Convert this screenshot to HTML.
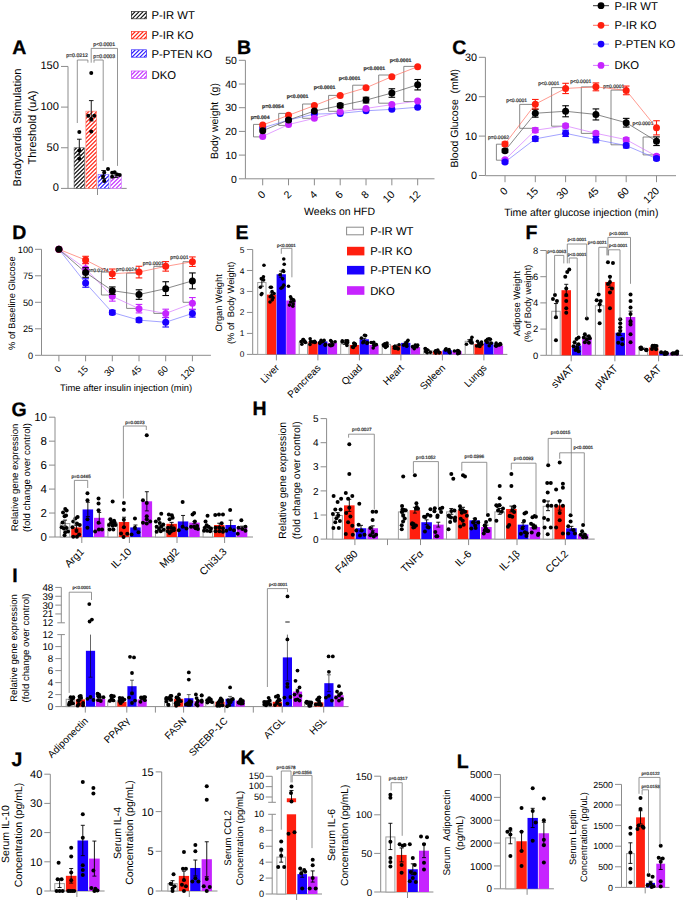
<!DOCTYPE html>
<html><head><meta charset="utf-8"><title>Figure</title>
<style>html,body{margin:0;padding:0;background:#fff;width:685px;height:901px;overflow:hidden}svg{display:block}text{font-family:"Liberation Sans",sans-serif}</style>
</head><body>
<svg width="685" height="901" viewBox="0 0 685 901" font-family="Liberation Sans" text-rendering="geometricPrecision"><defs>
<pattern id="hk" patternUnits="userSpaceOnUse" width="2.9" height="2.9" patternTransform="rotate(45)"><rect width="2.9" height="2.9" fill="#fff"/><line x1="0" y1="0" x2="0" y2="2.9" stroke="#111" stroke-width="1.45"/></pattern>
<pattern id="hr" patternUnits="userSpaceOnUse" width="2.9" height="2.9" patternTransform="rotate(45)"><rect width="2.9" height="2.9" fill="#fff"/><line x1="0" y1="0" x2="0" y2="2.9" stroke="#ff2a1a" stroke-width="1.45"/></pattern>
<pattern id="hb" patternUnits="userSpaceOnUse" width="2.9" height="2.9" patternTransform="rotate(45)"><rect width="2.9" height="2.9" fill="#fff"/><line x1="0" y1="0" x2="0" y2="2.9" stroke="#2a1aff" stroke-width="1.45"/></pattern>
<pattern id="hp" patternUnits="userSpaceOnUse" width="2.9" height="2.9" patternTransform="rotate(45)"><rect width="2.9" height="2.9" fill="#fff"/><line x1="0" y1="0" x2="0" y2="2.9" stroke="#c63aff" stroke-width="1.45"/></pattern>
</defs><rect width="685" height="901" fill="#fff"/><text x="12.3" y="54.2" font-size="19.5" font-weight="bold" fill="#000" stroke="#000" stroke-width="0.3">A</text>
<line x1="68" y1="66.45" x2="68" y2="188.4" stroke="#8c8c8c" stroke-width="1"/>
<line x1="61" y1="188.4" x2="68" y2="188.4" stroke="#8c8c8c" stroke-width="1"/>
<text x="58.9" y="191.4" font-size="11.1" text-anchor="end">0</text>
<line x1="61" y1="147.75" x2="68" y2="147.75" stroke="#8c8c8c" stroke-width="1"/>
<text x="58.9" y="150.75" font-size="11.1" text-anchor="end">50</text>
<line x1="61" y1="107.1" x2="68" y2="107.1" stroke="#8c8c8c" stroke-width="1"/>
<text x="58.9" y="110.1" font-size="11.1" text-anchor="end">100</text>
<line x1="61" y1="66.45" x2="68" y2="66.45" stroke="#8c8c8c" stroke-width="1"/>
<text x="58.9" y="69.45" font-size="11.1" text-anchor="end">150</text>
<line x1="68" y1="188.4" x2="126.7" y2="188.4" stroke="#8c8c8c" stroke-width="1"/>
<line x1="97.5" y1="188.4" x2="97.5" y2="195" stroke="#8c8c8c" stroke-width="1"/>
<text x="0" y="0" font-size="11.2" text-anchor="middle" transform="translate(21.32 127.5) rotate(-90)">Bradycardia Stimulation</text>
<text x="0" y="0" font-size="11.2" text-anchor="middle" transform="translate(35.62 127.5) rotate(-90)">Threshold (uA)</text>
<clipPath id="hc1"><rect x="74.1" y="147.75" width="10.4" height="40.65"/></clipPath>
<rect x="74.1" y="147.75" width="10.4" height="40.65" fill="#fff"/>
<path clip-path="url(#hc1)" d="M32 188.4L72.65 147.75M36 188.4L76.65 147.75M40 188.4L80.65 147.75M44 188.4L84.65 147.75M48 188.4L88.65 147.75M52 188.4L92.65 147.75M56 188.4L96.65 147.75M60 188.4L100.65 147.75M64 188.4L104.65 147.75M68 188.4L108.65 147.75M72 188.4L112.65 147.75M76 188.4L116.65 147.75M80 188.4L120.65 147.75M84 188.4L124.65 147.75" stroke="#111" stroke-width="1.2" fill="none"/>
<rect x="74.1" y="147.75" width="10.4" height="40.65" fill="none" stroke="#555" stroke-width="0.6"/>
<clipPath id="hc2"><rect x="85.9" y="111.17" width="10.7" height="77.23"/></clipPath>
<rect x="85.9" y="111.17" width="10.7" height="77.23" fill="#fff"/>
<path clip-path="url(#hc2)" d="M8 188.4L85.23 111.17M12 188.4L89.23 111.17M16 188.4L93.23 111.17M20 188.4L97.23 111.17M24 188.4L101.23 111.17M28 188.4L105.23 111.17M32 188.4L109.23 111.17M36 188.4L113.23 111.17M40 188.4L117.23 111.17M44 188.4L121.23 111.17M48 188.4L125.23 111.17M52 188.4L129.24 111.17M56 188.4L133.24 111.17M60 188.4L137.24 111.17M64 188.4L141.24 111.17M68 188.4L145.24 111.17M72 188.4L149.24 111.17M76 188.4L153.24 111.17M80 188.4L157.24 111.17M84 188.4L161.24 111.17M88 188.4L165.24 111.17M92 188.4L169.24 111.17M96 188.4L173.24 111.17" stroke="#ff2a1a" stroke-width="1.2" fill="none"/>
<rect x="85.9" y="111.17" width="10.7" height="77.23" fill="none" stroke="#ff6a5a" stroke-width="0.6"/>
<clipPath id="hc3"><rect x="98.1" y="174.58" width="10.8" height="13.82"/></clipPath>
<rect x="98.1" y="174.58" width="10.8" height="13.82" fill="#fff"/>
<path clip-path="url(#hc3)" d="M84 188.4L97.82 174.58M88 188.4L101.82 174.58M92 188.4L105.82 174.58M96 188.4L109.82 174.58M100 188.4L113.82 174.58M104 188.4L117.82 174.58M108 188.4L121.82 174.58" stroke="#2a1aff" stroke-width="1.2" fill="none"/>
<rect x="98.1" y="174.58" width="10.8" height="13.82" fill="none" stroke="#6a5aff" stroke-width="0.6"/>
<clipPath id="hc4"><rect x="110.5" y="176.21" width="10.9" height="12.19"/></clipPath>
<rect x="110.5" y="176.21" width="10.9" height="12.19" fill="#fff"/>
<path clip-path="url(#hc4)" d="M96 188.4L108.19 176.21M100 188.4L112.19 176.21M104 188.4L116.19 176.21M108 188.4L120.19 176.21M112 188.4L124.19 176.21M116 188.4L128.19 176.21M120 188.4L132.19 176.21" stroke="#c63aff" stroke-width="1.2" fill="none"/>
<rect x="110.5" y="176.21" width="10.9" height="12.19" fill="none" stroke="#d27aff" stroke-width="0.6"/>
<line x1="79.3" y1="155.07" x2="79.3" y2="139.21" stroke="#000000" stroke-width="0.9"/>
<line x1="77" y1="139.21" x2="81.6" y2="139.21" stroke="#000000" stroke-width="0.9"/>
<line x1="77" y1="155.07" x2="81.6" y2="155.07" stroke="#000000" stroke-width="0.9"/>
<circle cx="79.3" cy="131.98" r="2" fill="#000000"/>
<circle cx="79.3" cy="150.6" r="2" fill="#000000"/>
<circle cx="79.3" cy="158.81" r="2" fill="#000000"/>
<line x1="91.25" y1="120.92" x2="91.25" y2="100.6" stroke="#000000" stroke-width="0.9"/>
<line x1="88.95" y1="100.6" x2="93.55" y2="100.6" stroke="#000000" stroke-width="0.9"/>
<line x1="88.95" y1="120.92" x2="93.55" y2="120.92" stroke="#000000" stroke-width="0.9"/>
<circle cx="91.25" cy="72.95" r="2" fill="#000000"/>
<circle cx="88.25" cy="115.64" r="2" fill="#000000"/>
<circle cx="91.25" cy="118.89" r="2" fill="#000000"/>
<circle cx="94.25" cy="115.64" r="2" fill="#000000"/>
<circle cx="91.25" cy="131.49" r="2" fill="#000000"/>
<line x1="103.5" y1="178.64" x2="103.5" y2="170.51" stroke="#000000" stroke-width="0.9"/>
<line x1="101.2" y1="170.51" x2="105.8" y2="170.51" stroke="#000000" stroke-width="0.9"/>
<line x1="101.2" y1="178.64" x2="105.8" y2="178.64" stroke="#000000" stroke-width="0.9"/>
<circle cx="108" cy="168.89" r="2" fill="#000000"/>
<circle cx="104.2" cy="172.55" r="2" fill="#000000"/>
<circle cx="104.2" cy="181.08" r="2" fill="#000000"/>
<circle cx="103" cy="176.61" r="2" fill="#000000"/>
<line x1="115.95" y1="177.42" x2="115.95" y2="174.99" stroke="#000000" stroke-width="0.9"/>
<line x1="113.65" y1="174.99" x2="118.25" y2="174.99" stroke="#000000" stroke-width="0.9"/>
<line x1="113.65" y1="177.42" x2="118.25" y2="177.42" stroke="#000000" stroke-width="0.9"/>
<circle cx="112.15" cy="172.63" r="2" fill="#000000"/>
<circle cx="114.65" cy="172.14" r="2" fill="#000000"/>
<circle cx="112.15" cy="176.69" r="2" fill="#000000"/>
<circle cx="117.25" cy="174.58" r="2" fill="#000000"/>
<circle cx="119.75" cy="175.07" r="2" fill="#000000"/>
<polyline points="77.3,123 77.3,60 87.9,60 87.9,62.7" fill="none" stroke="#7a7a7a" stroke-width="0.8"/>
<text x="77.05" y="57.17" font-size="5.2" text-anchor="middle" fill="#333" stroke="#333" stroke-width="0.22">p=0.0212</text>
<polyline points="94,62.7 94,60 103.2,60 103.2,160.8" fill="none" stroke="#7a7a7a" stroke-width="0.8"/>
<text x="104.25" y="58.07" font-size="5.2" text-anchor="middle" fill="#333" stroke="#333" stroke-width="0.22">p=0.0003</text>
<polyline points="91.2,62.7 91.2,48.4 117.5,48.4 117.5,165.9" fill="none" stroke="#7a7a7a" stroke-width="0.8"/>
<text x="104.25" y="45.87" font-size="5.2" text-anchor="middle" fill="#333" stroke="#333" stroke-width="0.22">p&lt;0.0001</text>
<clipPath id="hc5"><rect x="131.4" y="11.4" width="15" height="7.4"/></clipPath>
<rect x="131.4" y="11.4" width="15" height="7.4" fill="#fff"/>
<path clip-path="url(#hc5)" d="M124 18.8L131.4 11.4M128 18.8L135.4 11.4M132 18.8L139.4 11.4M136 18.8L143.4 11.4M140 18.8L147.4 11.4M144 18.8L151.4 11.4" stroke="#111" stroke-width="1.2" fill="none"/>
<rect x="131.4" y="11.4" width="15" height="7.4" fill="none" stroke="#222" stroke-width="0.7"/>
<text x="151.5" y="19.1" font-size="11.3" text-anchor="start">P-IR WT</text>
<clipPath id="hc6"><rect x="131.4" y="31.5" width="15" height="7.4"/></clipPath>
<rect x="131.4" y="31.5" width="15" height="7.4" fill="#fff"/>
<path clip-path="url(#hc6)" d="M124 38.9L131.4 31.5M128 38.9L135.4 31.5M132 38.9L139.4 31.5M136 38.9L143.4 31.5M140 38.9L147.4 31.5M144 38.9L151.4 31.5" stroke="#ff2a1a" stroke-width="1.2" fill="none"/>
<rect x="131.4" y="31.5" width="15" height="7.4" fill="none" stroke="#ff2a1a" stroke-width="0.7"/>
<text x="151.5" y="39.2" font-size="11.3" text-anchor="start">P-IR KO</text>
<clipPath id="hc7"><rect x="131.4" y="49.8" width="15" height="7.4"/></clipPath>
<rect x="131.4" y="49.8" width="15" height="7.4" fill="#fff"/>
<path clip-path="url(#hc7)" d="M124 57.2L131.4 49.8M128 57.2L135.4 49.8M132 57.2L139.4 49.8M136 57.2L143.4 49.8M140 57.2L147.4 49.8M144 57.2L151.4 49.8" stroke="#2a1aff" stroke-width="1.2" fill="none"/>
<rect x="131.4" y="49.8" width="15" height="7.4" fill="none" stroke="#2a1aff" stroke-width="0.7"/>
<text x="151.5" y="57.5" font-size="11.3" text-anchor="start">P-PTEN KO</text>
<clipPath id="hc8"><rect x="131.4" y="71" width="15" height="7.4"/></clipPath>
<rect x="131.4" y="71" width="15" height="7.4" fill="#fff"/>
<path clip-path="url(#hc8)" d="M124 78.4L131.4 71M128 78.4L135.4 71M132 78.4L139.4 71M136 78.4L143.4 71M140 78.4L147.4 71M144 78.4L151.4 71" stroke="#c63aff" stroke-width="1.2" fill="none"/>
<rect x="131.4" y="71" width="15" height="7.4" fill="none" stroke="#c63aff" stroke-width="0.7"/>
<text x="151.5" y="78.7" font-size="11.3" text-anchor="start">DKO</text>
<text x="237" y="54.2" font-size="19.5" font-weight="bold" fill="#000" stroke="#000" stroke-width="0.3">B</text>
<line x1="245.4" y1="60.3" x2="245.4" y2="178.8" stroke="#8c8c8c" stroke-width="1"/>
<line x1="238.9" y1="178.8" x2="245.4" y2="178.8" stroke="#8c8c8c" stroke-width="1"/>
<text x="236.9" y="182.58" font-size="10.5" text-anchor="end">0</text>
<line x1="238.9" y1="155.1" x2="245.4" y2="155.1" stroke="#8c8c8c" stroke-width="1"/>
<text x="236.9" y="158.88" font-size="10.5" text-anchor="end">10</text>
<line x1="238.9" y1="131.4" x2="245.4" y2="131.4" stroke="#8c8c8c" stroke-width="1"/>
<text x="236.9" y="135.18" font-size="10.5" text-anchor="end">20</text>
<line x1="238.9" y1="107.7" x2="245.4" y2="107.7" stroke="#8c8c8c" stroke-width="1"/>
<text x="236.9" y="111.48" font-size="10.5" text-anchor="end">30</text>
<line x1="238.9" y1="84" x2="245.4" y2="84" stroke="#8c8c8c" stroke-width="1"/>
<text x="236.9" y="87.78" font-size="10.5" text-anchor="end">40</text>
<line x1="238.9" y1="60.3" x2="245.4" y2="60.3" stroke="#8c8c8c" stroke-width="1"/>
<text x="236.9" y="64.08" font-size="10.5" text-anchor="end">50</text>
<line x1="245.4" y1="178.8" x2="434.5" y2="178.8" stroke="#8c8c8c" stroke-width="1"/>
<line x1="262.7" y1="178.8" x2="262.7" y2="185.3" stroke="#8c8c8c" stroke-width="1"/>
<line x1="288.53" y1="178.8" x2="288.53" y2="185.3" stroke="#8c8c8c" stroke-width="1"/>
<line x1="314.36" y1="178.8" x2="314.36" y2="185.3" stroke="#8c8c8c" stroke-width="1"/>
<line x1="340.19" y1="178.8" x2="340.19" y2="185.3" stroke="#8c8c8c" stroke-width="1"/>
<line x1="366.02" y1="178.8" x2="366.02" y2="185.3" stroke="#8c8c8c" stroke-width="1"/>
<line x1="391.85" y1="178.8" x2="391.85" y2="185.3" stroke="#8c8c8c" stroke-width="1"/>
<line x1="417.68" y1="178.8" x2="417.68" y2="185.3" stroke="#8c8c8c" stroke-width="1"/>
<text x="0" y="0" font-size="10.5" text-anchor="end" transform="translate(266.2 195) rotate(-45)">0</text>
<text x="0" y="0" font-size="10.5" text-anchor="end" transform="translate(292.03 195) rotate(-45)">2</text>
<text x="0" y="0" font-size="10.5" text-anchor="end" transform="translate(317.86 195) rotate(-45)">4</text>
<text x="0" y="0" font-size="10.5" text-anchor="end" transform="translate(343.69 195) rotate(-45)">6</text>
<text x="0" y="0" font-size="10.5" text-anchor="end" transform="translate(369.52 195) rotate(-45)">8</text>
<text x="0" y="0" font-size="10.5" text-anchor="end" transform="translate(395.35 195) rotate(-45)">10</text>
<text x="0" y="0" font-size="10.5" text-anchor="end" transform="translate(421.18 195) rotate(-45)">12</text>
<text x="0" y="0" font-size="10.5" text-anchor="middle" transform="translate(218.38 121) rotate(-90)">Body weight&#160;&#160;(g)</text>
<text x="339.6" y="215.3" font-size="10.5" text-anchor="middle">Weeks on HFD</text>
<polyline points="260.7,124.4 253.5,124.4 253.5,136.9 260.7,136.9" fill="none" stroke="#6a6a6a" stroke-width="0.8"/>
<polyline points="286.53,113.4 278.7,113.4 278.7,125.4 286.53,125.4" fill="none" stroke="#6a6a6a" stroke-width="0.8"/>
<polyline points="312.36,104 302.6,104 302.6,118.3 312.36,118.3" fill="none" stroke="#6a6a6a" stroke-width="0.8"/>
<polyline points="338.19,95.4 328.6,95.4 328.6,111.3 338.19,111.3" fill="none" stroke="#6a6a6a" stroke-width="0.8"/>
<polyline points="364.02,85.2 352.7,85.2 352.7,109.3 364.02,109.3" fill="none" stroke="#6a6a6a" stroke-width="0.8"/>
<polyline points="389.85,75 378.7,75 378.7,103.2 389.85,103.2" fill="none" stroke="#6a6a6a" stroke-width="0.8"/>
<polyline points="415.68,66.4 403.8,66.4 403.8,101.5 415.68,101.5" fill="none" stroke="#6a6a6a" stroke-width="0.8"/>
<text x="260.1" y="119.34" font-size="5.1" text-anchor="middle" fill="#333" stroke="#333" stroke-width="0.22" font-weight="bold">p=0.004</text>
<text x="272.9" y="107.64" font-size="5.1" text-anchor="middle" fill="#333" stroke="#333" stroke-width="0.22" font-weight="bold">p=0.0054</text>
<text x="297.6" y="98.44" font-size="5.1" text-anchor="middle" fill="#333" stroke="#333" stroke-width="0.22" font-weight="bold">p&lt;0.0001</text>
<text x="324.5" y="89.44" font-size="5.1" text-anchor="middle" fill="#333" stroke="#333" stroke-width="0.22" font-weight="bold">p&lt;0.0001</text>
<text x="349.5" y="79.84" font-size="5.1" text-anchor="middle" fill="#333" stroke="#333" stroke-width="0.22" font-weight="bold">p&lt;0.0001</text>
<text x="374.25" y="70.04" font-size="5.1" text-anchor="middle" fill="#333" stroke="#333" stroke-width="0.22" font-weight="bold">p&lt;0.0001</text>
<text x="400.5" y="61.84" font-size="5.1" text-anchor="middle" fill="#333" stroke="#333" stroke-width="0.22" font-weight="bold">p&lt;0.0001</text>
<polyline points="262.7,127.84 288.53,120.02 314.36,114.1 340.19,113.39 366.02,110.78 391.85,109.36 417.68,107.23" fill="none" stroke="#7b7bff" stroke-width="0.7"/>
<polyline points="262.7,136.38 288.53,124.53 314.36,118.37 340.19,111.73 366.02,108.41 391.85,104.62 417.68,101.06" fill="none" stroke="#d67aff" stroke-width="0.7"/>
<polyline points="262.7,125 288.53,115.28 314.36,105.57 340.19,95.38 366.02,87.79 391.85,76.65 417.68,66.7" fill="none" stroke="#ff6e60" stroke-width="0.7"/>
<polyline points="262.7,130.69 288.53,120.02 314.36,111.02 340.19,105.57 366.02,100.12 391.85,93.01 417.68,84.71" fill="none" stroke="#555" stroke-width="0.7"/>
<circle cx="262.7" cy="127.84" r="3.5" fill="#1a00ff"/>
<circle cx="288.53" cy="120.02" r="3.5" fill="#1a00ff"/>
<circle cx="314.36" cy="114.1" r="3.5" fill="#1a00ff"/>
<circle cx="340.19" cy="113.39" r="3.5" fill="#1a00ff"/>
<circle cx="366.02" cy="110.78" r="3.5" fill="#1a00ff"/>
<circle cx="391.85" cy="109.36" r="3.5" fill="#1a00ff"/>
<circle cx="417.68" cy="107.23" r="3.5" fill="#1a00ff"/>
<circle cx="262.7" cy="136.38" r="3.5" fill="#c624ff"/>
<circle cx="288.53" cy="124.53" r="3.5" fill="#c624ff"/>
<circle cx="314.36" cy="118.37" r="3.5" fill="#c624ff"/>
<circle cx="340.19" cy="111.73" r="3.5" fill="#c624ff"/>
<circle cx="366.02" cy="108.41" r="3.5" fill="#c624ff"/>
<circle cx="391.85" cy="104.62" r="3.5" fill="#c624ff"/>
<circle cx="417.68" cy="101.06" r="3.5" fill="#c624ff"/>
<circle cx="262.7" cy="125" r="3.5" fill="#ff1f0f"/>
<circle cx="288.53" cy="115.28" r="3.5" fill="#ff1f0f"/>
<circle cx="314.36" cy="105.57" r="3.5" fill="#ff1f0f"/>
<circle cx="340.19" cy="95.38" r="3.5" fill="#ff1f0f"/>
<circle cx="366.02" cy="87.79" r="3.5" fill="#ff1f0f"/>
<circle cx="391.85" cy="76.65" r="3.5" fill="#ff1f0f"/>
<circle cx="417.68" cy="66.7" r="3.5" fill="#ff1f0f"/>
<line x1="340.19" y1="107.7" x2="340.19" y2="103.43" stroke="#000" stroke-width="1.1"/>
<line x1="336.89" y1="103.43" x2="343.49" y2="103.43" stroke="#000" stroke-width="1.1"/>
<line x1="336.89" y1="107.7" x2="343.49" y2="107.7" stroke="#000" stroke-width="1.1"/>
<line x1="366.02" y1="102.96" x2="366.02" y2="97.27" stroke="#000" stroke-width="1.1"/>
<line x1="362.72" y1="97.27" x2="369.32" y2="97.27" stroke="#000" stroke-width="1.1"/>
<line x1="362.72" y1="102.96" x2="369.32" y2="102.96" stroke="#000" stroke-width="1.1"/>
<line x1="391.85" y1="97.27" x2="391.85" y2="88.74" stroke="#000" stroke-width="1.1"/>
<line x1="388.55" y1="88.74" x2="395.15" y2="88.74" stroke="#000" stroke-width="1.1"/>
<line x1="388.55" y1="97.27" x2="395.15" y2="97.27" stroke="#000" stroke-width="1.1"/>
<line x1="417.68" y1="89.93" x2="417.68" y2="79.5" stroke="#000" stroke-width="1.1"/>
<line x1="414.38" y1="79.5" x2="420.98" y2="79.5" stroke="#000" stroke-width="1.1"/>
<line x1="414.38" y1="89.93" x2="420.98" y2="89.93" stroke="#000" stroke-width="1.1"/>
<circle cx="262.7" cy="130.69" r="3.5" fill="#000000"/>
<circle cx="288.53" cy="120.02" r="3.5" fill="#000000"/>
<circle cx="314.36" cy="111.02" r="3.5" fill="#000000"/>
<circle cx="340.19" cy="105.57" r="3.5" fill="#000000"/>
<circle cx="366.02" cy="100.12" r="3.5" fill="#000000"/>
<circle cx="391.85" cy="93.01" r="3.5" fill="#000000"/>
<circle cx="417.68" cy="84.71" r="3.5" fill="#000000"/>
<text x="452.3" y="53.6" font-size="19.5" font-weight="bold" fill="#000" stroke="#000" stroke-width="0.3">C</text>
<line x1="485.4" y1="57.3" x2="485.4" y2="175.5" stroke="#8c8c8c" stroke-width="1"/>
<line x1="478.9" y1="175.5" x2="485.4" y2="175.5" stroke="#8c8c8c" stroke-width="1"/>
<text x="477.1" y="179.39" font-size="10.8" text-anchor="end">0</text>
<line x1="478.9" y1="136.1" x2="485.4" y2="136.1" stroke="#8c8c8c" stroke-width="1"/>
<text x="477.1" y="139.99" font-size="10.8" text-anchor="end">10</text>
<line x1="478.9" y1="96.7" x2="485.4" y2="96.7" stroke="#8c8c8c" stroke-width="1"/>
<text x="477.1" y="100.59" font-size="10.8" text-anchor="end">20</text>
<line x1="478.9" y1="57.3" x2="485.4" y2="57.3" stroke="#8c8c8c" stroke-width="1"/>
<text x="477.1" y="61.19" font-size="10.8" text-anchor="end">30</text>
<line x1="485.4" y1="175.7" x2="676" y2="175.7" stroke="#8c8c8c" stroke-width="1"/>
<line x1="505" y1="175.7" x2="505" y2="182.2" stroke="#8c8c8c" stroke-width="1"/>
<line x1="535.3" y1="175.7" x2="535.3" y2="182.2" stroke="#8c8c8c" stroke-width="1"/>
<line x1="565.6" y1="175.7" x2="565.6" y2="182.2" stroke="#8c8c8c" stroke-width="1"/>
<line x1="595.9" y1="175.7" x2="595.9" y2="182.2" stroke="#8c8c8c" stroke-width="1"/>
<line x1="626.2" y1="175.7" x2="626.2" y2="182.2" stroke="#8c8c8c" stroke-width="1"/>
<line x1="656.5" y1="175.7" x2="656.5" y2="182.2" stroke="#8c8c8c" stroke-width="1"/>
<text x="0" y="0" font-size="10.5" text-anchor="end" transform="translate(508.5 191.5) rotate(-45)">0</text>
<text x="0" y="0" font-size="10.5" text-anchor="end" transform="translate(538.8 191.5) rotate(-45)">15</text>
<text x="0" y="0" font-size="10.5" text-anchor="end" transform="translate(569.1 191.5) rotate(-45)">30</text>
<text x="0" y="0" font-size="10.5" text-anchor="end" transform="translate(599.4 191.5) rotate(-45)">45</text>
<text x="0" y="0" font-size="10.5" text-anchor="end" transform="translate(629.7 191.5) rotate(-45)">60</text>
<text x="0" y="0" font-size="10.5" text-anchor="end" transform="translate(660 191.5) rotate(-45)">120</text>
<text x="0" y="0" font-size="10.5" text-anchor="middle" transform="translate(457.57 118.2) rotate(-90)">Blood Glucose&#160;&#160;(mM)</text>
<text x="581.3" y="215.5" font-size="10.5" text-anchor="middle">Time after glucose injection (min)</text>
<polyline points="503,144.2 496.4,144.2 496.4,160.2 503,160.2" fill="none" stroke="#6a6a6a" stroke-width="0.8"/>
<polyline points="533.3,104.4 519.7,104.4 519.7,128.3 533.3,128.3" fill="none" stroke="#6a6a6a" stroke-width="0.8"/>
<polyline points="563.6,87.6 551.6,87.6 551.6,126.2 563.6,126.2" fill="none" stroke="#6a6a6a" stroke-width="0.8"/>
<polyline points="593.9,86.9 581.3,86.9 581.3,133.4 593.9,133.4" fill="none" stroke="#6a6a6a" stroke-width="0.8"/>
<polyline points="624.2,90.1 611,90.1 611,144.8 624.2,144.8" fill="none" stroke="#6a6a6a" stroke-width="0.8"/>
<polyline points="654.5,137 643.1,137 643.1,154.9 654.5,154.9" fill="none" stroke="#6a6a6a" stroke-width="0.8"/>
<text x="498.5" y="139.3" font-size="5" text-anchor="middle" fill="#333" stroke="#333" stroke-width="0.22">p=0.0062</text>
<text x="516.65" y="102.1" font-size="5" text-anchor="middle" fill="#333" stroke="#333" stroke-width="0.22">p&lt;0.0001</text>
<text x="548.8" y="85.3" font-size="5" text-anchor="middle" fill="#333" stroke="#333" stroke-width="0.22">p&lt;0.0001</text>
<text x="580.75" y="82.6" font-size="5" text-anchor="middle" fill="#333" stroke="#333" stroke-width="0.22">p&lt;0.0001</text>
<text x="613.85" y="88.4" font-size="5" text-anchor="middle" fill="#333" stroke="#333" stroke-width="0.22">p=0.0001</text>
<text x="642.95" y="125.2" font-size="5" text-anchor="middle" fill="#333" stroke="#333" stroke-width="0.22">p&lt;0.0001</text>
<polyline points="505,159.74 535.3,130.19 565.6,125.86 595.9,133.34 626.2,139.65 656.5,156.19" fill="none" stroke="#d67aff" stroke-width="0.7"/>
<polyline points="505,162.1 535.3,138.86 565.6,133.34 595.9,139.65 626.2,145.56 656.5,158.56" fill="none" stroke="#7b7bff" stroke-width="0.7"/>
<polyline points="505,150.68 535.3,113.25 565.6,111.28 595.9,114.43 626.2,122.7 656.5,141.22" fill="none" stroke="#555" stroke-width="0.7"/>
<polyline points="505,143.98 535.3,104.19 565.6,88.43 595.9,86.85 626.2,90.4 656.5,127.83" fill="none" stroke="#ff6e60" stroke-width="0.7"/>
<line x1="505" y1="160.92" x2="505" y2="158.56" stroke="#c624ff" stroke-width="1.1"/>
<line x1="501.7" y1="158.56" x2="508.3" y2="158.56" stroke="#c624ff" stroke-width="1.1"/>
<line x1="501.7" y1="160.92" x2="508.3" y2="160.92" stroke="#c624ff" stroke-width="1.1"/>
<line x1="535.3" y1="132.55" x2="535.3" y2="127.83" stroke="#c624ff" stroke-width="1.1"/>
<line x1="532" y1="127.83" x2="538.6" y2="127.83" stroke="#c624ff" stroke-width="1.1"/>
<line x1="532" y1="132.55" x2="538.6" y2="132.55" stroke="#c624ff" stroke-width="1.1"/>
<line x1="565.6" y1="127.83" x2="565.6" y2="123.89" stroke="#c624ff" stroke-width="1.1"/>
<line x1="562.3" y1="123.89" x2="568.9" y2="123.89" stroke="#c624ff" stroke-width="1.1"/>
<line x1="562.3" y1="127.83" x2="568.9" y2="127.83" stroke="#c624ff" stroke-width="1.1"/>
<line x1="595.9" y1="135.31" x2="595.9" y2="131.37" stroke="#c624ff" stroke-width="1.1"/>
<line x1="592.6" y1="131.37" x2="599.2" y2="131.37" stroke="#c624ff" stroke-width="1.1"/>
<line x1="592.6" y1="135.31" x2="599.2" y2="135.31" stroke="#c624ff" stroke-width="1.1"/>
<line x1="626.2" y1="141.62" x2="626.2" y2="137.68" stroke="#c624ff" stroke-width="1.1"/>
<line x1="622.9" y1="137.68" x2="629.5" y2="137.68" stroke="#c624ff" stroke-width="1.1"/>
<line x1="622.9" y1="141.62" x2="629.5" y2="141.62" stroke="#c624ff" stroke-width="1.1"/>
<line x1="656.5" y1="157.77" x2="656.5" y2="154.62" stroke="#c624ff" stroke-width="1.1"/>
<line x1="653.2" y1="154.62" x2="659.8" y2="154.62" stroke="#c624ff" stroke-width="1.1"/>
<line x1="653.2" y1="157.77" x2="659.8" y2="157.77" stroke="#c624ff" stroke-width="1.1"/>
<circle cx="505" cy="159.74" r="3.5" fill="#c624ff"/>
<circle cx="535.3" cy="130.19" r="3.5" fill="#c624ff"/>
<circle cx="565.6" cy="125.86" r="3.5" fill="#c624ff"/>
<circle cx="595.9" cy="133.34" r="3.5" fill="#c624ff"/>
<circle cx="626.2" cy="139.65" r="3.5" fill="#c624ff"/>
<circle cx="656.5" cy="156.19" r="3.5" fill="#c624ff"/>
<line x1="505" y1="163.29" x2="505" y2="160.92" stroke="#1a00ff" stroke-width="1.1"/>
<line x1="501.7" y1="160.92" x2="508.3" y2="160.92" stroke="#1a00ff" stroke-width="1.1"/>
<line x1="501.7" y1="163.29" x2="508.3" y2="163.29" stroke="#1a00ff" stroke-width="1.1"/>
<line x1="535.3" y1="141.22" x2="535.3" y2="136.49" stroke="#1a00ff" stroke-width="1.1"/>
<line x1="532" y1="136.49" x2="538.6" y2="136.49" stroke="#1a00ff" stroke-width="1.1"/>
<line x1="532" y1="141.22" x2="538.6" y2="141.22" stroke="#1a00ff" stroke-width="1.1"/>
<line x1="565.6" y1="136.49" x2="565.6" y2="130.19" stroke="#1a00ff" stroke-width="1.1"/>
<line x1="562.3" y1="130.19" x2="568.9" y2="130.19" stroke="#1a00ff" stroke-width="1.1"/>
<line x1="562.3" y1="136.49" x2="568.9" y2="136.49" stroke="#1a00ff" stroke-width="1.1"/>
<line x1="595.9" y1="142.8" x2="595.9" y2="136.49" stroke="#1a00ff" stroke-width="1.1"/>
<line x1="592.6" y1="136.49" x2="599.2" y2="136.49" stroke="#1a00ff" stroke-width="1.1"/>
<line x1="592.6" y1="142.8" x2="599.2" y2="142.8" stroke="#1a00ff" stroke-width="1.1"/>
<line x1="626.2" y1="147.92" x2="626.2" y2="143.19" stroke="#1a00ff" stroke-width="1.1"/>
<line x1="622.9" y1="143.19" x2="629.5" y2="143.19" stroke="#1a00ff" stroke-width="1.1"/>
<line x1="622.9" y1="147.92" x2="629.5" y2="147.92" stroke="#1a00ff" stroke-width="1.1"/>
<line x1="656.5" y1="160.13" x2="656.5" y2="156.98" stroke="#1a00ff" stroke-width="1.1"/>
<line x1="653.2" y1="156.98" x2="659.8" y2="156.98" stroke="#1a00ff" stroke-width="1.1"/>
<line x1="653.2" y1="160.13" x2="659.8" y2="160.13" stroke="#1a00ff" stroke-width="1.1"/>
<circle cx="505" cy="162.1" r="3.5" fill="#1a00ff"/>
<circle cx="535.3" cy="138.86" r="3.5" fill="#1a00ff"/>
<circle cx="565.6" cy="133.34" r="3.5" fill="#1a00ff"/>
<circle cx="595.9" cy="139.65" r="3.5" fill="#1a00ff"/>
<circle cx="626.2" cy="145.56" r="3.5" fill="#1a00ff"/>
<circle cx="656.5" cy="158.56" r="3.5" fill="#1a00ff"/>
<line x1="505" y1="152.25" x2="505" y2="149.1" stroke="#000" stroke-width="1.1"/>
<line x1="501.7" y1="149.1" x2="508.3" y2="149.1" stroke="#000" stroke-width="1.1"/>
<line x1="501.7" y1="152.25" x2="508.3" y2="152.25" stroke="#000" stroke-width="1.1"/>
<line x1="535.3" y1="117.19" x2="535.3" y2="109.31" stroke="#000" stroke-width="1.1"/>
<line x1="532" y1="109.31" x2="538.6" y2="109.31" stroke="#000" stroke-width="1.1"/>
<line x1="532" y1="117.19" x2="538.6" y2="117.19" stroke="#000" stroke-width="1.1"/>
<line x1="565.6" y1="116.79" x2="565.6" y2="105.76" stroke="#000" stroke-width="1.1"/>
<line x1="562.3" y1="105.76" x2="568.9" y2="105.76" stroke="#000" stroke-width="1.1"/>
<line x1="562.3" y1="116.79" x2="568.9" y2="116.79" stroke="#000" stroke-width="1.1"/>
<line x1="595.9" y1="119.95" x2="595.9" y2="108.91" stroke="#000" stroke-width="1.1"/>
<line x1="592.6" y1="108.91" x2="599.2" y2="108.91" stroke="#000" stroke-width="1.1"/>
<line x1="592.6" y1="119.95" x2="599.2" y2="119.95" stroke="#000" stroke-width="1.1"/>
<line x1="626.2" y1="127.04" x2="626.2" y2="118.37" stroke="#000" stroke-width="1.1"/>
<line x1="622.9" y1="118.37" x2="629.5" y2="118.37" stroke="#000" stroke-width="1.1"/>
<line x1="622.9" y1="127.04" x2="629.5" y2="127.04" stroke="#000" stroke-width="1.1"/>
<line x1="656.5" y1="145.56" x2="656.5" y2="136.89" stroke="#000" stroke-width="1.1"/>
<line x1="653.2" y1="136.89" x2="659.8" y2="136.89" stroke="#000" stroke-width="1.1"/>
<line x1="653.2" y1="145.56" x2="659.8" y2="145.56" stroke="#000" stroke-width="1.1"/>
<circle cx="505" cy="150.68" r="3.5" fill="#000000"/>
<circle cx="535.3" cy="113.25" r="3.5" fill="#000000"/>
<circle cx="565.6" cy="111.28" r="3.5" fill="#000000"/>
<circle cx="595.9" cy="114.43" r="3.5" fill="#000000"/>
<circle cx="626.2" cy="122.7" r="3.5" fill="#000000"/>
<circle cx="656.5" cy="141.22" r="3.5" fill="#000000"/>
<line x1="505" y1="145.95" x2="505" y2="142.01" stroke="#ff1f0f" stroke-width="1.1"/>
<line x1="501.7" y1="142.01" x2="508.3" y2="142.01" stroke="#ff1f0f" stroke-width="1.1"/>
<line x1="501.7" y1="145.95" x2="508.3" y2="145.95" stroke="#ff1f0f" stroke-width="1.1"/>
<line x1="535.3" y1="108.91" x2="535.3" y2="99.46" stroke="#ff1f0f" stroke-width="1.1"/>
<line x1="532" y1="99.46" x2="538.6" y2="99.46" stroke="#ff1f0f" stroke-width="1.1"/>
<line x1="532" y1="108.91" x2="538.6" y2="108.91" stroke="#ff1f0f" stroke-width="1.1"/>
<line x1="565.6" y1="93.55" x2="565.6" y2="83.3" stroke="#ff1f0f" stroke-width="1.1"/>
<line x1="562.3" y1="83.3" x2="568.9" y2="83.3" stroke="#ff1f0f" stroke-width="1.1"/>
<line x1="562.3" y1="93.55" x2="568.9" y2="93.55" stroke="#ff1f0f" stroke-width="1.1"/>
<line x1="595.9" y1="90.79" x2="595.9" y2="82.91" stroke="#ff1f0f" stroke-width="1.1"/>
<line x1="592.6" y1="82.91" x2="599.2" y2="82.91" stroke="#ff1f0f" stroke-width="1.1"/>
<line x1="592.6" y1="90.79" x2="599.2" y2="90.79" stroke="#ff1f0f" stroke-width="1.1"/>
<line x1="626.2" y1="94.73" x2="626.2" y2="86.06" stroke="#ff1f0f" stroke-width="1.1"/>
<line x1="622.9" y1="86.06" x2="629.5" y2="86.06" stroke="#ff1f0f" stroke-width="1.1"/>
<line x1="622.9" y1="94.73" x2="629.5" y2="94.73" stroke="#ff1f0f" stroke-width="1.1"/>
<line x1="656.5" y1="134.92" x2="656.5" y2="120.73" stroke="#ff1f0f" stroke-width="1.1"/>
<line x1="653.2" y1="120.73" x2="659.8" y2="120.73" stroke="#ff1f0f" stroke-width="1.1"/>
<line x1="653.2" y1="134.92" x2="659.8" y2="134.92" stroke="#ff1f0f" stroke-width="1.1"/>
<circle cx="505" cy="143.98" r="3.5" fill="#ff1f0f"/>
<circle cx="535.3" cy="104.19" r="3.5" fill="#ff1f0f"/>
<circle cx="565.6" cy="88.43" r="3.5" fill="#ff1f0f"/>
<circle cx="595.9" cy="86.85" r="3.5" fill="#ff1f0f"/>
<circle cx="626.2" cy="90.4" r="3.5" fill="#ff1f0f"/>
<circle cx="656.5" cy="127.83" r="3.5" fill="#ff1f0f"/>
<line x1="593" y1="5.7" x2="609" y2="5.7" stroke="#333" stroke-width="1"/>
<circle cx="601" cy="5.7" r="3.4" fill="#000000"/>
<text x="614.5" y="9.7" font-size="11.3" text-anchor="start">P-IR WT</text>
<line x1="593" y1="25.3" x2="609" y2="25.3" stroke="#ff6e60" stroke-width="1"/>
<circle cx="601" cy="25.3" r="3.4" fill="#ff1f0f"/>
<text x="614.5" y="29.3" font-size="11.3" text-anchor="start">P-IR KO</text>
<line x1="593" y1="44.1" x2="609" y2="44.1" stroke="#9a9aff" stroke-width="1"/>
<circle cx="601" cy="44.1" r="3.4" fill="#1a00ff"/>
<text x="614.5" y="48.1" font-size="11.3" text-anchor="start">P-PTEN KO</text>
<line x1="593" y1="65.4" x2="609" y2="65.4" stroke="#d67aff" stroke-width="1"/>
<circle cx="601" cy="65.4" r="3.4" fill="#c624ff"/>
<text x="614.5" y="69.4" font-size="11.3" text-anchor="start">DKO</text>
<text x="12.3" y="238.6" font-size="19.5" font-weight="bold" fill="#000" stroke="#000" stroke-width="0.3">D</text>
<line x1="41.5" y1="249.3" x2="41.5" y2="355.3" stroke="#8c8c8c" stroke-width="1"/>
<line x1="35" y1="355.3" x2="41.5" y2="355.3" stroke="#8c8c8c" stroke-width="1"/>
<text x="33.2" y="358.61" font-size="9.2" text-anchor="end">0</text>
<line x1="35" y1="328.8" x2="41.5" y2="328.8" stroke="#8c8c8c" stroke-width="1"/>
<text x="33.2" y="332.11" font-size="9.2" text-anchor="end">25</text>
<line x1="35" y1="302.3" x2="41.5" y2="302.3" stroke="#8c8c8c" stroke-width="1"/>
<text x="33.2" y="305.61" font-size="9.2" text-anchor="end">50</text>
<line x1="35" y1="275.8" x2="41.5" y2="275.8" stroke="#8c8c8c" stroke-width="1"/>
<text x="33.2" y="279.11" font-size="9.2" text-anchor="end">75</text>
<line x1="35" y1="249.3" x2="41.5" y2="249.3" stroke="#8c8c8c" stroke-width="1"/>
<text x="33.2" y="252.61" font-size="9.2" text-anchor="end">100</text>
<line x1="41.5" y1="355.3" x2="210.9" y2="355.3" stroke="#8c8c8c" stroke-width="1"/>
<line x1="58.9" y1="355.3" x2="58.9" y2="361.3" stroke="#8c8c8c" stroke-width="1"/>
<line x1="85.6" y1="355.3" x2="85.6" y2="361.3" stroke="#8c8c8c" stroke-width="1"/>
<line x1="112.3" y1="355.3" x2="112.3" y2="361.3" stroke="#8c8c8c" stroke-width="1"/>
<line x1="139" y1="355.3" x2="139" y2="361.3" stroke="#8c8c8c" stroke-width="1"/>
<line x1="165.7" y1="355.3" x2="165.7" y2="361.3" stroke="#8c8c8c" stroke-width="1"/>
<line x1="192.4" y1="355.3" x2="192.4" y2="361.3" stroke="#8c8c8c" stroke-width="1"/>
<text x="0" y="0" font-size="9.4" text-anchor="end" transform="translate(61.9 369.5) rotate(-45)">0</text>
<text x="0" y="0" font-size="9.4" text-anchor="end" transform="translate(88.6 369.5) rotate(-45)">15</text>
<text x="0" y="0" font-size="9.4" text-anchor="end" transform="translate(115.3 369.5) rotate(-45)">30</text>
<text x="0" y="0" font-size="9.4" text-anchor="end" transform="translate(142 369.5) rotate(-45)">45</text>
<text x="0" y="0" font-size="9.4" text-anchor="end" transform="translate(168.7 369.5) rotate(-45)">60</text>
<text x="0" y="0" font-size="9.4" text-anchor="end" transform="translate(195.4 369.5) rotate(-45)">120</text>
<text x="0" y="0" font-size="9.3" text-anchor="middle" transform="translate(14.75 303.2) rotate(-90)">% of Baseline Glucose</text>
<text x="126.1" y="390.6" font-size="9.4" text-anchor="middle">Time after insulin injection (min)</text>
<polyline points="110.3,272.1 101.4,272.1 101.4,295 110.3,295" fill="none" stroke="#6a6a6a" stroke-width="0.8"/>
<polyline points="137,273.1 126.6,273.1 126.6,308.4 137,308.4" fill="none" stroke="#6a6a6a" stroke-width="0.8"/>
<polyline points="163.7,266.4 153.8,266.4 153.8,313.4 163.7,313.4" fill="none" stroke="#6a6a6a" stroke-width="0.8"/>
<polyline points="190.4,261.7 183,261.7 183,302.3 190.4,302.3" fill="none" stroke="#6a6a6a" stroke-width="0.8"/>
<text x="98" y="271.6" font-size="5" text-anchor="middle" fill="#333" stroke="#333" stroke-width="0.22">p=0.0274</text>
<text x="126.45" y="270.6" font-size="5" text-anchor="middle" fill="#333" stroke="#333" stroke-width="0.22">p=0.0024</text>
<text x="153.3" y="264.8" font-size="5" text-anchor="middle" fill="#333" stroke="#333" stroke-width="0.22">p=0.0001</text>
<text x="179.35" y="258.8" font-size="5" text-anchor="middle" fill="#333" stroke="#333" stroke-width="0.22">p=0.001</text>
<polyline points="58.9,249.3 85.6,283.01 112.3,312.48 139,320.11 165.7,322.23 192.4,313.43" fill="none" stroke="#7b7bff" stroke-width="0.7"/>
<polyline points="58.9,249.3 85.6,268.7 112.3,296.36 139,308.66 165.7,313.43 192.4,303.36" fill="none" stroke="#d67aff" stroke-width="0.7"/>
<polyline points="58.9,249.3 85.6,260.01 112.3,273.79 139,272.09 165.7,266.37 192.4,261.7" fill="none" stroke="#ff6e60" stroke-width="0.7"/>
<polyline points="58.9,249.3 85.6,272.51 112.3,290.64 139,294.56 165.7,288.63 192.4,280.89" fill="none" stroke="#555" stroke-width="0.7"/>
<line x1="85.6" y1="287.25" x2="85.6" y2="278.77" stroke="#1a00ff" stroke-width="1.1"/>
<line x1="82.3" y1="278.77" x2="88.9" y2="278.77" stroke="#1a00ff" stroke-width="1.1"/>
<line x1="82.3" y1="287.25" x2="88.9" y2="287.25" stroke="#1a00ff" stroke-width="1.1"/>
<line x1="112.3" y1="314.6" x2="112.3" y2="310.36" stroke="#1a00ff" stroke-width="1.1"/>
<line x1="109" y1="310.36" x2="115.6" y2="310.36" stroke="#1a00ff" stroke-width="1.1"/>
<line x1="109" y1="314.6" x2="115.6" y2="314.6" stroke="#1a00ff" stroke-width="1.1"/>
<line x1="139" y1="322.23" x2="139" y2="317.99" stroke="#1a00ff" stroke-width="1.1"/>
<line x1="135.7" y1="317.99" x2="142.3" y2="317.99" stroke="#1a00ff" stroke-width="1.1"/>
<line x1="135.7" y1="322.23" x2="142.3" y2="322.23" stroke="#1a00ff" stroke-width="1.1"/>
<line x1="165.7" y1="327" x2="165.7" y2="317.46" stroke="#1a00ff" stroke-width="1.1"/>
<line x1="162.4" y1="317.46" x2="169" y2="317.46" stroke="#1a00ff" stroke-width="1.1"/>
<line x1="162.4" y1="327" x2="169" y2="327" stroke="#1a00ff" stroke-width="1.1"/>
<line x1="192.4" y1="317.14" x2="192.4" y2="309.72" stroke="#1a00ff" stroke-width="1.1"/>
<line x1="189.1" y1="309.72" x2="195.7" y2="309.72" stroke="#1a00ff" stroke-width="1.1"/>
<line x1="189.1" y1="317.14" x2="195.7" y2="317.14" stroke="#1a00ff" stroke-width="1.1"/>
<circle cx="58.9" cy="249.3" r="3.5" fill="#1a00ff"/>
<circle cx="85.6" cy="283.01" r="3.5" fill="#1a00ff"/>
<circle cx="112.3" cy="312.48" r="3.5" fill="#1a00ff"/>
<circle cx="139" cy="320.11" r="3.5" fill="#1a00ff"/>
<circle cx="165.7" cy="322.23" r="3.5" fill="#1a00ff"/>
<circle cx="192.4" cy="313.43" r="3.5" fill="#1a00ff"/>
<line x1="85.6" y1="274" x2="85.6" y2="263.4" stroke="#c624ff" stroke-width="1.1"/>
<line x1="82.3" y1="263.4" x2="88.9" y2="263.4" stroke="#c624ff" stroke-width="1.1"/>
<line x1="82.3" y1="274" x2="88.9" y2="274" stroke="#c624ff" stroke-width="1.1"/>
<line x1="112.3" y1="301.13" x2="112.3" y2="291.59" stroke="#c624ff" stroke-width="1.1"/>
<line x1="109" y1="291.59" x2="115.6" y2="291.59" stroke="#c624ff" stroke-width="1.1"/>
<line x1="109" y1="301.13" x2="115.6" y2="301.13" stroke="#c624ff" stroke-width="1.1"/>
<line x1="139" y1="312.9" x2="139" y2="304.42" stroke="#c624ff" stroke-width="1.1"/>
<line x1="135.7" y1="304.42" x2="142.3" y2="304.42" stroke="#c624ff" stroke-width="1.1"/>
<line x1="135.7" y1="312.9" x2="142.3" y2="312.9" stroke="#c624ff" stroke-width="1.1"/>
<line x1="165.7" y1="317.67" x2="165.7" y2="309.19" stroke="#c624ff" stroke-width="1.1"/>
<line x1="162.4" y1="309.19" x2="169" y2="309.19" stroke="#c624ff" stroke-width="1.1"/>
<line x1="162.4" y1="317.67" x2="169" y2="317.67" stroke="#c624ff" stroke-width="1.1"/>
<line x1="192.4" y1="309.19" x2="192.4" y2="297.53" stroke="#c624ff" stroke-width="1.1"/>
<line x1="189.1" y1="297.53" x2="195.7" y2="297.53" stroke="#c624ff" stroke-width="1.1"/>
<line x1="189.1" y1="309.19" x2="195.7" y2="309.19" stroke="#c624ff" stroke-width="1.1"/>
<circle cx="58.9" cy="249.3" r="3.5" fill="#c624ff"/>
<circle cx="85.6" cy="268.7" r="3.5" fill="#c624ff"/>
<circle cx="112.3" cy="296.36" r="3.5" fill="#c624ff"/>
<circle cx="139" cy="308.66" r="3.5" fill="#c624ff"/>
<circle cx="165.7" cy="313.43" r="3.5" fill="#c624ff"/>
<circle cx="192.4" cy="303.36" r="3.5" fill="#c624ff"/>
<line x1="85.6" y1="263.72" x2="85.6" y2="256.3" stroke="#ff1f0f" stroke-width="1.1"/>
<line x1="82.3" y1="256.3" x2="88.9" y2="256.3" stroke="#ff1f0f" stroke-width="1.1"/>
<line x1="82.3" y1="263.72" x2="88.9" y2="263.72" stroke="#ff1f0f" stroke-width="1.1"/>
<line x1="112.3" y1="278.56" x2="112.3" y2="269.02" stroke="#ff1f0f" stroke-width="1.1"/>
<line x1="109" y1="269.02" x2="115.6" y2="269.02" stroke="#ff1f0f" stroke-width="1.1"/>
<line x1="109" y1="278.56" x2="115.6" y2="278.56" stroke="#ff1f0f" stroke-width="1.1"/>
<line x1="139" y1="277.92" x2="139" y2="266.26" stroke="#ff1f0f" stroke-width="1.1"/>
<line x1="135.7" y1="266.26" x2="142.3" y2="266.26" stroke="#ff1f0f" stroke-width="1.1"/>
<line x1="135.7" y1="277.92" x2="142.3" y2="277.92" stroke="#ff1f0f" stroke-width="1.1"/>
<line x1="165.7" y1="271.14" x2="165.7" y2="261.6" stroke="#ff1f0f" stroke-width="1.1"/>
<line x1="162.4" y1="261.6" x2="169" y2="261.6" stroke="#ff1f0f" stroke-width="1.1"/>
<line x1="162.4" y1="271.14" x2="169" y2="271.14" stroke="#ff1f0f" stroke-width="1.1"/>
<line x1="192.4" y1="266.47" x2="192.4" y2="256.93" stroke="#ff1f0f" stroke-width="1.1"/>
<line x1="189.1" y1="256.93" x2="195.7" y2="256.93" stroke="#ff1f0f" stroke-width="1.1"/>
<line x1="189.1" y1="266.47" x2="195.7" y2="266.47" stroke="#ff1f0f" stroke-width="1.1"/>
<circle cx="58.9" cy="249.3" r="3.5" fill="#ff1f0f"/>
<circle cx="85.6" cy="260.01" r="3.5" fill="#ff1f0f"/>
<circle cx="112.3" cy="273.79" r="3.5" fill="#ff1f0f"/>
<circle cx="139" cy="272.09" r="3.5" fill="#ff1f0f"/>
<circle cx="165.7" cy="266.37" r="3.5" fill="#ff1f0f"/>
<circle cx="192.4" cy="261.7" r="3.5" fill="#ff1f0f"/>
<line x1="85.6" y1="277.28" x2="85.6" y2="267.74" stroke="#000" stroke-width="1.1"/>
<line x1="82.3" y1="267.74" x2="88.9" y2="267.74" stroke="#000" stroke-width="1.1"/>
<line x1="82.3" y1="277.28" x2="88.9" y2="277.28" stroke="#000" stroke-width="1.1"/>
<line x1="112.3" y1="294.35" x2="112.3" y2="286.93" stroke="#000" stroke-width="1.1"/>
<line x1="109" y1="286.93" x2="115.6" y2="286.93" stroke="#000" stroke-width="1.1"/>
<line x1="109" y1="294.35" x2="115.6" y2="294.35" stroke="#000" stroke-width="1.1"/>
<line x1="139" y1="299.33" x2="139" y2="289.79" stroke="#000" stroke-width="1.1"/>
<line x1="135.7" y1="289.79" x2="142.3" y2="289.79" stroke="#000" stroke-width="1.1"/>
<line x1="135.7" y1="299.33" x2="142.3" y2="299.33" stroke="#000" stroke-width="1.1"/>
<line x1="165.7" y1="295.52" x2="165.7" y2="281.74" stroke="#000" stroke-width="1.1"/>
<line x1="162.4" y1="281.74" x2="169" y2="281.74" stroke="#000" stroke-width="1.1"/>
<line x1="162.4" y1="295.52" x2="169" y2="295.52" stroke="#000" stroke-width="1.1"/>
<line x1="192.4" y1="288.84" x2="192.4" y2="272.94" stroke="#000" stroke-width="1.1"/>
<line x1="189.1" y1="272.94" x2="195.7" y2="272.94" stroke="#000" stroke-width="1.1"/>
<line x1="189.1" y1="288.84" x2="195.7" y2="288.84" stroke="#000" stroke-width="1.1"/>
<circle cx="58.9" cy="249.3" r="3.5" fill="#000000"/>
<circle cx="85.6" cy="272.51" r="3.5" fill="#000000"/>
<circle cx="112.3" cy="290.64" r="3.5" fill="#000000"/>
<circle cx="139" cy="294.56" r="3.5" fill="#000000"/>
<circle cx="165.7" cy="288.63" r="3.5" fill="#000000"/>
<circle cx="192.4" cy="280.89" r="3.5" fill="#000000"/>
<text x="235.6" y="238.9" font-size="19.5" font-weight="bold" fill="#000" stroke="#000" stroke-width="0.3">E</text>
<line x1="252.7" y1="249.5" x2="252.7" y2="354.4" stroke="#8c8c8c" stroke-width="1"/>
<line x1="246.9" y1="354.4" x2="252.7" y2="354.4" stroke="#8c8c8c" stroke-width="1"/>
<text x="244.5" y="357.42" font-size="8.4" text-anchor="end">0</text>
<line x1="246.9" y1="333.42" x2="252.7" y2="333.42" stroke="#8c8c8c" stroke-width="1"/>
<text x="244.5" y="336.44" font-size="8.4" text-anchor="end">1</text>
<line x1="246.9" y1="312.44" x2="252.7" y2="312.44" stroke="#8c8c8c" stroke-width="1"/>
<text x="244.5" y="315.46" font-size="8.4" text-anchor="end">2</text>
<line x1="246.9" y1="291.46" x2="252.7" y2="291.46" stroke="#8c8c8c" stroke-width="1"/>
<text x="244.5" y="294.48" font-size="8.4" text-anchor="end">3</text>
<line x1="246.9" y1="270.48" x2="252.7" y2="270.48" stroke="#8c8c8c" stroke-width="1"/>
<text x="244.5" y="273.5" font-size="8.4" text-anchor="end">4</text>
<line x1="246.9" y1="249.5" x2="252.7" y2="249.5" stroke="#8c8c8c" stroke-width="1"/>
<text x="244.5" y="252.52" font-size="8.4" text-anchor="end">5</text>
<line x1="252.7" y1="354.4" x2="507.4" y2="354.4" stroke="#8c8c8c" stroke-width="1"/>
<line x1="276.4" y1="354.4" x2="276.4" y2="360.4" stroke="#8c8c8c" stroke-width="1"/>
<line x1="317.9" y1="354.4" x2="317.9" y2="360.4" stroke="#8c8c8c" stroke-width="1"/>
<line x1="359.4" y1="354.4" x2="359.4" y2="360.4" stroke="#8c8c8c" stroke-width="1"/>
<line x1="400.9" y1="354.4" x2="400.9" y2="360.4" stroke="#8c8c8c" stroke-width="1"/>
<line x1="442.4" y1="354.4" x2="442.4" y2="360.4" stroke="#8c8c8c" stroke-width="1"/>
<line x1="483.9" y1="354.4" x2="483.9" y2="360.4" stroke="#8c8c8c" stroke-width="1"/>
<text x="0" y="0" font-size="10" text-anchor="end" transform="translate(279.9 368.5) rotate(-45)">Liver</text>
<text x="0" y="0" font-size="10" text-anchor="end" transform="translate(321.4 368.5) rotate(-45)">Pancreas</text>
<text x="0" y="0" font-size="10" text-anchor="end" transform="translate(362.9 368.5) rotate(-45)">Quad</text>
<text x="0" y="0" font-size="10" text-anchor="end" transform="translate(404.4 368.5) rotate(-45)">Heart</text>
<text x="0" y="0" font-size="10" text-anchor="end" transform="translate(445.9 368.5) rotate(-45)">Spleen</text>
<text x="0" y="0" font-size="10" text-anchor="end" transform="translate(487.4 368.5) rotate(-45)">Lungs</text>
<text x="0" y="0" font-size="9.3" text-anchor="middle" transform="translate(221.95 302.8) rotate(-90)">Organ Weight</text>
<text x="0" y="0" font-size="9.3" text-anchor="middle" transform="translate(234.06 302.8) rotate(-90)">(% of&#160;&#160;Body Weight)</text>
<rect x="257.7" y="282.52" width="8.3" height="71.88" fill="#fff" stroke="#a0a0a0" stroke-width="1"/>
<rect x="266.9" y="294.61" width="9.3" height="59.79" fill="#ff1f0f"/>
<rect x="276.6" y="274.26" width="9.3" height="80.14" fill="#1a00ff"/>
<rect x="286.3" y="300.48" width="9.3" height="53.92" fill="#c624ff"/>
<line x1="261.85" y1="286.21" x2="261.85" y2="277.82" stroke="#000000" stroke-width="0.9"/>
<line x1="259.85" y1="277.82" x2="263.85" y2="277.82" stroke="#000000" stroke-width="0.9"/>
<line x1="259.85" y1="286.21" x2="263.85" y2="286.21" stroke="#000000" stroke-width="0.9"/>
<circle cx="263.96" cy="265.23" r="1.8" fill="#000000"/>
<circle cx="263.43" cy="276.77" r="1.8" fill="#000000"/>
<circle cx="261.36" cy="278.87" r="1.8" fill="#000000"/>
<circle cx="260.37" cy="287.26" r="1.8" fill="#000000"/>
<circle cx="261.92" cy="293.56" r="1.8" fill="#000000"/>
<circle cx="261.27" cy="294.61" r="1.8" fill="#000000"/>
<circle cx="263.59" cy="279.92" r="1.8" fill="#000000"/>
<line x1="271.55" y1="296.29" x2="271.55" y2="292.93" stroke="#000000" stroke-width="0.9"/>
<line x1="269.55" y1="292.93" x2="273.55" y2="292.93" stroke="#000000" stroke-width="0.9"/>
<line x1="269.55" y1="296.29" x2="273.55" y2="296.29" stroke="#000000" stroke-width="0.9"/>
<circle cx="270.34" cy="287.26" r="1.8" fill="#000000"/>
<circle cx="271.41" cy="287.26" r="1.8" fill="#000000"/>
<circle cx="272.06" cy="291.46" r="1.8" fill="#000000"/>
<circle cx="274.05" cy="293.56" r="1.8" fill="#000000"/>
<circle cx="271.58" cy="295.66" r="1.8" fill="#000000"/>
<circle cx="270.21" cy="296.7" r="1.8" fill="#000000"/>
<circle cx="273.12" cy="297.75" r="1.8" fill="#000000"/>
<circle cx="272.28" cy="299.85" r="1.8" fill="#000000"/>
<circle cx="270.02" cy="301.95" r="1.8" fill="#000000"/>
<line x1="281.25" y1="277.4" x2="281.25" y2="271.11" stroke="#000000" stroke-width="0.9"/>
<line x1="279.25" y1="271.11" x2="283.25" y2="271.11" stroke="#000000" stroke-width="0.9"/>
<line x1="279.25" y1="277.4" x2="283.25" y2="277.4" stroke="#000000" stroke-width="0.9"/>
<circle cx="283.77" cy="258.94" r="1.8" fill="#000000"/>
<circle cx="284.21" cy="264.19" r="1.8" fill="#000000"/>
<circle cx="283.15" cy="270.48" r="1.8" fill="#000000"/>
<circle cx="283.72" cy="271.53" r="1.8" fill="#000000"/>
<circle cx="280.08" cy="274.68" r="1.8" fill="#000000"/>
<circle cx="282.66" cy="278.87" r="1.8" fill="#000000"/>
<circle cx="283.7" cy="285.17" r="1.8" fill="#000000"/>
<circle cx="282.38" cy="287.26" r="1.8" fill="#000000"/>
<circle cx="281.08" cy="288.31" r="1.8" fill="#000000"/>
<line x1="290.95" y1="301.95" x2="290.95" y2="299.01" stroke="#000000" stroke-width="0.9"/>
<line x1="288.95" y1="299.01" x2="292.95" y2="299.01" stroke="#000000" stroke-width="0.9"/>
<line x1="288.95" y1="301.95" x2="292.95" y2="301.95" stroke="#000000" stroke-width="0.9"/>
<circle cx="288.5" cy="286.21" r="1.8" fill="#000000"/>
<circle cx="290.55" cy="296.7" r="1.8" fill="#000000"/>
<circle cx="291.63" cy="298.8" r="1.8" fill="#000000"/>
<circle cx="293.49" cy="299.85" r="1.8" fill="#000000"/>
<circle cx="293.81" cy="300.9" r="1.8" fill="#000000"/>
<circle cx="290.81" cy="301.95" r="1.8" fill="#000000"/>
<circle cx="293.19" cy="304.05" r="1.8" fill="#000000"/>
<circle cx="289.48" cy="305.1" r="1.8" fill="#000000"/>
<circle cx="292.82" cy="306.15" r="1.8" fill="#000000"/>
<rect x="299.2" y="342.31" width="8.3" height="12.09" fill="#fff" stroke="#a0a0a0" stroke-width="1"/>
<rect x="308.4" y="341.81" width="9.3" height="12.59" fill="#ff1f0f"/>
<rect x="318.1" y="341.39" width="9.3" height="13.01" fill="#1a00ff"/>
<rect x="327.8" y="342.86" width="9.3" height="11.54" fill="#c624ff"/>
<line x1="303.35" y1="342.86" x2="303.35" y2="340.76" stroke="#000000" stroke-width="0.9"/>
<line x1="301.35" y1="340.76" x2="305.35" y2="340.76" stroke="#000000" stroke-width="0.9"/>
<line x1="301.35" y1="342.86" x2="305.35" y2="342.86" stroke="#000000" stroke-width="0.9"/>
<circle cx="301.11" cy="341.48" r="1.8" fill="#000000"/>
<circle cx="305.48" cy="342.56" r="1.8" fill="#000000"/>
<circle cx="304.97" cy="341.43" r="1.8" fill="#000000"/>
<circle cx="301.85" cy="344.24" r="1.8" fill="#000000"/>
<circle cx="303.32" cy="339.66" r="1.8" fill="#000000"/>
<circle cx="303.04" cy="339.58" r="1.8" fill="#000000"/>
<circle cx="304.28" cy="340.86" r="1.8" fill="#000000"/>
<line x1="313.05" y1="342.65" x2="313.05" y2="340.97" stroke="#000000" stroke-width="0.9"/>
<line x1="311.05" y1="340.97" x2="315.05" y2="340.97" stroke="#000000" stroke-width="0.9"/>
<line x1="311.05" y1="342.65" x2="315.05" y2="342.65" stroke="#000000" stroke-width="0.9"/>
<circle cx="314.82" cy="342.38" r="1.8" fill="#000000"/>
<circle cx="310.56" cy="341.57" r="1.8" fill="#000000"/>
<circle cx="310.15" cy="338.82" r="1.8" fill="#000000"/>
<circle cx="315.11" cy="342.28" r="1.8" fill="#000000"/>
<circle cx="312.64" cy="341.96" r="1.8" fill="#000000"/>
<circle cx="314.66" cy="341.36" r="1.8" fill="#000000"/>
<circle cx="309.99" cy="344.4" r="1.8" fill="#000000"/>
<line x1="322.75" y1="342.02" x2="322.75" y2="340.76" stroke="#000000" stroke-width="0.9"/>
<line x1="320.75" y1="340.76" x2="324.75" y2="340.76" stroke="#000000" stroke-width="0.9"/>
<line x1="320.75" y1="342.02" x2="324.75" y2="342.02" stroke="#000000" stroke-width="0.9"/>
<circle cx="322.41" cy="341.79" r="1.8" fill="#000000"/>
<circle cx="324.11" cy="340.38" r="1.8" fill="#000000"/>
<circle cx="321.09" cy="340.31" r="1.8" fill="#000000"/>
<circle cx="325.48" cy="344.34" r="1.8" fill="#000000"/>
<circle cx="325.21" cy="345.36" r="1.8" fill="#000000"/>
<circle cx="319.87" cy="342.56" r="1.8" fill="#000000"/>
<circle cx="319.84" cy="343.33" r="1.8" fill="#000000"/>
<line x1="332.45" y1="343.7" x2="332.45" y2="342.02" stroke="#000000" stroke-width="0.9"/>
<line x1="330.45" y1="342.02" x2="334.45" y2="342.02" stroke="#000000" stroke-width="0.9"/>
<line x1="330.45" y1="343.7" x2="334.45" y2="343.7" stroke="#000000" stroke-width="0.9"/>
<circle cx="332.7" cy="344.83" r="1.8" fill="#000000"/>
<circle cx="335.15" cy="341.77" r="1.8" fill="#000000"/>
<circle cx="331.72" cy="341.77" r="1.8" fill="#000000"/>
<circle cx="330.71" cy="340.59" r="1.8" fill="#000000"/>
<circle cx="331.97" cy="345.36" r="1.8" fill="#000000"/>
<circle cx="329.56" cy="345.03" r="1.8" fill="#000000"/>
<circle cx="330.74" cy="345.63" r="1.8" fill="#000000"/>
<rect x="340.7" y="343.99" width="8.3" height="10.41" fill="#fff" stroke="#a0a0a0" stroke-width="1"/>
<rect x="349.9" y="344.96" width="9.3" height="9.44" fill="#ff1f0f"/>
<rect x="359.6" y="339.29" width="9.3" height="15.11" fill="#1a00ff"/>
<rect x="369.3" y="344.96" width="9.3" height="9.44" fill="#c624ff"/>
<line x1="344.85" y1="344.33" x2="344.85" y2="342.65" stroke="#000000" stroke-width="0.9"/>
<line x1="342.85" y1="342.65" x2="346.85" y2="342.65" stroke="#000000" stroke-width="0.9"/>
<line x1="342.85" y1="344.33" x2="346.85" y2="344.33" stroke="#000000" stroke-width="0.9"/>
<circle cx="347.65" cy="340.92" r="1.8" fill="#000000"/>
<circle cx="347.6" cy="342.44" r="1.8" fill="#000000"/>
<circle cx="342.13" cy="341.89" r="1.8" fill="#000000"/>
<circle cx="342.3" cy="340.92" r="1.8" fill="#000000"/>
<circle cx="346.91" cy="345.42" r="1.8" fill="#000000"/>
<circle cx="346.3" cy="342.8" r="1.8" fill="#000000"/>
<circle cx="345.89" cy="340.92" r="1.8" fill="#000000"/>
<line x1="354.55" y1="345.8" x2="354.55" y2="344.12" stroke="#000000" stroke-width="0.9"/>
<line x1="352.55" y1="344.12" x2="356.55" y2="344.12" stroke="#000000" stroke-width="0.9"/>
<line x1="352.55" y1="345.8" x2="356.55" y2="345.8" stroke="#000000" stroke-width="0.9"/>
<circle cx="353.37" cy="347.41" r="1.8" fill="#000000"/>
<circle cx="355.2" cy="344.02" r="1.8" fill="#000000"/>
<circle cx="355.21" cy="344.38" r="1.8" fill="#000000"/>
<circle cx="355.05" cy="345.38" r="1.8" fill="#000000"/>
<circle cx="352.45" cy="347.08" r="1.8" fill="#000000"/>
<circle cx="354.12" cy="343.36" r="1.8" fill="#000000"/>
<circle cx="353.9" cy="343.26" r="1.8" fill="#000000"/>
<line x1="364.25" y1="340.34" x2="364.25" y2="338.25" stroke="#000000" stroke-width="0.9"/>
<line x1="362.25" y1="338.25" x2="366.25" y2="338.25" stroke="#000000" stroke-width="0.9"/>
<line x1="362.25" y1="340.34" x2="366.25" y2="340.34" stroke="#000000" stroke-width="0.9"/>
<circle cx="365.62" cy="335.58" r="1.8" fill="#000000"/>
<circle cx="367.29" cy="342.47" r="1.8" fill="#000000"/>
<circle cx="367.01" cy="343.46" r="1.8" fill="#000000"/>
<circle cx="364.52" cy="335.24" r="1.8" fill="#000000"/>
<circle cx="363.91" cy="342.1" r="1.8" fill="#000000"/>
<circle cx="362.83" cy="342.64" r="1.8" fill="#000000"/>
<circle cx="361.4" cy="338.16" r="1.8" fill="#000000"/>
<line x1="373.95" y1="345.59" x2="373.95" y2="344.33" stroke="#000000" stroke-width="0.9"/>
<line x1="371.95" y1="344.33" x2="375.95" y2="344.33" stroke="#000000" stroke-width="0.9"/>
<line x1="371.95" y1="345.59" x2="375.95" y2="345.59" stroke="#000000" stroke-width="0.9"/>
<circle cx="371.05" cy="342.51" r="1.8" fill="#000000"/>
<circle cx="373.73" cy="342.35" r="1.8" fill="#000000"/>
<circle cx="372.84" cy="342.72" r="1.8" fill="#000000"/>
<circle cx="373.21" cy="347.93" r="1.8" fill="#000000"/>
<circle cx="376.35" cy="344.65" r="1.8" fill="#000000"/>
<circle cx="374.11" cy="345.74" r="1.8" fill="#000000"/>
<circle cx="374.32" cy="345.05" r="1.8" fill="#000000"/>
<rect x="382.2" y="344.41" width="8.3" height="9.99" fill="#fff" stroke="#a0a0a0" stroke-width="1"/>
<rect x="391.4" y="345.59" width="9.3" height="8.81" fill="#ff1f0f"/>
<rect x="401.1" y="342.86" width="9.3" height="11.54" fill="#1a00ff"/>
<rect x="410.8" y="347.06" width="9.3" height="7.34" fill="#c624ff"/>
<line x1="386.35" y1="344.75" x2="386.35" y2="343.07" stroke="#000000" stroke-width="0.9"/>
<line x1="384.35" y1="343.07" x2="388.35" y2="343.07" stroke="#000000" stroke-width="0.9"/>
<line x1="384.35" y1="344.75" x2="388.35" y2="344.75" stroke="#000000" stroke-width="0.9"/>
<circle cx="384.74" cy="343.91" r="1.8" fill="#000000"/>
<circle cx="386.62" cy="345.61" r="1.8" fill="#000000"/>
<circle cx="385.55" cy="347.38" r="1.8" fill="#000000"/>
<circle cx="386.99" cy="343.12" r="1.8" fill="#000000"/>
<circle cx="387.12" cy="346.15" r="1.8" fill="#000000"/>
<circle cx="383.68" cy="345.83" r="1.8" fill="#000000"/>
<circle cx="383.36" cy="344.87" r="1.8" fill="#000000"/>
<line x1="396.05" y1="346.22" x2="396.05" y2="344.96" stroke="#000000" stroke-width="0.9"/>
<line x1="394.05" y1="344.96" x2="398.05" y2="344.96" stroke="#000000" stroke-width="0.9"/>
<line x1="394.05" y1="346.22" x2="398.05" y2="346.22" stroke="#000000" stroke-width="0.9"/>
<circle cx="398.12" cy="348.93" r="1.8" fill="#000000"/>
<circle cx="394.57" cy="348.31" r="1.8" fill="#000000"/>
<circle cx="394.42" cy="346.56" r="1.8" fill="#000000"/>
<circle cx="399.09" cy="344.75" r="1.8" fill="#000000"/>
<circle cx="395.87" cy="348.14" r="1.8" fill="#000000"/>
<circle cx="398.12" cy="348.31" r="1.8" fill="#000000"/>
<circle cx="395.9" cy="347.56" r="1.8" fill="#000000"/>
<line x1="405.75" y1="343.7" x2="405.75" y2="342.02" stroke="#000000" stroke-width="0.9"/>
<line x1="403.75" y1="342.02" x2="407.75" y2="342.02" stroke="#000000" stroke-width="0.9"/>
<line x1="403.75" y1="343.7" x2="407.75" y2="343.7" stroke="#000000" stroke-width="0.9"/>
<circle cx="406.6" cy="346.13" r="1.8" fill="#000000"/>
<circle cx="403.61" cy="345.15" r="1.8" fill="#000000"/>
<circle cx="406.58" cy="344.51" r="1.8" fill="#000000"/>
<circle cx="408.01" cy="340.22" r="1.8" fill="#000000"/>
<circle cx="405.89" cy="343.12" r="1.8" fill="#000000"/>
<circle cx="407.23" cy="341.51" r="1.8" fill="#000000"/>
<circle cx="406.8" cy="345.97" r="1.8" fill="#000000"/>
<line x1="415.45" y1="347.69" x2="415.45" y2="346.43" stroke="#000000" stroke-width="0.9"/>
<line x1="413.45" y1="346.43" x2="417.45" y2="346.43" stroke="#000000" stroke-width="0.9"/>
<line x1="413.45" y1="347.69" x2="417.45" y2="347.69" stroke="#000000" stroke-width="0.9"/>
<circle cx="412.77" cy="347" r="1.8" fill="#000000"/>
<circle cx="417.04" cy="346.64" r="1.8" fill="#000000"/>
<circle cx="416.01" cy="345.59" r="1.8" fill="#000000"/>
<circle cx="414.23" cy="348.67" r="1.8" fill="#000000"/>
<circle cx="412.57" cy="346.53" r="1.8" fill="#000000"/>
<circle cx="417.69" cy="345.16" r="1.8" fill="#000000"/>
<circle cx="415.28" cy="345.06" r="1.8" fill="#000000"/>
<rect x="423.7" y="350.7" width="8.3" height="3.7" fill="#fff" stroke="#a0a0a0" stroke-width="1"/>
<rect x="432.9" y="351.25" width="9.3" height="3.15" fill="#ff1f0f"/>
<rect x="442.6" y="350.2" width="9.3" height="4.2" fill="#1a00ff"/>
<rect x="452.3" y="351.25" width="9.3" height="3.15" fill="#c624ff"/>
<line x1="427.85" y1="350.62" x2="427.85" y2="349.78" stroke="#000000" stroke-width="0.9"/>
<line x1="425.85" y1="349.78" x2="429.85" y2="349.78" stroke="#000000" stroke-width="0.9"/>
<line x1="425.85" y1="350.62" x2="429.85" y2="350.62" stroke="#000000" stroke-width="0.9"/>
<circle cx="426.23" cy="350.81" r="1.8" fill="#000000"/>
<circle cx="425.41" cy="348.88" r="1.8" fill="#000000"/>
<circle cx="427.21" cy="352.78" r="1.8" fill="#000000"/>
<circle cx="425.73" cy="351.63" r="1.8" fill="#000000"/>
<circle cx="425.19" cy="348.49" r="1.8" fill="#000000"/>
<circle cx="427.25" cy="349.87" r="1.8" fill="#000000"/>
<circle cx="430.42" cy="352.34" r="1.8" fill="#000000"/>
<line x1="437.55" y1="351.67" x2="437.55" y2="350.83" stroke="#000000" stroke-width="0.9"/>
<line x1="435.55" y1="350.83" x2="439.55" y2="350.83" stroke="#000000" stroke-width="0.9"/>
<line x1="435.55" y1="351.67" x2="439.55" y2="351.67" stroke="#000000" stroke-width="0.9"/>
<circle cx="439.39" cy="352.2" r="1.8" fill="#000000"/>
<circle cx="439.18" cy="352.84" r="1.8" fill="#000000"/>
<circle cx="435.84" cy="353.12" r="1.8" fill="#000000"/>
<circle cx="437.78" cy="349.94" r="1.8" fill="#000000"/>
<circle cx="436.18" cy="351.37" r="1.8" fill="#000000"/>
<circle cx="435.54" cy="350.89" r="1.8" fill="#000000"/>
<circle cx="435.13" cy="351.47" r="1.8" fill="#000000"/>
<line x1="447.25" y1="350.83" x2="447.25" y2="349.57" stroke="#000000" stroke-width="0.9"/>
<line x1="445.25" y1="349.57" x2="449.25" y2="349.57" stroke="#000000" stroke-width="0.9"/>
<line x1="445.25" y1="350.83" x2="449.25" y2="350.83" stroke="#000000" stroke-width="0.9"/>
<circle cx="445.5" cy="349.98" r="1.8" fill="#000000"/>
<circle cx="449.87" cy="352.82" r="1.8" fill="#000000"/>
<circle cx="449.27" cy="351.66" r="1.8" fill="#000000"/>
<circle cx="449.13" cy="351.9" r="1.8" fill="#000000"/>
<circle cx="449.09" cy="349.53" r="1.8" fill="#000000"/>
<circle cx="445.37" cy="349.81" r="1.8" fill="#000000"/>
<circle cx="446.08" cy="348.81" r="1.8" fill="#000000"/>
<line x1="456.95" y1="351.67" x2="456.95" y2="350.83" stroke="#000000" stroke-width="0.9"/>
<line x1="454.95" y1="350.83" x2="458.95" y2="350.83" stroke="#000000" stroke-width="0.9"/>
<line x1="454.95" y1="351.67" x2="458.95" y2="351.67" stroke="#000000" stroke-width="0.9"/>
<circle cx="457.73" cy="353.66" r="1.8" fill="#000000"/>
<circle cx="458.37" cy="350.87" r="1.8" fill="#000000"/>
<circle cx="459.13" cy="353.21" r="1.8" fill="#000000"/>
<circle cx="459.28" cy="351.86" r="1.8" fill="#000000"/>
<circle cx="454.41" cy="350.97" r="1.8" fill="#000000"/>
<circle cx="457.6" cy="350.45" r="1.8" fill="#000000"/>
<circle cx="458" cy="351.9" r="1.8" fill="#000000"/>
<rect x="465.2" y="341.26" width="8.3" height="13.14" fill="#fff" stroke="#a0a0a0" stroke-width="1"/>
<rect x="474.4" y="343.91" width="9.3" height="10.49" fill="#ff1f0f"/>
<rect x="484.1" y="342.23" width="9.3" height="12.17" fill="#1a00ff"/>
<rect x="493.8" y="345.59" width="9.3" height="8.81" fill="#c624ff"/>
<line x1="469.35" y1="341.81" x2="469.35" y2="339.71" stroke="#000000" stroke-width="0.9"/>
<line x1="467.35" y1="339.71" x2="471.35" y2="339.71" stroke="#000000" stroke-width="0.9"/>
<line x1="467.35" y1="341.81" x2="471.35" y2="341.81" stroke="#000000" stroke-width="0.9"/>
<circle cx="470.1" cy="340.97" r="1.8" fill="#000000"/>
<circle cx="470.83" cy="342.8" r="1.8" fill="#000000"/>
<circle cx="471.16" cy="339.86" r="1.8" fill="#000000"/>
<circle cx="472.07" cy="342.99" r="1.8" fill="#000000"/>
<circle cx="470.82" cy="341.16" r="1.8" fill="#000000"/>
<circle cx="471.94" cy="337.22" r="1.8" fill="#000000"/>
<circle cx="466.46" cy="344.23" r="1.8" fill="#000000"/>
<line x1="479.05" y1="344.96" x2="479.05" y2="342.86" stroke="#000000" stroke-width="0.9"/>
<line x1="477.05" y1="342.86" x2="481.05" y2="342.86" stroke="#000000" stroke-width="0.9"/>
<line x1="477.05" y1="344.96" x2="481.05" y2="344.96" stroke="#000000" stroke-width="0.9"/>
<circle cx="478.84" cy="345.92" r="1.8" fill="#000000"/>
<circle cx="481.77" cy="344.16" r="1.8" fill="#000000"/>
<circle cx="479.96" cy="346.48" r="1.8" fill="#000000"/>
<circle cx="481.51" cy="341.98" r="1.8" fill="#000000"/>
<circle cx="476.68" cy="346" r="1.8" fill="#000000"/>
<circle cx="478.86" cy="343.82" r="1.8" fill="#000000"/>
<circle cx="477.49" cy="341.27" r="1.8" fill="#000000"/>
<line x1="488.75" y1="343.28" x2="488.75" y2="341.18" stroke="#000000" stroke-width="0.9"/>
<line x1="486.75" y1="341.18" x2="490.75" y2="341.18" stroke="#000000" stroke-width="0.9"/>
<line x1="486.75" y1="343.28" x2="490.75" y2="343.28" stroke="#000000" stroke-width="0.9"/>
<circle cx="489.02" cy="338.91" r="1.8" fill="#000000"/>
<circle cx="489.2" cy="345.75" r="1.8" fill="#000000"/>
<circle cx="485.76" cy="340.78" r="1.8" fill="#000000"/>
<circle cx="487.01" cy="342.57" r="1.8" fill="#000000"/>
<circle cx="487.4" cy="339.18" r="1.8" fill="#000000"/>
<circle cx="491.31" cy="343.14" r="1.8" fill="#000000"/>
<circle cx="490.38" cy="339.35" r="1.8" fill="#000000"/>
<line x1="498.45" y1="346.22" x2="498.45" y2="344.96" stroke="#000000" stroke-width="0.9"/>
<line x1="496.45" y1="344.96" x2="500.45" y2="344.96" stroke="#000000" stroke-width="0.9"/>
<line x1="496.45" y1="346.22" x2="500.45" y2="346.22" stroke="#000000" stroke-width="0.9"/>
<circle cx="496.36" cy="345.16" r="1.8" fill="#000000"/>
<circle cx="500.27" cy="343.46" r="1.8" fill="#000000"/>
<circle cx="496.23" cy="346.16" r="1.8" fill="#000000"/>
<circle cx="499.17" cy="344.58" r="1.8" fill="#000000"/>
<circle cx="496.16" cy="343.17" r="1.8" fill="#000000"/>
<circle cx="495.39" cy="345.76" r="1.8" fill="#000000"/>
<circle cx="500.73" cy="344.44" r="1.8" fill="#000000"/>
<polyline points="281.3,253.8 281.3,248.3 291.9,248.3 291.9,277.3" fill="none" stroke="#7a7a7a" stroke-width="0.8"/>
<text x="286.4" y="246.82" font-size="4.5" text-anchor="middle" fill="#333" stroke="#333" stroke-width="0.22">p&lt;0.0001</text>
<rect x="346.6" y="227.2" width="16.8" height="7.6" fill="#fff" stroke="#8a8a8a" stroke-width="1"/>
<text x="370.2" y="235" font-size="11.3" text-anchor="start">P-IR WT</text>
<rect x="347" y="246.8" width="17.4" height="8.6" fill="#ff1f0f"/>
<text x="370.2" y="255.1" font-size="11.3" text-anchor="start">P-IR KO</text>
<rect x="347" y="265.9" width="17.4" height="8.6" fill="#1a00ff"/>
<text x="370.2" y="274.2" font-size="11.3" text-anchor="start">P-PTEN KO</text>
<rect x="347" y="286.2" width="17.4" height="8.6" fill="#c624ff"/>
<text x="370.2" y="294.5" font-size="11.3" text-anchor="start">DKO</text>
<text x="525.6" y="238.6" font-size="19.5" font-weight="bold" fill="#000" stroke="#000" stroke-width="0.3">F</text>
<line x1="546.3" y1="250.5" x2="546.3" y2="355.3" stroke="#8c8c8c" stroke-width="1"/>
<line x1="540.3" y1="355.3" x2="546.3" y2="355.3" stroke="#8c8c8c" stroke-width="1"/>
<text x="538.3" y="358.68" font-size="9.4" text-anchor="end">0</text>
<line x1="540.3" y1="329.1" x2="546.3" y2="329.1" stroke="#8c8c8c" stroke-width="1"/>
<text x="538.3" y="332.48" font-size="9.4" text-anchor="end">2</text>
<line x1="540.3" y1="302.9" x2="546.3" y2="302.9" stroke="#8c8c8c" stroke-width="1"/>
<text x="538.3" y="306.28" font-size="9.4" text-anchor="end">4</text>
<line x1="540.3" y1="276.7" x2="546.3" y2="276.7" stroke="#8c8c8c" stroke-width="1"/>
<text x="538.3" y="280.08" font-size="9.4" text-anchor="end">6</text>
<line x1="540.3" y1="250.5" x2="546.3" y2="250.5" stroke="#8c8c8c" stroke-width="1"/>
<text x="538.3" y="253.88" font-size="9.4" text-anchor="end">8</text>
<line x1="546.3" y1="355.3" x2="683" y2="355.3" stroke="#8c8c8c" stroke-width="1"/>
<line x1="571.2" y1="355.3" x2="571.2" y2="361.3" stroke="#8c8c8c" stroke-width="1"/>
<line x1="614.9" y1="355.3" x2="614.9" y2="361.3" stroke="#8c8c8c" stroke-width="1"/>
<line x1="658.6" y1="355.3" x2="658.6" y2="361.3" stroke="#8c8c8c" stroke-width="1"/>
<text x="0" y="0" font-size="10.5" text-anchor="end" transform="translate(574.7 369.3) rotate(-45)">sWAT</text>
<text x="0" y="0" font-size="10.5" text-anchor="end" transform="translate(618.4 369.3) rotate(-45)">pWAT</text>
<text x="0" y="0" font-size="10.5" text-anchor="end" transform="translate(662.1 369.3) rotate(-45)">BAT</text>
<text x="0" y="0" font-size="9.35" text-anchor="middle" transform="translate(519.57 303.5) rotate(-90)">Adipose Weight</text>
<text x="0" y="0" font-size="9.25" text-anchor="middle" transform="translate(531.24 303.5) rotate(-90)">(% of Body weight)</text>
<rect x="551.7" y="311.26" width="8.5" height="44.04" fill="#fff" stroke="#a0a0a0" stroke-width="1"/>
<rect x="561.5" y="290.19" width="9.5" height="65.11" fill="#ff1f0f"/>
<rect x="571.8" y="345.48" width="9.5" height="9.82" fill="#1a00ff"/>
<rect x="582.1" y="337.75" width="9.5" height="17.55" fill="#c624ff"/>
<line x1="555.95" y1="317.97" x2="555.95" y2="303.56" stroke="#000000" stroke-width="0.9"/>
<line x1="553.95" y1="303.56" x2="557.95" y2="303.56" stroke="#000000" stroke-width="0.9"/>
<line x1="553.95" y1="317.97" x2="557.95" y2="317.97" stroke="#000000" stroke-width="0.9"/>
<circle cx="554.95" cy="295.04" r="2" fill="#000000"/>
<circle cx="552.95" cy="298.97" r="2" fill="#000000"/>
<circle cx="556.95" cy="300.94" r="2" fill="#000000"/>
<circle cx="555.95" cy="317.31" r="2" fill="#000000"/>
<circle cx="555.95" cy="340.24" r="2" fill="#000000"/>
<line x1="566.25" y1="296.09" x2="566.25" y2="284.3" stroke="#000000" stroke-width="0.9"/>
<line x1="564.25" y1="284.3" x2="568.25" y2="284.3" stroke="#000000" stroke-width="0.9"/>
<line x1="564.25" y1="296.09" x2="568.25" y2="296.09" stroke="#000000" stroke-width="0.9"/>
<circle cx="569.25" cy="269.5" r="2" fill="#000000"/>
<circle cx="567.25" cy="272.12" r="2" fill="#000000"/>
<circle cx="565.25" cy="276.7" r="2" fill="#000000"/>
<circle cx="566.25" cy="288.49" r="2" fill="#000000"/>
<circle cx="566.25" cy="295.04" r="2" fill="#000000"/>
<circle cx="566.25" cy="300.94" r="2" fill="#000000"/>
<circle cx="566.25" cy="308.14" r="2" fill="#000000"/>
<circle cx="566.25" cy="312.73" r="2" fill="#000000"/>
<line x1="576.55" y1="347.05" x2="576.55" y2="343.9" stroke="#000000" stroke-width="0.9"/>
<line x1="574.55" y1="343.9" x2="578.55" y2="343.9" stroke="#000000" stroke-width="0.9"/>
<line x1="574.55" y1="347.05" x2="578.55" y2="347.05" stroke="#000000" stroke-width="0.9"/>
<circle cx="578.55" cy="337.62" r="2" fill="#000000"/>
<circle cx="576.55" cy="338.93" r="2" fill="#000000"/>
<circle cx="574.55" cy="342.2" r="2" fill="#000000"/>
<circle cx="578.55" cy="344.17" r="2" fill="#000000"/>
<circle cx="573.55" cy="346.13" r="2" fill="#000000"/>
<circle cx="577.55" cy="348.1" r="2" fill="#000000"/>
<circle cx="575.55" cy="350.06" r="2" fill="#000000"/>
<circle cx="578.55" cy="351.37" r="2" fill="#000000"/>
<line x1="586.85" y1="339.71" x2="586.85" y2="335.78" stroke="#000000" stroke-width="0.9"/>
<line x1="584.85" y1="335.78" x2="588.85" y2="335.78" stroke="#000000" stroke-width="0.9"/>
<line x1="584.85" y1="339.71" x2="588.85" y2="339.71" stroke="#000000" stroke-width="0.9"/>
<circle cx="586.85" cy="318.62" r="2" fill="#000000"/>
<circle cx="584.85" cy="334.34" r="2" fill="#000000"/>
<circle cx="588.85" cy="336.31" r="2" fill="#000000"/>
<circle cx="583.85" cy="337.62" r="2" fill="#000000"/>
<circle cx="589.85" cy="338.27" r="2" fill="#000000"/>
<circle cx="586.85" cy="339.58" r="2" fill="#000000"/>
<circle cx="584.85" cy="342.2" r="2" fill="#000000"/>
<circle cx="588.85" cy="342.86" r="2" fill="#000000"/>
<rect x="595.4" y="305.76" width="8.5" height="49.54" fill="#fff" stroke="#a0a0a0" stroke-width="1"/>
<rect x="605.2" y="281.94" width="9.5" height="73.36" fill="#ff1f0f"/>
<rect x="615.5" y="332.77" width="9.5" height="22.53" fill="#1a00ff"/>
<rect x="625.8" y="317.05" width="9.5" height="38.25" fill="#c624ff"/>
<line x1="599.65" y1="309.84" x2="599.65" y2="300.67" stroke="#000000" stroke-width="0.9"/>
<line x1="597.65" y1="300.67" x2="601.65" y2="300.67" stroke="#000000" stroke-width="0.9"/>
<line x1="597.65" y1="309.84" x2="601.65" y2="309.84" stroke="#000000" stroke-width="0.9"/>
<circle cx="598.65" cy="294.38" r="2" fill="#000000"/>
<circle cx="596.65" cy="300.28" r="2" fill="#000000"/>
<circle cx="600.65" cy="300.94" r="2" fill="#000000"/>
<circle cx="599.65" cy="304.21" r="2" fill="#000000"/>
<circle cx="599.65" cy="310.76" r="2" fill="#000000"/>
<circle cx="599.65" cy="323.21" r="2" fill="#000000"/>
<line x1="609.95" y1="287.44" x2="609.95" y2="276.44" stroke="#000000" stroke-width="0.9"/>
<line x1="607.95" y1="276.44" x2="611.95" y2="276.44" stroke="#000000" stroke-width="0.9"/>
<line x1="607.95" y1="287.44" x2="611.95" y2="287.44" stroke="#000000" stroke-width="0.9"/>
<circle cx="607.95" cy="262.29" r="2" fill="#000000"/>
<circle cx="612.95" cy="262.95" r="2" fill="#000000"/>
<circle cx="609.95" cy="276.7" r="2" fill="#000000"/>
<circle cx="609.95" cy="281.94" r="2" fill="#000000"/>
<circle cx="607.95" cy="283.91" r="2" fill="#000000"/>
<circle cx="611.95" cy="288.49" r="2" fill="#000000"/>
<circle cx="609.95" cy="292.42" r="2" fill="#000000"/>
<circle cx="609.95" cy="308.14" r="2" fill="#000000"/>
<line x1="620.25" y1="335.39" x2="620.25" y2="330.15" stroke="#000000" stroke-width="0.9"/>
<line x1="618.25" y1="330.15" x2="622.25" y2="330.15" stroke="#000000" stroke-width="0.9"/>
<line x1="618.25" y1="335.39" x2="622.25" y2="335.39" stroke="#000000" stroke-width="0.9"/>
<circle cx="620.25" cy="319.28" r="2" fill="#000000"/>
<circle cx="620.25" cy="323.21" r="2" fill="#000000"/>
<circle cx="620.25" cy="327.13" r="2" fill="#000000"/>
<circle cx="620.25" cy="331.06" r="2" fill="#000000"/>
<circle cx="618.25" cy="334.34" r="2" fill="#000000"/>
<circle cx="622.25" cy="338.93" r="2" fill="#000000"/>
<circle cx="618.25" cy="342.86" r="2" fill="#000000"/>
<circle cx="622.25" cy="344.17" r="2" fill="#000000"/>
<line x1="630.55" y1="322.94" x2="630.55" y2="311.15" stroke="#000000" stroke-width="0.9"/>
<line x1="628.55" y1="311.15" x2="632.55" y2="311.15" stroke="#000000" stroke-width="0.9"/>
<line x1="628.55" y1="322.94" x2="632.55" y2="322.94" stroke="#000000" stroke-width="0.9"/>
<circle cx="630.55" cy="294.38" r="2" fill="#000000"/>
<circle cx="630.55" cy="300.94" r="2" fill="#000000"/>
<circle cx="630.55" cy="307.49" r="2" fill="#000000"/>
<circle cx="630.55" cy="314.04" r="2" fill="#000000"/>
<circle cx="630.55" cy="321.24" r="2" fill="#000000"/>
<circle cx="630.55" cy="324.51" r="2" fill="#000000"/>
<circle cx="630.55" cy="334.34" r="2" fill="#000000"/>
<circle cx="630.55" cy="342.2" r="2" fill="#000000"/>
<rect x="639.1" y="349.25" width="8.5" height="6.05" fill="#fff" stroke="#a0a0a0" stroke-width="1"/>
<rect x="648.9" y="347.44" width="9.5" height="7.86" fill="#ff1f0f"/>
<rect x="659.2" y="352.68" width="9.5" height="2.62" fill="#1a00ff"/>
<rect x="669.5" y="352.68" width="9.5" height="2.62" fill="#c624ff"/>
<line x1="643.35" y1="349.41" x2="643.35" y2="348.1" stroke="#000000" stroke-width="0.9"/>
<line x1="641.35" y1="348.1" x2="645.35" y2="348.1" stroke="#000000" stroke-width="0.9"/>
<line x1="641.35" y1="349.41" x2="645.35" y2="349.41" stroke="#000000" stroke-width="0.9"/>
<circle cx="646.22" cy="350.19" r="2" fill="#000000"/>
<circle cx="641.1" cy="347.38" r="2" fill="#000000"/>
<circle cx="640.36" cy="347.71" r="2" fill="#000000"/>
<circle cx="646.48" cy="349.71" r="2" fill="#000000"/>
<circle cx="641.37" cy="348.77" r="2" fill="#000000"/>
<circle cx="640.97" cy="348.95" r="2" fill="#000000"/>
<line x1="653.65" y1="348.1" x2="653.65" y2="346.79" stroke="#000000" stroke-width="0.9"/>
<line x1="651.65" y1="346.79" x2="655.65" y2="346.79" stroke="#000000" stroke-width="0.9"/>
<line x1="651.65" y1="348.1" x2="655.65" y2="348.1" stroke="#000000" stroke-width="0.9"/>
<circle cx="654.6" cy="345.65" r="2" fill="#000000"/>
<circle cx="652.68" cy="345.68" r="2" fill="#000000"/>
<circle cx="656.09" cy="349.18" r="2" fill="#000000"/>
<circle cx="651.97" cy="349.07" r="2" fill="#000000"/>
<circle cx="656.53" cy="346.12" r="2" fill="#000000"/>
<circle cx="652.52" cy="346.51" r="2" fill="#000000"/>
<circle cx="654.28" cy="346.77" r="2" fill="#000000"/>
<line x1="663.95" y1="352.94" x2="663.95" y2="352.42" stroke="#000000" stroke-width="0.9"/>
<line x1="661.95" y1="352.42" x2="665.95" y2="352.42" stroke="#000000" stroke-width="0.9"/>
<line x1="661.95" y1="352.94" x2="665.95" y2="352.94" stroke="#000000" stroke-width="0.9"/>
<circle cx="666.66" cy="353.37" r="2" fill="#000000"/>
<circle cx="665.11" cy="352.56" r="2" fill="#000000"/>
<circle cx="666.61" cy="353.02" r="2" fill="#000000"/>
<circle cx="665.25" cy="352.41" r="2" fill="#000000"/>
<circle cx="661.12" cy="352.35" r="2" fill="#000000"/>
<circle cx="666.34" cy="353.82" r="2" fill="#000000"/>
<circle cx="664.51" cy="353.96" r="2" fill="#000000"/>
<line x1="674.25" y1="352.94" x2="674.25" y2="352.42" stroke="#000000" stroke-width="0.9"/>
<line x1="672.25" y1="352.42" x2="676.25" y2="352.42" stroke="#000000" stroke-width="0.9"/>
<line x1="672.25" y1="352.94" x2="676.25" y2="352.94" stroke="#000000" stroke-width="0.9"/>
<circle cx="673.06" cy="353.37" r="2" fill="#000000"/>
<circle cx="672.31" cy="353.72" r="2" fill="#000000"/>
<circle cx="676.44" cy="352.95" r="2" fill="#000000"/>
<circle cx="674.77" cy="353.58" r="2" fill="#000000"/>
<circle cx="677" cy="353.82" r="2" fill="#000000"/>
<circle cx="675.97" cy="352.94" r="2" fill="#000000"/>
<circle cx="677.14" cy="351.58" r="2" fill="#000000"/>
<polyline points="554.6,293.3 554.6,255.4 563.8,255.4 563.8,263.4" fill="none" stroke="#7a7a7a" stroke-width="0.8"/>
<text x="556.8" y="253.32" font-size="4.5" text-anchor="middle" fill="#333" stroke="#333" stroke-width="0.22">p=0.0063</text>
<polyline points="569.2,263.4 569.2,258 577.2,258 577.2,335" fill="none" stroke="#7a7a7a" stroke-width="0.8"/>
<text x="577.05" y="255.52" font-size="4.5" text-anchor="middle" fill="#333" stroke="#333" stroke-width="0.22">p&lt;0.0001</text>
<polyline points="567.3,263.4 567.3,244 586.7,244 586.7,318" fill="none" stroke="#7a7a7a" stroke-width="0.8"/>
<text x="577.05" y="240.62" font-size="4.5" text-anchor="middle" fill="#333" stroke="#333" stroke-width="0.22">p&lt;0.0001</text>
<polyline points="598.8,291.9 598.8,247.3 606.9,247.3 606.9,255.4" fill="none" stroke="#7a7a7a" stroke-width="0.8"/>
<text x="597.3" y="244.12" font-size="4.5" text-anchor="middle" fill="#333" stroke="#333" stroke-width="0.22">p=0.0021</text>
<polyline points="608.6,255.4 608.6,249.8 620,249.8 620,320" fill="none" stroke="#7a7a7a" stroke-width="0.8"/>
<text x="618.1" y="246.72" font-size="4.5" text-anchor="middle" fill="#333" stroke="#333" stroke-width="0.22">p&lt;0.0001</text>
<polyline points="607.9,255.4 607.9,237.4 630.5,237.4 630.5,283.8" fill="none" stroke="#7a7a7a" stroke-width="0.8"/>
<text x="618.8" y="235.42" font-size="4.5" text-anchor="middle" fill="#333" stroke="#333" stroke-width="0.22">p&lt;0.0001</text>
<text x="11.4" y="415.9" font-size="19.5" font-weight="bold" fill="#000" stroke="#000" stroke-width="0.3">G</text>
<line x1="55" y1="417.2" x2="55" y2="537" stroke="#8c8c8c" stroke-width="1"/>
<line x1="49" y1="537" x2="55" y2="537" stroke="#8c8c8c" stroke-width="1"/>
<text x="47" y="541.14" font-size="11.5" text-anchor="end">0</text>
<line x1="49" y1="513.04" x2="55" y2="513.04" stroke="#8c8c8c" stroke-width="1"/>
<text x="47" y="517.18" font-size="11.5" text-anchor="end">2</text>
<line x1="49" y1="489.08" x2="55" y2="489.08" stroke="#8c8c8c" stroke-width="1"/>
<text x="47" y="493.22" font-size="11.5" text-anchor="end">4</text>
<line x1="49" y1="465.12" x2="55" y2="465.12" stroke="#8c8c8c" stroke-width="1"/>
<text x="47" y="469.26" font-size="11.5" text-anchor="end">6</text>
<line x1="49" y1="441.16" x2="55" y2="441.16" stroke="#8c8c8c" stroke-width="1"/>
<text x="47" y="445.3" font-size="11.5" text-anchor="end">8</text>
<line x1="49" y1="417.2" x2="55" y2="417.2" stroke="#8c8c8c" stroke-width="1"/>
<text x="47" y="421.34" font-size="11.5" text-anchor="end">10</text>
<line x1="55" y1="537" x2="253" y2="537" stroke="#8c8c8c" stroke-width="1"/>
<line x1="81.8" y1="537" x2="81.8" y2="543" stroke="#8c8c8c" stroke-width="1"/>
<line x1="129.4" y1="537" x2="129.4" y2="543" stroke="#8c8c8c" stroke-width="1"/>
<line x1="177" y1="537" x2="177" y2="543" stroke="#8c8c8c" stroke-width="1"/>
<line x1="224.6" y1="537" x2="224.6" y2="543" stroke="#8c8c8c" stroke-width="1"/>
<text x="0" y="0" font-size="10.5" text-anchor="end" transform="translate(84.6 552.4) rotate(-45)">Arg1</text>
<text x="0" y="0" font-size="10.5" text-anchor="end" transform="translate(132.2 552.4) rotate(-45)">IL-10</text>
<text x="0" y="0" font-size="10.5" text-anchor="end" transform="translate(179.8 552.4) rotate(-45)">Mgl2</text>
<text x="0" y="0" font-size="10.5" text-anchor="end" transform="translate(227.4 552.4) rotate(-45)">Chi3L3</text>
<text x="0" y="0" font-size="9.6" text-anchor="middle" transform="translate(18.16 477.5) rotate(-90)">Relative gene expression</text>
<text x="0" y="0" font-size="9.6" text-anchor="middle" transform="translate(29.96 477.5) rotate(-90)">(fold change over control)</text>
<rect x="60.3" y="523.6" width="9.5" height="13.4" fill="#fff" stroke="#9a9a9a" stroke-width="1"/>
<rect x="71.2" y="527.42" width="10.5" height="9.58" fill="#ff1f0f"/>
<rect x="82.6" y="509.45" width="10.5" height="27.55" fill="#1a00ff"/>
<rect x="94" y="517.83" width="10.5" height="19.17" fill="#c624ff"/>
<line x1="65.05" y1="526.1" x2="65.05" y2="520.11" stroke="#000000" stroke-width="0.9"/>
<line x1="63.05" y1="520.11" x2="67.05" y2="520.11" stroke="#000000" stroke-width="0.9"/>
<line x1="63.05" y1="526.1" x2="67.05" y2="526.1" stroke="#000000" stroke-width="0.9"/>
<circle cx="65.25" cy="508.97" r="2" fill="#000000"/>
<circle cx="63.05" cy="512.56" r="2" fill="#000000"/>
<circle cx="66.65" cy="510.4" r="2" fill="#000000"/>
<circle cx="64.55" cy="516.27" r="2" fill="#000000"/>
<circle cx="66.05" cy="515.44" r="2" fill="#000000"/>
<circle cx="61.65" cy="527.18" r="2" fill="#000000"/>
<circle cx="63.85" cy="528.61" r="2" fill="#000000"/>
<circle cx="66.65" cy="528.01" r="2" fill="#000000"/>
<circle cx="68.05" cy="531.61" r="2" fill="#000000"/>
<circle cx="65.25" cy="532.33" r="2" fill="#000000"/>
<circle cx="64.55" cy="535.32" r="2" fill="#000000"/>
<circle cx="62.55" cy="522.62" r="2" fill="#000000"/>
<line x1="76.45" y1="529.21" x2="76.45" y2="525.62" stroke="#000000" stroke-width="0.9"/>
<line x1="74.45" y1="525.62" x2="78.45" y2="525.62" stroke="#000000" stroke-width="0.9"/>
<line x1="74.45" y1="529.21" x2="78.45" y2="529.21" stroke="#000000" stroke-width="0.9"/>
<circle cx="75.45" cy="518.55" r="2" fill="#000000"/>
<circle cx="77.65" cy="516.99" r="2" fill="#000000"/>
<circle cx="73.25" cy="521.43" r="2" fill="#000000"/>
<circle cx="76.95" cy="523.58" r="2" fill="#000000"/>
<circle cx="79.75" cy="525.02" r="2" fill="#000000"/>
<circle cx="72.55" cy="527.18" r="2" fill="#000000"/>
<circle cx="73.25" cy="536.64" r="2" fill="#000000"/>
<circle cx="76.95" cy="536.64" r="2" fill="#000000"/>
<circle cx="79.15" cy="534.48" r="2" fill="#000000"/>
<circle cx="76.45" cy="531.01" r="2" fill="#000000"/>
<line x1="87.85" y1="516.63" x2="87.85" y2="502.26" stroke="#000000" stroke-width="0.9"/>
<line x1="85.85" y1="502.26" x2="89.85" y2="502.26" stroke="#000000" stroke-width="0.9"/>
<line x1="85.85" y1="516.63" x2="89.85" y2="516.63" stroke="#000000" stroke-width="0.9"/>
<circle cx="87.45" cy="493.15" r="2" fill="#000000"/>
<circle cx="87.45" cy="500.22" r="2" fill="#000000"/>
<circle cx="87.45" cy="519.15" r="2" fill="#000000"/>
<circle cx="87.45" cy="527.66" r="2" fill="#000000"/>
<line x1="99.25" y1="523.22" x2="99.25" y2="512.44" stroke="#000000" stroke-width="0.9"/>
<line x1="97.25" y1="512.44" x2="101.25" y2="512.44" stroke="#000000" stroke-width="0.9"/>
<line x1="97.25" y1="523.22" x2="101.25" y2="523.22" stroke="#000000" stroke-width="0.9"/>
<circle cx="98.55" cy="498.54" r="2" fill="#000000"/>
<circle cx="98.55" cy="503.46" r="2" fill="#000000"/>
<circle cx="98.55" cy="510.16" r="2" fill="#000000"/>
<circle cx="98.55" cy="522.86" r="2" fill="#000000"/>
<circle cx="95.15" cy="531.61" r="2" fill="#000000"/>
<circle cx="98.85" cy="529.45" r="2" fill="#000000"/>
<circle cx="102.05" cy="529.45" r="2" fill="#000000"/>
<rect x="107.9" y="523.12" width="9.5" height="13.88" fill="#fff" stroke="#9a9a9a" stroke-width="1"/>
<rect x="118.8" y="522.02" width="10.5" height="14.98" fill="#ff1f0f"/>
<rect x="130.2" y="527.42" width="10.5" height="9.58" fill="#1a00ff"/>
<rect x="141.6" y="501.3" width="10.5" height="35.7" fill="#c624ff"/>
<line x1="112.65" y1="524.42" x2="112.65" y2="520.83" stroke="#000000" stroke-width="0.9"/>
<line x1="110.65" y1="520.83" x2="114.65" y2="520.83" stroke="#000000" stroke-width="0.9"/>
<line x1="110.65" y1="524.42" x2="114.65" y2="524.42" stroke="#000000" stroke-width="0.9"/>
<circle cx="112.65" cy="501.42" r="2" fill="#000000"/>
<circle cx="110.45" cy="519.15" r="2" fill="#000000"/>
<circle cx="114.05" cy="520.71" r="2" fill="#000000"/>
<circle cx="109.05" cy="525.02" r="2" fill="#000000"/>
<circle cx="112.65" cy="525.74" r="2" fill="#000000"/>
<circle cx="115.55" cy="525.02" r="2" fill="#000000"/>
<circle cx="109.65" cy="529.45" r="2" fill="#000000"/>
<circle cx="113.35" cy="529.45" r="2" fill="#000000"/>
<circle cx="111.15" cy="522.62" r="2" fill="#000000"/>
<circle cx="114.65" cy="522.62" r="2" fill="#000000"/>
<line x1="124.05" y1="526.82" x2="124.05" y2="517.23" stroke="#000000" stroke-width="0.9"/>
<line x1="122.05" y1="517.23" x2="126.05" y2="517.23" stroke="#000000" stroke-width="0.9"/>
<line x1="122.05" y1="526.82" x2="126.05" y2="526.82" stroke="#000000" stroke-width="0.9"/>
<circle cx="123.85" cy="503.1" r="2" fill="#000000"/>
<circle cx="123.85" cy="509.69" r="2" fill="#000000"/>
<circle cx="123.85" cy="519.87" r="2" fill="#000000"/>
<circle cx="123.85" cy="527.18" r="2" fill="#000000"/>
<circle cx="127.25" cy="533.77" r="2" fill="#000000"/>
<circle cx="123.55" cy="537" r="2" fill="#000000"/>
<circle cx="121.05" cy="533.41" r="2" fill="#000000"/>
<line x1="135.45" y1="529.81" x2="135.45" y2="525.02" stroke="#000000" stroke-width="0.9"/>
<line x1="133.45" y1="525.02" x2="137.45" y2="525.02" stroke="#000000" stroke-width="0.9"/>
<line x1="133.45" y1="529.81" x2="137.45" y2="529.81" stroke="#000000" stroke-width="0.9"/>
<circle cx="134.95" cy="518.55" r="2" fill="#000000"/>
<circle cx="134.95" cy="527.66" r="2" fill="#000000"/>
<circle cx="131.55" cy="534.48" r="2" fill="#000000"/>
<circle cx="138.45" cy="532.33" r="2" fill="#000000"/>
<line x1="146.85" y1="510.88" x2="146.85" y2="491.72" stroke="#000000" stroke-width="0.9"/>
<line x1="144.85" y1="491.72" x2="148.85" y2="491.72" stroke="#000000" stroke-width="0.9"/>
<line x1="144.85" y1="510.88" x2="148.85" y2="510.88" stroke="#000000" stroke-width="0.9"/>
<circle cx="146.75" cy="435.17" r="2" fill="#000000"/>
<circle cx="142.95" cy="500.22" r="2" fill="#000000"/>
<circle cx="146.75" cy="503.1" r="2" fill="#000000"/>
<circle cx="146.75" cy="516.27" r="2" fill="#000000"/>
<circle cx="146.75" cy="519.15" r="2" fill="#000000"/>
<circle cx="142.95" cy="522.86" r="2" fill="#000000"/>
<circle cx="146.75" cy="523.58" r="2" fill="#000000"/>
<circle cx="150.15" cy="521.43" r="2" fill="#000000"/>
<rect x="155.5" y="526.72" width="9.5" height="10.28" fill="#fff" stroke="#9a9a9a" stroke-width="1"/>
<rect x="166.4" y="523.82" width="10.5" height="13.18" fill="#ff1f0f"/>
<rect x="177.8" y="521.43" width="10.5" height="15.57" fill="#1a00ff"/>
<rect x="189.2" y="522.62" width="10.5" height="14.38" fill="#c624ff"/>
<line x1="160.25" y1="527.42" x2="160.25" y2="525.02" stroke="#000000" stroke-width="0.9"/>
<line x1="158.25" y1="525.02" x2="162.25" y2="525.02" stroke="#000000" stroke-width="0.9"/>
<line x1="158.25" y1="527.42" x2="162.25" y2="527.42" stroke="#000000" stroke-width="0.9"/>
<circle cx="161.25" cy="513.76" r="2" fill="#000000"/>
<circle cx="155.85" cy="521.43" r="2" fill="#000000"/>
<circle cx="158.95" cy="519.03" r="2" fill="#000000"/>
<circle cx="159.75" cy="522.98" r="2" fill="#000000"/>
<circle cx="156.65" cy="526.82" r="2" fill="#000000"/>
<circle cx="161.25" cy="526.82" r="2" fill="#000000"/>
<circle cx="163.25" cy="524.54" r="2" fill="#000000"/>
<circle cx="158.95" cy="529.09" r="2" fill="#000000"/>
<circle cx="156.65" cy="531.73" r="2" fill="#000000"/>
<circle cx="160.75" cy="531.13" r="2" fill="#000000"/>
<circle cx="163.75" cy="529.81" r="2" fill="#000000"/>
<line x1="171.65" y1="525.26" x2="171.65" y2="522.38" stroke="#000000" stroke-width="0.9"/>
<line x1="169.65" y1="522.38" x2="173.65" y2="522.38" stroke="#000000" stroke-width="0.9"/>
<line x1="169.65" y1="525.26" x2="173.65" y2="525.26" stroke="#000000" stroke-width="0.9"/>
<circle cx="168.85" cy="514.48" r="2" fill="#000000"/>
<circle cx="171.85" cy="515.32" r="2" fill="#000000"/>
<circle cx="172.65" cy="517.83" r="2" fill="#000000"/>
<circle cx="169.55" cy="519.15" r="2" fill="#000000"/>
<circle cx="168.05" cy="527.66" r="2" fill="#000000"/>
<circle cx="171.15" cy="527.66" r="2" fill="#000000"/>
<circle cx="173.85" cy="528.25" r="2" fill="#000000"/>
<circle cx="167.75" cy="531.13" r="2" fill="#000000"/>
<circle cx="171.15" cy="531.37" r="2" fill="#000000"/>
<circle cx="173.85" cy="530.17" r="2" fill="#000000"/>
<circle cx="169.55" cy="532.93" r="2" fill="#000000"/>
<line x1="183.05" y1="527.42" x2="183.05" y2="515.44" stroke="#000000" stroke-width="0.9"/>
<line x1="181.05" y1="515.44" x2="185.05" y2="515.44" stroke="#000000" stroke-width="0.9"/>
<line x1="181.05" y1="527.42" x2="185.05" y2="527.42" stroke="#000000" stroke-width="0.9"/>
<circle cx="182.65" cy="502.02" r="2" fill="#000000"/>
<circle cx="178.75" cy="530.17" r="2" fill="#000000"/>
<circle cx="182.65" cy="526.82" r="2" fill="#000000"/>
<circle cx="186.45" cy="528.61" r="2" fill="#000000"/>
<line x1="194.45" y1="523.82" x2="194.45" y2="521.43" stroke="#000000" stroke-width="0.9"/>
<line x1="192.45" y1="521.43" x2="196.45" y2="521.43" stroke="#000000" stroke-width="0.9"/>
<line x1="192.45" y1="523.82" x2="196.45" y2="523.82" stroke="#000000" stroke-width="0.9"/>
<circle cx="194.15" cy="513.04" r="2" fill="#000000"/>
<circle cx="192.55" cy="514.48" r="2" fill="#000000"/>
<circle cx="194.85" cy="521.43" r="2" fill="#000000"/>
<circle cx="191.05" cy="526.82" r="2" fill="#000000"/>
<circle cx="194.15" cy="526.82" r="2" fill="#000000"/>
<circle cx="197.15" cy="525.98" r="2" fill="#000000"/>
<circle cx="195.65" cy="528.25" r="2" fill="#000000"/>
<circle cx="197.95" cy="529.09" r="2" fill="#000000"/>
<rect x="203.1" y="527.32" width="9.5" height="9.68" fill="#fff" stroke="#9a9a9a" stroke-width="1"/>
<rect x="214" y="525.02" width="10.5" height="11.98" fill="#ff1f0f"/>
<rect x="225.4" y="525.02" width="10.5" height="11.98" fill="#1a00ff"/>
<rect x="236.8" y="527.42" width="10.5" height="9.58" fill="#c624ff"/>
<line x1="207.85" y1="528.01" x2="207.85" y2="525.62" stroke="#000000" stroke-width="0.9"/>
<line x1="205.85" y1="525.62" x2="209.85" y2="525.62" stroke="#000000" stroke-width="0.9"/>
<line x1="205.85" y1="528.01" x2="209.85" y2="528.01" stroke="#000000" stroke-width="0.9"/>
<circle cx="207.55" cy="515.8" r="2" fill="#000000"/>
<circle cx="205.55" cy="521.43" r="2" fill="#000000"/>
<circle cx="206.65" cy="525.26" r="2" fill="#000000"/>
<circle cx="208.65" cy="526.82" r="2" fill="#000000"/>
<circle cx="204.05" cy="530.65" r="2" fill="#000000"/>
<circle cx="207.15" cy="530.65" r="2" fill="#000000"/>
<circle cx="210.15" cy="531.37" r="2" fill="#000000"/>
<circle cx="204.85" cy="527.66" r="2" fill="#000000"/>
<circle cx="210.85" cy="528.61" r="2" fill="#000000"/>
<line x1="219.25" y1="526.82" x2="219.25" y2="523.22" stroke="#000000" stroke-width="0.9"/>
<line x1="217.25" y1="523.22" x2="221.25" y2="523.22" stroke="#000000" stroke-width="0.9"/>
<line x1="217.25" y1="526.82" x2="221.25" y2="526.82" stroke="#000000" stroke-width="0.9"/>
<circle cx="215.25" cy="514.96" r="2" fill="#000000"/>
<circle cx="218.95" cy="514.48" r="2" fill="#000000"/>
<circle cx="222.95" cy="514.48" r="2" fill="#000000"/>
<circle cx="221.65" cy="523.34" r="2" fill="#000000"/>
<circle cx="215.55" cy="527.66" r="2" fill="#000000"/>
<circle cx="219.35" cy="527.66" r="2" fill="#000000"/>
<circle cx="222.95" cy="528.25" r="2" fill="#000000"/>
<circle cx="215.55" cy="531.37" r="2" fill="#000000"/>
<circle cx="219.35" cy="531.13" r="2" fill="#000000"/>
<circle cx="222.95" cy="531.73" r="2" fill="#000000"/>
<line x1="230.65" y1="529.81" x2="230.65" y2="520.23" stroke="#000000" stroke-width="0.9"/>
<line x1="228.65" y1="520.23" x2="232.65" y2="520.23" stroke="#000000" stroke-width="0.9"/>
<line x1="228.65" y1="529.81" x2="232.65" y2="529.81" stroke="#000000" stroke-width="0.9"/>
<circle cx="230.15" cy="509.93" r="2" fill="#000000"/>
<circle cx="226.25" cy="530.65" r="2" fill="#000000"/>
<circle cx="230.15" cy="529.09" r="2" fill="#000000"/>
<circle cx="233.95" cy="530.17" r="2" fill="#000000"/>
<line x1="242.05" y1="528.61" x2="242.05" y2="526.22" stroke="#000000" stroke-width="0.9"/>
<line x1="240.05" y1="526.22" x2="244.05" y2="526.22" stroke="#000000" stroke-width="0.9"/>
<line x1="240.05" y1="528.61" x2="244.05" y2="528.61" stroke="#000000" stroke-width="0.9"/>
<circle cx="241.35" cy="520.35" r="2" fill="#000000"/>
<circle cx="238.55" cy="527.66" r="2" fill="#000000"/>
<circle cx="242.35" cy="529.09" r="2" fill="#000000"/>
<circle cx="245.45" cy="526.82" r="2" fill="#000000"/>
<circle cx="237.75" cy="533.65" r="2" fill="#000000"/>
<circle cx="245.45" cy="530.65" r="2" fill="#000000"/>
<polyline points="74.4,526 74.4,480.4 87.7,480.4 87.7,488" fill="none" stroke="#7a7a7a" stroke-width="0.8"/>
<text x="81.15" y="477.86" font-size="4.6" text-anchor="middle" fill="#333" stroke="#333" stroke-width="0.22">p=0.0465</text>
<polyline points="123.4,498.5 123.4,426 146.3,426 146.3,430" fill="none" stroke="#7a7a7a" stroke-width="0.8"/>
<text x="134.9" y="423.56" font-size="4.6" text-anchor="middle" fill="#333" stroke="#333" stroke-width="0.22">p=0.0023</text>
<text x="252.6" y="415.4" font-size="19.5" font-weight="bold" fill="#000" stroke="#000" stroke-width="0.3">H</text>
<line x1="326.6" y1="418.6" x2="326.6" y2="539.1" stroke="#8c8c8c" stroke-width="1"/>
<line x1="320.6" y1="539.1" x2="326.6" y2="539.1" stroke="#8c8c8c" stroke-width="1"/>
<text x="318.6" y="542.7" font-size="10" text-anchor="end">0</text>
<line x1="320.6" y1="515" x2="326.6" y2="515" stroke="#8c8c8c" stroke-width="1"/>
<text x="318.6" y="518.6" font-size="10" text-anchor="end">1</text>
<line x1="320.6" y1="490.9" x2="326.6" y2="490.9" stroke="#8c8c8c" stroke-width="1"/>
<text x="318.6" y="494.5" font-size="10" text-anchor="end">2</text>
<line x1="320.6" y1="466.8" x2="326.6" y2="466.8" stroke="#8c8c8c" stroke-width="1"/>
<text x="318.6" y="470.4" font-size="10" text-anchor="end">3</text>
<line x1="320.6" y1="442.7" x2="326.6" y2="442.7" stroke="#8c8c8c" stroke-width="1"/>
<text x="318.6" y="446.3" font-size="10" text-anchor="end">4</text>
<line x1="320.6" y1="418.6" x2="326.6" y2="418.6" stroke="#8c8c8c" stroke-width="1"/>
<text x="318.6" y="422.2" font-size="10" text-anchor="end">5</text>
<line x1="326.6" y1="539.1" x2="594.7" y2="539.1" stroke="#8c8c8c" stroke-width="1"/>
<line x1="354.9" y1="539.1" x2="354.9" y2="545.1" stroke="#8c8c8c" stroke-width="1"/>
<line x1="420.5" y1="539.1" x2="420.5" y2="545.1" stroke="#8c8c8c" stroke-width="1"/>
<line x1="468.6" y1="539.1" x2="468.6" y2="545.1" stroke="#8c8c8c" stroke-width="1"/>
<line x1="517" y1="539.1" x2="517" y2="545.1" stroke="#8c8c8c" stroke-width="1"/>
<line x1="565.3" y1="539.1" x2="565.3" y2="545.1" stroke="#8c8c8c" stroke-width="1"/>
<line x1="387.5" y1="539.1" x2="387.5" y2="545.1" stroke="#8c8c8c" stroke-width="1"/>
<text x="0" y="0" font-size="10.5" text-anchor="end" transform="translate(358.4 554.5) rotate(-45)">F4/80</text>
<text x="0" y="0" font-size="10.5" text-anchor="end" transform="translate(424 554.5) rotate(-45)">TNFα</text>
<text x="0" y="0" font-size="10.5" text-anchor="end" transform="translate(472.1 554.5) rotate(-45)">IL-6</text>
<text x="0" y="0" font-size="10.5" text-anchor="end" transform="translate(520.5 554.5) rotate(-45)">IL-1β</text>
<text x="0" y="0" font-size="10.5" text-anchor="end" transform="translate(568.8 554.5) rotate(-45)">CCL2</text>
<text x="0" y="0" font-size="10.4" text-anchor="middle" transform="translate(286.34 480.3) rotate(-90)">Relative gene expression</text>
<text x="0" y="0" font-size="10.4" text-anchor="middle" transform="translate(300.34 480.3) rotate(-90)">(fold change over control)</text>
<rect x="332.8" y="515.5" width="9.6" height="23.6" fill="#fff" stroke="#a0a0a0" stroke-width="1"/>
<rect x="344" y="505.36" width="10.6" height="33.74" fill="#ff1f0f"/>
<rect x="355.7" y="528.25" width="10.6" height="10.85" fill="#1a00ff"/>
<rect x="367.4" y="528.25" width="10.6" height="10.85" fill="#c624ff"/>
<line x1="337.6" y1="517.41" x2="337.6" y2="512.59" stroke="#000000" stroke-width="0.9"/>
<line x1="335.6" y1="512.59" x2="339.6" y2="512.59" stroke="#000000" stroke-width="0.9"/>
<line x1="335.6" y1="517.41" x2="339.6" y2="517.41" stroke="#000000" stroke-width="0.9"/>
<circle cx="333.6" cy="495.96" r="2" fill="#000000"/>
<circle cx="341.1" cy="498.85" r="2" fill="#000000"/>
<circle cx="337.6" cy="501.99" r="2" fill="#000000"/>
<circle cx="335.3" cy="509.46" r="2" fill="#000000"/>
<circle cx="340.6" cy="509.46" r="2" fill="#000000"/>
<circle cx="332.9" cy="514.04" r="2" fill="#000000"/>
<circle cx="338.3" cy="515.24" r="2" fill="#000000"/>
<circle cx="336.4" cy="518.37" r="2" fill="#000000"/>
<circle cx="339.9" cy="521.02" r="2" fill="#000000"/>
<circle cx="335.3" cy="522.23" r="2" fill="#000000"/>
<circle cx="333.4" cy="528.01" r="2" fill="#000000"/>
<circle cx="338.8" cy="528.01" r="2" fill="#000000"/>
<line x1="349.3" y1="511.39" x2="349.3" y2="499.34" stroke="#000000" stroke-width="0.9"/>
<line x1="347.3" y1="499.34" x2="351.3" y2="499.34" stroke="#000000" stroke-width="0.9"/>
<line x1="347.3" y1="511.39" x2="351.3" y2="511.39" stroke="#000000" stroke-width="0.9"/>
<circle cx="349.3" cy="444.15" r="2" fill="#000000"/>
<circle cx="349.3" cy="474.03" r="2" fill="#000000"/>
<circle cx="345.8" cy="493.07" r="2" fill="#000000"/>
<circle cx="352.3" cy="495.96" r="2" fill="#000000"/>
<circle cx="348.1" cy="498.85" r="2" fill="#000000"/>
<circle cx="349.3" cy="507.77" r="2" fill="#000000"/>
<circle cx="346.2" cy="513.07" r="2" fill="#000000"/>
<circle cx="350.4" cy="516.45" r="2" fill="#000000"/>
<circle cx="348.1" cy="522.23" r="2" fill="#000000"/>
<circle cx="352.3" cy="525.85" r="2" fill="#000000"/>
<circle cx="345.8" cy="534.04" r="2" fill="#000000"/>
<circle cx="352.8" cy="534.76" r="2" fill="#000000"/>
<line x1="361" y1="531.15" x2="361" y2="525.36" stroke="#000000" stroke-width="0.9"/>
<line x1="359" y1="525.36" x2="363" y2="525.36" stroke="#000000" stroke-width="0.9"/>
<line x1="359" y1="531.15" x2="363" y2="531.15" stroke="#000000" stroke-width="0.9"/>
<circle cx="359.3" cy="503.67" r="2" fill="#000000"/>
<circle cx="358.6" cy="524.64" r="2" fill="#000000"/>
<circle cx="356.3" cy="530.42" r="2" fill="#000000"/>
<circle cx="361.7" cy="530.42" r="2" fill="#000000"/>
<circle cx="364.5" cy="534.76" r="2" fill="#000000"/>
<circle cx="360" cy="535.49" r="2" fill="#000000"/>
<line x1="372.7" y1="530.67" x2="372.7" y2="525.85" stroke="#000000" stroke-width="0.9"/>
<line x1="370.7" y1="525.85" x2="374.7" y2="525.85" stroke="#000000" stroke-width="0.9"/>
<line x1="370.7" y1="530.67" x2="374.7" y2="530.67" stroke="#000000" stroke-width="0.9"/>
<circle cx="372.6" cy="511.87" r="2" fill="#000000"/>
<circle cx="376.1" cy="511.87" r="2" fill="#000000"/>
<circle cx="372.6" cy="520.06" r="2" fill="#000000"/>
<circle cx="370.3" cy="528.01" r="2" fill="#000000"/>
<circle cx="372.6" cy="532.83" r="2" fill="#000000"/>
<circle cx="376.1" cy="534.76" r="2" fill="#000000"/>
<circle cx="370.3" cy="535.24" r="2" fill="#000000"/>
<circle cx="373.8" cy="536.45" r="2" fill="#000000"/>
<rect x="398.4" y="511.89" width="9.6" height="27.21" fill="#fff" stroke="#a0a0a0" stroke-width="1"/>
<rect x="409.6" y="510.18" width="10.6" height="28.92" fill="#ff1f0f"/>
<rect x="421.3" y="522.23" width="10.6" height="16.87" fill="#1a00ff"/>
<rect x="433" y="524.64" width="10.6" height="14.46" fill="#c624ff"/>
<line x1="403.2" y1="514.28" x2="403.2" y2="508.49" stroke="#000000" stroke-width="0.9"/>
<line x1="401.2" y1="508.49" x2="405.2" y2="508.49" stroke="#000000" stroke-width="0.9"/>
<line x1="401.2" y1="514.28" x2="405.2" y2="514.28" stroke="#000000" stroke-width="0.9"/>
<circle cx="403.2" cy="476.44" r="2" fill="#000000"/>
<circle cx="403.16" cy="515.74" r="2" fill="#000000"/>
<circle cx="403.65" cy="510.45" r="2" fill="#000000"/>
<circle cx="405.68" cy="510.19" r="2" fill="#000000"/>
<circle cx="401.76" cy="525.34" r="2" fill="#000000"/>
<circle cx="401.77" cy="529.15" r="2" fill="#000000"/>
<circle cx="404.75" cy="518.62" r="2" fill="#000000"/>
<circle cx="403.09" cy="521.53" r="2" fill="#000000"/>
<circle cx="402.07" cy="506.02" r="2" fill="#000000"/>
<circle cx="402.44" cy="509.49" r="2" fill="#000000"/>
<circle cx="401.84" cy="512.07" r="2" fill="#000000"/>
<line x1="414.9" y1="513.07" x2="414.9" y2="507.29" stroke="#000000" stroke-width="0.9"/>
<line x1="412.9" y1="507.29" x2="416.9" y2="507.29" stroke="#000000" stroke-width="0.9"/>
<line x1="412.9" y1="513.07" x2="416.9" y2="513.07" stroke="#000000" stroke-width="0.9"/>
<circle cx="414.9" cy="475.24" r="2" fill="#000000"/>
<circle cx="412.24" cy="523.13" r="2" fill="#000000"/>
<circle cx="415.95" cy="508.75" r="2" fill="#000000"/>
<circle cx="418.05" cy="508.79" r="2" fill="#000000"/>
<circle cx="416.41" cy="503.21" r="2" fill="#000000"/>
<circle cx="415.98" cy="525.6" r="2" fill="#000000"/>
<circle cx="413.6" cy="524.09" r="2" fill="#000000"/>
<circle cx="414.37" cy="526.9" r="2" fill="#000000"/>
<circle cx="412.05" cy="524.27" r="2" fill="#000000"/>
<circle cx="416.73" cy="507.1" r="2" fill="#000000"/>
<circle cx="413.27" cy="527.48" r="2" fill="#000000"/>
<line x1="426.6" y1="524.64" x2="426.6" y2="519.82" stroke="#000000" stroke-width="0.9"/>
<line x1="424.6" y1="519.82" x2="428.6" y2="519.82" stroke="#000000" stroke-width="0.9"/>
<line x1="424.6" y1="524.64" x2="428.6" y2="524.64" stroke="#000000" stroke-width="0.9"/>
<circle cx="424.93" cy="531.45" r="2" fill="#000000"/>
<circle cx="430.45" cy="515.65" r="2" fill="#000000"/>
<circle cx="425.32" cy="516.99" r="2" fill="#000000"/>
<circle cx="430.43" cy="509.35" r="2" fill="#000000"/>
<circle cx="427.54" cy="527.09" r="2" fill="#000000"/>
<circle cx="428.69" cy="527.5" r="2" fill="#000000"/>
<circle cx="427.62" cy="514.82" r="2" fill="#000000"/>
<circle cx="424.03" cy="516.82" r="2" fill="#000000"/>
<line x1="438.3" y1="527.05" x2="438.3" y2="522.23" stroke="#000000" stroke-width="0.9"/>
<line x1="436.3" y1="522.23" x2="440.3" y2="522.23" stroke="#000000" stroke-width="0.9"/>
<line x1="436.3" y1="527.05" x2="440.3" y2="527.05" stroke="#000000" stroke-width="0.9"/>
<circle cx="440" cy="508.78" r="2" fill="#000000"/>
<circle cx="436.37" cy="536.35" r="2" fill="#000000"/>
<circle cx="437.56" cy="515.41" r="2" fill="#000000"/>
<circle cx="435.34" cy="532.12" r="2" fill="#000000"/>
<circle cx="434.77" cy="508.17" r="2" fill="#000000"/>
<circle cx="437.24" cy="536.2" r="2" fill="#000000"/>
<circle cx="434.41" cy="511.26" r="2" fill="#000000"/>
<circle cx="437.38" cy="516.99" r="2" fill="#000000"/>
<circle cx="441.1" cy="511.9" r="2" fill="#000000"/>
<circle cx="442.29" cy="507.78" r="2" fill="#000000"/>
<rect x="446.5" y="511.89" width="9.6" height="27.21" fill="#fff" stroke="#a0a0a0" stroke-width="1"/>
<rect x="457.7" y="510.18" width="10.6" height="28.92" fill="#ff1f0f"/>
<rect x="469.4" y="520.3" width="10.6" height="18.8" fill="#1a00ff"/>
<rect x="481.1" y="527.05" width="10.6" height="12.05" fill="#c624ff"/>
<line x1="451.3" y1="514.28" x2="451.3" y2="508.49" stroke="#000000" stroke-width="0.9"/>
<line x1="449.3" y1="508.49" x2="453.3" y2="508.49" stroke="#000000" stroke-width="0.9"/>
<line x1="449.3" y1="514.28" x2="453.3" y2="514.28" stroke="#000000" stroke-width="0.9"/>
<circle cx="451.3" cy="474.03" r="2" fill="#000000"/>
<circle cx="453.3" cy="478.85" r="2" fill="#000000"/>
<circle cx="454.72" cy="519" r="2" fill="#000000"/>
<circle cx="448.68" cy="515.56" r="2" fill="#000000"/>
<circle cx="455.07" cy="517.4" r="2" fill="#000000"/>
<circle cx="449.2" cy="516.54" r="2" fill="#000000"/>
<circle cx="451.02" cy="517.62" r="2" fill="#000000"/>
<circle cx="454.48" cy="510.44" r="2" fill="#000000"/>
<circle cx="450.15" cy="521.97" r="2" fill="#000000"/>
<circle cx="451.36" cy="511.1" r="2" fill="#000000"/>
<circle cx="448.59" cy="529.17" r="2" fill="#000000"/>
<circle cx="454.99" cy="520.72" r="2" fill="#000000"/>
<line x1="463" y1="513.07" x2="463" y2="507.29" stroke="#000000" stroke-width="0.9"/>
<line x1="461" y1="507.29" x2="465" y2="507.29" stroke="#000000" stroke-width="0.9"/>
<line x1="461" y1="513.07" x2="465" y2="513.07" stroke="#000000" stroke-width="0.9"/>
<circle cx="463" cy="475.24" r="2" fill="#000000"/>
<circle cx="465" cy="476.44" r="2" fill="#000000"/>
<circle cx="466.88" cy="515.73" r="2" fill="#000000"/>
<circle cx="460.37" cy="509.55" r="2" fill="#000000"/>
<circle cx="459.98" cy="506.22" r="2" fill="#000000"/>
<circle cx="462.78" cy="520.77" r="2" fill="#000000"/>
<circle cx="463.15" cy="510.43" r="2" fill="#000000"/>
<circle cx="465.2" cy="511.78" r="2" fill="#000000"/>
<circle cx="461.74" cy="512.7" r="2" fill="#000000"/>
<circle cx="463.72" cy="524.66" r="2" fill="#000000"/>
<circle cx="460.28" cy="526.47" r="2" fill="#000000"/>
<circle cx="460.7" cy="518.72" r="2" fill="#000000"/>
<line x1="474.7" y1="522.23" x2="474.7" y2="518.37" stroke="#000000" stroke-width="0.9"/>
<line x1="472.7" y1="518.37" x2="476.7" y2="518.37" stroke="#000000" stroke-width="0.9"/>
<line x1="472.7" y1="522.23" x2="476.7" y2="522.23" stroke="#000000" stroke-width="0.9"/>
<circle cx="471.33" cy="528.38" r="2" fill="#000000"/>
<circle cx="475.07" cy="519.12" r="2" fill="#000000"/>
<circle cx="475.2" cy="525.42" r="2" fill="#000000"/>
<circle cx="475.64" cy="528.05" r="2" fill="#000000"/>
<circle cx="478.19" cy="522.43" r="2" fill="#000000"/>
<circle cx="473.15" cy="522.35" r="2" fill="#000000"/>
<circle cx="473.44" cy="522.62" r="2" fill="#000000"/>
<line x1="486.4" y1="528.98" x2="486.4" y2="525.12" stroke="#000000" stroke-width="0.9"/>
<line x1="484.4" y1="525.12" x2="488.4" y2="525.12" stroke="#000000" stroke-width="0.9"/>
<line x1="484.4" y1="528.98" x2="488.4" y2="528.98" stroke="#000000" stroke-width="0.9"/>
<circle cx="486.1" cy="522" r="2" fill="#000000"/>
<circle cx="489.97" cy="519.67" r="2" fill="#000000"/>
<circle cx="484.86" cy="525.4" r="2" fill="#000000"/>
<circle cx="484.72" cy="525.6" r="2" fill="#000000"/>
<circle cx="485.81" cy="528.15" r="2" fill="#000000"/>
<circle cx="487.92" cy="515.07" r="2" fill="#000000"/>
<circle cx="484.64" cy="530.41" r="2" fill="#000000"/>
<circle cx="483.78" cy="533.47" r="2" fill="#000000"/>
<circle cx="488.25" cy="531.03" r="2" fill="#000000"/>
<circle cx="487" cy="531.04" r="2" fill="#000000"/>
<rect x="494.9" y="511.89" width="9.6" height="27.21" fill="#fff" stroke="#a0a0a0" stroke-width="1"/>
<rect x="506.1" y="508.98" width="10.6" height="30.12" fill="#ff1f0f"/>
<rect x="517.8" y="524.64" width="10.6" height="14.46" fill="#1a00ff"/>
<rect x="529.5" y="527.05" width="10.6" height="12.05" fill="#c624ff"/>
<line x1="499.7" y1="514.28" x2="499.7" y2="508.49" stroke="#000000" stroke-width="0.9"/>
<line x1="497.7" y1="508.49" x2="501.7" y2="508.49" stroke="#000000" stroke-width="0.9"/>
<line x1="497.7" y1="514.28" x2="501.7" y2="514.28" stroke="#000000" stroke-width="0.9"/>
<circle cx="499.7" cy="486.08" r="2" fill="#000000"/>
<circle cx="499.7" cy="498.13" r="2" fill="#000000"/>
<circle cx="499.26" cy="505.22" r="2" fill="#000000"/>
<circle cx="498.05" cy="510.51" r="2" fill="#000000"/>
<circle cx="502.98" cy="508.58" r="2" fill="#000000"/>
<circle cx="499.57" cy="505.25" r="2" fill="#000000"/>
<circle cx="496.4" cy="520.79" r="2" fill="#000000"/>
<circle cx="501.7" cy="511.73" r="2" fill="#000000"/>
<circle cx="496.3" cy="505.24" r="2" fill="#000000"/>
<circle cx="497.32" cy="506.03" r="2" fill="#000000"/>
<line x1="511.4" y1="511.87" x2="511.4" y2="506.08" stroke="#000000" stroke-width="0.9"/>
<line x1="509.4" y1="506.08" x2="513.4" y2="506.08" stroke="#000000" stroke-width="0.9"/>
<line x1="509.4" y1="511.87" x2="513.4" y2="511.87" stroke="#000000" stroke-width="0.9"/>
<circle cx="511.4" cy="474.03" r="2" fill="#000000"/>
<circle cx="511.4" cy="486.08" r="2" fill="#000000"/>
<circle cx="507.99" cy="526.7" r="2" fill="#000000"/>
<circle cx="512.43" cy="510.26" r="2" fill="#000000"/>
<circle cx="514.14" cy="511.98" r="2" fill="#000000"/>
<circle cx="512.29" cy="516.86" r="2" fill="#000000"/>
<circle cx="509.18" cy="525.1" r="2" fill="#000000"/>
<circle cx="514.16" cy="507.04" r="2" fill="#000000"/>
<circle cx="514.37" cy="506.56" r="2" fill="#000000"/>
<circle cx="510.03" cy="515.81" r="2" fill="#000000"/>
<circle cx="509.59" cy="516.05" r="2" fill="#000000"/>
<line x1="523.1" y1="526.57" x2="523.1" y2="522.71" stroke="#000000" stroke-width="0.9"/>
<line x1="521.1" y1="522.71" x2="525.1" y2="522.71" stroke="#000000" stroke-width="0.9"/>
<line x1="521.1" y1="526.57" x2="525.1" y2="526.57" stroke="#000000" stroke-width="0.9"/>
<circle cx="524.49" cy="513.6" r="2" fill="#000000"/>
<circle cx="526.88" cy="533.31" r="2" fill="#000000"/>
<circle cx="526.4" cy="536.12" r="2" fill="#000000"/>
<circle cx="526.11" cy="512.62" r="2" fill="#000000"/>
<circle cx="524.83" cy="532.25" r="2" fill="#000000"/>
<circle cx="520.92" cy="533.78" r="2" fill="#000000"/>
<circle cx="524" cy="520.99" r="2" fill="#000000"/>
<circle cx="522.52" cy="528.36" r="2" fill="#000000"/>
<line x1="534.8" y1="528.98" x2="534.8" y2="525.12" stroke="#000000" stroke-width="0.9"/>
<line x1="532.8" y1="525.12" x2="536.8" y2="525.12" stroke="#000000" stroke-width="0.9"/>
<line x1="532.8" y1="528.98" x2="536.8" y2="528.98" stroke="#000000" stroke-width="0.9"/>
<circle cx="535.91" cy="516.63" r="2" fill="#000000"/>
<circle cx="534.7" cy="516.11" r="2" fill="#000000"/>
<circle cx="532.45" cy="517.33" r="2" fill="#000000"/>
<circle cx="537.98" cy="534.88" r="2" fill="#000000"/>
<circle cx="531.09" cy="523.85" r="2" fill="#000000"/>
<circle cx="533.53" cy="527.5" r="2" fill="#000000"/>
<circle cx="533.44" cy="525.19" r="2" fill="#000000"/>
<circle cx="538.53" cy="533.86" r="2" fill="#000000"/>
<circle cx="531.74" cy="532.53" r="2" fill="#000000"/>
<circle cx="535.42" cy="527.05" r="2" fill="#000000"/>
<rect x="543.2" y="506.34" width="9.6" height="32.76" fill="#fff" stroke="#a0a0a0" stroke-width="1"/>
<rect x="554.4" y="505.36" width="10.6" height="33.74" fill="#ff1f0f"/>
<rect x="566.1" y="528.25" width="10.6" height="10.85" fill="#1a00ff"/>
<rect x="577.8" y="534.28" width="10.6" height="4.82" fill="#c624ff"/>
<line x1="548" y1="510.66" x2="548" y2="501.02" stroke="#000000" stroke-width="0.9"/>
<line x1="546" y1="501.02" x2="550" y2="501.02" stroke="#000000" stroke-width="0.9"/>
<line x1="546" y1="510.66" x2="550" y2="510.66" stroke="#000000" stroke-width="0.9"/>
<circle cx="548.2" cy="465.35" r="2" fill="#000000"/>
<circle cx="547.2" cy="482.95" r="2" fill="#000000"/>
<circle cx="550.8" cy="482.95" r="2" fill="#000000"/>
<circle cx="547.7" cy="492.59" r="2" fill="#000000"/>
<circle cx="544.1" cy="501.02" r="2" fill="#000000"/>
<circle cx="547.7" cy="505.84" r="2" fill="#000000"/>
<circle cx="551.3" cy="505.84" r="2" fill="#000000"/>
<circle cx="544.1" cy="517.89" r="2" fill="#000000"/>
<circle cx="548" cy="519.82" r="2" fill="#000000"/>
<circle cx="544.6" cy="527.53" r="2" fill="#000000"/>
<circle cx="550.8" cy="527.53" r="2" fill="#000000"/>
<circle cx="547.7" cy="534.28" r="2" fill="#000000"/>
<line x1="559.7" y1="510.18" x2="559.7" y2="500.54" stroke="#000000" stroke-width="0.9"/>
<line x1="557.7" y1="500.54" x2="561.7" y2="500.54" stroke="#000000" stroke-width="0.9"/>
<line x1="557.7" y1="510.18" x2="561.7" y2="510.18" stroke="#000000" stroke-width="0.9"/>
<circle cx="559.7" cy="462.46" r="2" fill="#000000"/>
<circle cx="556.1" cy="489.45" r="2" fill="#000000"/>
<circle cx="562.9" cy="483.67" r="2" fill="#000000"/>
<circle cx="562.9" cy="487.77" r="2" fill="#000000"/>
<circle cx="559.7" cy="501.02" r="2" fill="#000000"/>
<circle cx="556.1" cy="505.84" r="2" fill="#000000"/>
<circle cx="562.9" cy="505.84" r="2" fill="#000000"/>
<circle cx="559.7" cy="513.07" r="2" fill="#000000"/>
<circle cx="559.7" cy="520.3" r="2" fill="#000000"/>
<circle cx="556.1" cy="527.53" r="2" fill="#000000"/>
<circle cx="562.9" cy="533.56" r="2" fill="#000000"/>
<line x1="571.4" y1="530.18" x2="571.4" y2="526.33" stroke="#000000" stroke-width="0.9"/>
<line x1="569.4" y1="526.33" x2="573.4" y2="526.33" stroke="#000000" stroke-width="0.9"/>
<line x1="569.4" y1="530.18" x2="573.4" y2="530.18" stroke="#000000" stroke-width="0.9"/>
<circle cx="570.6" cy="515.24" r="2" fill="#000000"/>
<circle cx="570.6" cy="521.51" r="2" fill="#000000"/>
<circle cx="568.2" cy="526.33" r="2" fill="#000000"/>
<circle cx="573.5" cy="529.94" r="2" fill="#000000"/>
<circle cx="568.2" cy="533.56" r="2" fill="#000000"/>
<circle cx="574.9" cy="533.56" r="2" fill="#000000"/>
<line x1="583.1" y1="535.49" x2="583.1" y2="533.08" stroke="#000000" stroke-width="0.9"/>
<line x1="581.1" y1="533.08" x2="585.1" y2="533.08" stroke="#000000" stroke-width="0.9"/>
<line x1="581.1" y1="535.49" x2="585.1" y2="535.49" stroke="#000000" stroke-width="0.9"/>
<circle cx="583.1" cy="525.12" r="2" fill="#000000"/>
<circle cx="582.1" cy="531.15" r="2" fill="#000000"/>
<circle cx="580.7" cy="534.76" r="2" fill="#000000"/>
<circle cx="585" cy="534.76" r="2" fill="#000000"/>
<circle cx="583.1" cy="537.17" r="2" fill="#000000"/>
<circle cx="586.1" cy="537.17" r="2" fill="#000000"/>
<polyline points="348.6,437.7 348.6,434.2 374.3,434.2 374.3,509.5" fill="none" stroke="#7a7a7a" stroke-width="0.8"/>
<text x="361.85" y="430.99" font-size="4.7" text-anchor="middle" fill="#333" stroke="#333" stroke-width="0.22">p=0.0027</text>
<polyline points="413.4,473.3 413.4,461.6 438.4,461.6 438.4,507.1" fill="none" stroke="#7a7a7a" stroke-width="0.8"/>
<text x="425.9" y="459.09" font-size="4.7" text-anchor="middle" fill="#333" stroke="#333" stroke-width="0.22">p=0.1052</text>
<polyline points="461.8,470.9 461.8,462.3 486.8,462.3 486.8,514.1" fill="none" stroke="#7a7a7a" stroke-width="0.8"/>
<text x="474.3" y="457.89" font-size="4.7" text-anchor="middle" fill="#333" stroke="#333" stroke-width="0.22">p=0.0396</text>
<polyline points="511.3,469.7 511.3,463.2 536,463.2 536,515.3" fill="none" stroke="#7a7a7a" stroke-width="0.8"/>
<text x="523.65" y="459.69" font-size="4.7" text-anchor="middle" fill="#333" stroke="#333" stroke-width="0.22">p=0.0093</text>
<polyline points="548.2,463.6 548.2,438.4 571.3,438.4 571.3,513" fill="none" stroke="#7a7a7a" stroke-width="0.8"/>
<text x="560.65" y="433.99" font-size="4.7" text-anchor="middle" fill="#333" stroke="#333" stroke-width="0.22">p=0.0015</text>
<polyline points="559.7,458.8 559.7,452.8 584.3,452.8 584.3,523.9" fill="none" stroke="#7a7a7a" stroke-width="0.8"/>
<text x="583.35" y="449.19" font-size="4.7" text-anchor="middle" fill="#333" stroke="#333" stroke-width="0.22">p&lt;0.0001</text>
<text x="12.3" y="582.2" font-size="19.5" font-weight="bold" fill="#000" stroke="#000" stroke-width="0.3">I</text>
<line x1="61.3" y1="587.4" x2="61.3" y2="622.8" stroke="#8c8c8c" stroke-width="1"/>
<line x1="55.3" y1="587.41" x2="61.3" y2="587.41" stroke="#8c8c8c" stroke-width="1"/>
<text x="53.3" y="590.94" font-size="9.8" text-anchor="end">48</text>
<line x1="55.3" y1="596.26" x2="61.3" y2="596.26" stroke="#8c8c8c" stroke-width="1"/>
<text x="53.3" y="599.79" font-size="9.8" text-anchor="end">39</text>
<line x1="55.3" y1="605.11" x2="61.3" y2="605.11" stroke="#8c8c8c" stroke-width="1"/>
<text x="53.3" y="608.63" font-size="9.8" text-anchor="end">30</text>
<line x1="55.3" y1="613.95" x2="61.3" y2="613.95" stroke="#8c8c8c" stroke-width="1"/>
<text x="53.3" y="617.48" font-size="9.8" text-anchor="end">21</text>
<text x="53.3" y="626.33" font-size="9.8" text-anchor="end">12</text>
<line x1="57.3" y1="622.8" x2="64.9" y2="622.8" stroke="#8c8c8c" stroke-width="1"/>
<line x1="61.3" y1="634.6" x2="61.3" y2="706.6" stroke="#8c8c8c" stroke-width="1"/>
<line x1="55.3" y1="706.6" x2="61.3" y2="706.6" stroke="#8c8c8c" stroke-width="1"/>
<text x="53.3" y="710.13" font-size="9.8" text-anchor="end">0</text>
<line x1="55.3" y1="694.6" x2="61.3" y2="694.6" stroke="#8c8c8c" stroke-width="1"/>
<text x="53.3" y="698.13" font-size="9.8" text-anchor="end">2</text>
<line x1="55.3" y1="682.6" x2="61.3" y2="682.6" stroke="#8c8c8c" stroke-width="1"/>
<text x="53.3" y="686.13" font-size="9.8" text-anchor="end">4</text>
<line x1="55.3" y1="670.6" x2="61.3" y2="670.6" stroke="#8c8c8c" stroke-width="1"/>
<text x="53.3" y="674.13" font-size="9.8" text-anchor="end">6</text>
<line x1="55.3" y1="658.6" x2="61.3" y2="658.6" stroke="#8c8c8c" stroke-width="1"/>
<text x="53.3" y="662.13" font-size="9.8" text-anchor="end">8</text>
<line x1="55.3" y1="646.6" x2="61.3" y2="646.6" stroke="#8c8c8c" stroke-width="1"/>
<text x="53.3" y="650.13" font-size="9.8" text-anchor="end">10</text>
<text x="53.3" y="638.13" font-size="9.8" text-anchor="end">12</text>
<line x1="57.3" y1="634.6" x2="64.9" y2="634.6" stroke="#8c8c8c" stroke-width="1"/>
<line x1="61.3" y1="706.6" x2="348.6" y2="706.6" stroke="#8c8c8c" stroke-width="1"/>
<line x1="85.3" y1="706.6" x2="85.3" y2="712.6" stroke="#8c8c8c" stroke-width="1"/>
<line x1="126.8" y1="706.6" x2="126.8" y2="712.6" stroke="#8c8c8c" stroke-width="1"/>
<line x1="183.6" y1="706.6" x2="183.6" y2="712.6" stroke="#8c8c8c" stroke-width="1"/>
<line x1="224.9" y1="706.6" x2="224.9" y2="712.6" stroke="#8c8c8c" stroke-width="1"/>
<line x1="282.2" y1="706.6" x2="282.2" y2="712.6" stroke="#8c8c8c" stroke-width="1"/>
<line x1="323.7" y1="706.6" x2="323.7" y2="712.6" stroke="#8c8c8c" stroke-width="1"/>
<line x1="155.4" y1="706.6" x2="155.4" y2="712.6" stroke="#8c8c8c" stroke-width="1"/>
<line x1="253.3" y1="706.6" x2="253.3" y2="712.6" stroke="#8c8c8c" stroke-width="1"/>
<text x="0" y="0" font-size="10" text-anchor="end" transform="translate(88.8 721.5) rotate(-45)">Adiponectin</text>
<text x="0" y="0" font-size="10" text-anchor="end" transform="translate(130.3 721.5) rotate(-45)">PPARγ</text>
<text x="0" y="0" font-size="10" text-anchor="end" transform="translate(187.1 721.5) rotate(-45)">FASN</text>
<text x="0" y="0" font-size="10" text-anchor="end" transform="translate(228.4 721.5) rotate(-45)">SREBP-1C</text>
<text x="0" y="0" font-size="10" text-anchor="end" transform="translate(285.7 721.5) rotate(-45)">ATGL</text>
<text x="0" y="0" font-size="10" text-anchor="end" transform="translate(327.2 721.5) rotate(-45)">HSL</text>
<text x="0" y="0" font-size="9.6" text-anchor="middle" transform="translate(17.36 648) rotate(-90)">Relative gene expression</text>
<text x="0" y="0" font-size="9.6" text-anchor="middle" transform="translate(28.76 648) rotate(-90)">(fold change over control)</text>
<rect x="66.2" y="699.3" width="8.2" height="7.3" fill="#fff" stroke="#9a9a9a" stroke-width="1"/>
<rect x="75.8" y="699.4" width="9.2" height="7.2" fill="#ff1f0f"/>
<rect x="85.9" y="650.8" width="9.2" height="55.8" fill="#1a00ff"/>
<rect x="96" y="698.8" width="9.2" height="7.8" fill="#c624ff"/>
<line x1="70.3" y1="699.7" x2="70.3" y2="697.9" stroke="#000000" stroke-width="0.6"/>
<line x1="68.3" y1="697.9" x2="72.3" y2="697.9" stroke="#000000" stroke-width="0.6"/>
<line x1="68.3" y1="699.7" x2="72.3" y2="699.7" stroke="#000000" stroke-width="0.6"/>
<circle cx="68.91" cy="704.67" r="1.9" fill="#000000"/>
<circle cx="70.55" cy="703.65" r="1.9" fill="#000000"/>
<circle cx="71.56" cy="700.79" r="1.9" fill="#000000"/>
<circle cx="73.08" cy="697.82" r="1.9" fill="#000000"/>
<circle cx="69.51" cy="703.39" r="1.9" fill="#000000"/>
<circle cx="70.5" cy="703.65" r="1.9" fill="#000000"/>
<circle cx="69.54" cy="702.44" r="1.9" fill="#000000"/>
<circle cx="70.6" cy="697.07" r="1.9" fill="#000000"/>
<circle cx="72.37" cy="703.3" r="1.9" fill="#000000"/>
<circle cx="73.29" cy="697.25" r="1.9" fill="#000000"/>
<circle cx="72.9" cy="698.05" r="1.9" fill="#000000"/>
<circle cx="72.96" cy="703.41" r="1.9" fill="#000000"/>
<line x1="80.4" y1="700.3" x2="80.4" y2="698.5" stroke="#000000" stroke-width="0.6"/>
<line x1="78.4" y1="698.5" x2="82.4" y2="698.5" stroke="#000000" stroke-width="0.6"/>
<line x1="78.4" y1="700.3" x2="82.4" y2="700.3" stroke="#000000" stroke-width="0.6"/>
<circle cx="77.69" cy="705.67" r="1.9" fill="#000000"/>
<circle cx="78.83" cy="704.04" r="1.9" fill="#000000"/>
<circle cx="83.11" cy="702.96" r="1.9" fill="#000000"/>
<circle cx="80.78" cy="695.8" r="1.9" fill="#000000"/>
<circle cx="78.24" cy="700.64" r="1.9" fill="#000000"/>
<circle cx="81.14" cy="697.96" r="1.9" fill="#000000"/>
<circle cx="83.04" cy="705.4" r="1.9" fill="#000000"/>
<circle cx="78.77" cy="700.49" r="1.9" fill="#000000"/>
<circle cx="79.51" cy="696.48" r="1.9" fill="#000000"/>
<circle cx="78.41" cy="700.33" r="1.9" fill="#000000"/>
<line x1="90.5" y1="677.2" x2="90.5" y2="634.6" stroke="#000" stroke-width="0.6"/>
<line x1="88.5" y1="677.2" x2="92.5" y2="677.2" stroke="#000" stroke-width="0.6"/>
<circle cx="90.5" cy="697" r="1.9" fill="#000000"/>
<circle cx="87.5" cy="698.8" r="1.9" fill="#000000"/>
<circle cx="93.5" cy="700" r="1.9" fill="#000000"/>
<line x1="100.6" y1="699.7" x2="100.6" y2="697.9" stroke="#000000" stroke-width="0.6"/>
<line x1="98.6" y1="697.9" x2="102.6" y2="697.9" stroke="#000000" stroke-width="0.6"/>
<line x1="98.6" y1="699.7" x2="102.6" y2="699.7" stroke="#000000" stroke-width="0.6"/>
<circle cx="103.5" cy="697.18" r="1.9" fill="#000000"/>
<circle cx="98.8" cy="696.55" r="1.9" fill="#000000"/>
<circle cx="99.13" cy="694.67" r="1.9" fill="#000000"/>
<circle cx="98.04" cy="700.17" r="1.9" fill="#000000"/>
<circle cx="98.18" cy="696.35" r="1.9" fill="#000000"/>
<circle cx="97.66" cy="693.91" r="1.9" fill="#000000"/>
<circle cx="97.59" cy="693.73" r="1.9" fill="#000000"/>
<circle cx="100.77" cy="701.1" r="1.9" fill="#000000"/>
<circle cx="99.37" cy="696.35" r="1.9" fill="#000000"/>
<circle cx="99.8" cy="696.71" r="1.9" fill="#000000"/>
<rect x="107.7" y="701.1" width="8.2" height="5.5" fill="#fff" stroke="#9a9a9a" stroke-width="1"/>
<rect x="117.3" y="701.8" width="9.2" height="4.8" fill="#ff1f0f"/>
<rect x="127.4" y="686.2" width="9.2" height="20.4" fill="#1a00ff"/>
<rect x="137.5" y="699.4" width="9.2" height="7.2" fill="#c624ff"/>
<line x1="111.8" y1="701.2" x2="111.8" y2="700" stroke="#000000" stroke-width="0.6"/>
<line x1="109.8" y1="700" x2="113.8" y2="700" stroke="#000000" stroke-width="0.6"/>
<line x1="109.8" y1="701.2" x2="113.8" y2="701.2" stroke="#000000" stroke-width="0.6"/>
<circle cx="111.84" cy="699.44" r="1.9" fill="#000000"/>
<circle cx="111.52" cy="698.93" r="1.9" fill="#000000"/>
<circle cx="112.15" cy="696.61" r="1.9" fill="#000000"/>
<circle cx="111.1" cy="696.11" r="1.9" fill="#000000"/>
<circle cx="113.83" cy="696.26" r="1.9" fill="#000000"/>
<circle cx="109.73" cy="700.92" r="1.9" fill="#000000"/>
<circle cx="111.5" cy="695.66" r="1.9" fill="#000000"/>
<circle cx="113.4" cy="700.38" r="1.9" fill="#000000"/>
<line x1="121.9" y1="702.4" x2="121.9" y2="701.2" stroke="#000000" stroke-width="0.6"/>
<line x1="119.9" y1="701.2" x2="123.9" y2="701.2" stroke="#000000" stroke-width="0.6"/>
<line x1="119.9" y1="702.4" x2="123.9" y2="702.4" stroke="#000000" stroke-width="0.6"/>
<circle cx="122.54" cy="701.12" r="1.9" fill="#000000"/>
<circle cx="124.36" cy="699.55" r="1.9" fill="#000000"/>
<circle cx="120.62" cy="699.57" r="1.9" fill="#000000"/>
<circle cx="121.04" cy="698.65" r="1.9" fill="#000000"/>
<circle cx="120.71" cy="703.17" r="1.9" fill="#000000"/>
<circle cx="119.67" cy="697.87" r="1.9" fill="#000000"/>
<circle cx="119.32" cy="700.98" r="1.9" fill="#000000"/>
<circle cx="121.98" cy="699.57" r="1.9" fill="#000000"/>
<circle cx="120.67" cy="699.51" r="1.9" fill="#000000"/>
<circle cx="122.38" cy="698.15" r="1.9" fill="#000000"/>
<line x1="132" y1="692.2" x2="132" y2="680.2" stroke="#000000" stroke-width="0.6"/>
<line x1="130" y1="680.2" x2="134" y2="680.2" stroke="#000000" stroke-width="0.6"/>
<line x1="130" y1="692.2" x2="134" y2="692.2" stroke="#000000" stroke-width="0.6"/>
<circle cx="130" cy="656.8" r="1.9" fill="#000000"/>
<circle cx="134" cy="657.4" r="1.9" fill="#000000"/>
<circle cx="132" cy="673" r="1.9" fill="#000000"/>
<circle cx="132" cy="693.4" r="1.9" fill="#000000"/>
<circle cx="129" cy="697.6" r="1.9" fill="#000000"/>
<circle cx="135" cy="700.6" r="1.9" fill="#000000"/>
<circle cx="132" cy="703" r="1.9" fill="#000000"/>
<line x1="142.1" y1="700" x2="142.1" y2="698.8" stroke="#000000" stroke-width="0.6"/>
<line x1="140.1" y1="698.8" x2="144.1" y2="698.8" stroke="#000000" stroke-width="0.6"/>
<line x1="140.1" y1="700" x2="144.1" y2="700" stroke="#000000" stroke-width="0.6"/>
<circle cx="144.9" cy="700.22" r="1.9" fill="#000000"/>
<circle cx="145.1" cy="697.08" r="1.9" fill="#000000"/>
<circle cx="143.79" cy="697.2" r="1.9" fill="#000000"/>
<circle cx="141.07" cy="697.39" r="1.9" fill="#000000"/>
<circle cx="141.4" cy="698.01" r="1.9" fill="#000000"/>
<circle cx="144.52" cy="697.6" r="1.9" fill="#000000"/>
<circle cx="140.48" cy="701.8" r="1.9" fill="#000000"/>
<circle cx="144.07" cy="698.79" r="1.9" fill="#000000"/>
<rect x="164.5" y="699.3" width="8.2" height="7.3" fill="#fff" stroke="#9a9a9a" stroke-width="1"/>
<rect x="174.1" y="698.8" width="9.2" height="7.8" fill="#ff1f0f"/>
<rect x="184.2" y="698.2" width="9.2" height="8.4" fill="#1a00ff"/>
<rect x="194.3" y="701.2" width="9.2" height="5.4" fill="#c624ff"/>
<line x1="168.6" y1="699.4" x2="168.6" y2="698.2" stroke="#000000" stroke-width="0.6"/>
<line x1="166.6" y1="698.2" x2="170.6" y2="698.2" stroke="#000000" stroke-width="0.6"/>
<line x1="166.6" y1="699.4" x2="170.6" y2="699.4" stroke="#000000" stroke-width="0.6"/>
<circle cx="166.44" cy="697.82" r="1.9" fill="#000000"/>
<circle cx="168.54" cy="704.9" r="1.9" fill="#000000"/>
<circle cx="168.63" cy="698.59" r="1.9" fill="#000000"/>
<circle cx="171.45" cy="695.9" r="1.9" fill="#000000"/>
<circle cx="170.49" cy="695.99" r="1.9" fill="#000000"/>
<circle cx="170.36" cy="699.82" r="1.9" fill="#000000"/>
<circle cx="169.69" cy="698.43" r="1.9" fill="#000000"/>
<circle cx="166.51" cy="701.57" r="1.9" fill="#000000"/>
<circle cx="171.11" cy="699.66" r="1.9" fill="#000000"/>
<circle cx="168.2" cy="704.71" r="1.9" fill="#000000"/>
<circle cx="169.1" cy="697.8" r="1.9" fill="#000000"/>
<circle cx="166.17" cy="698.79" r="1.9" fill="#000000"/>
<line x1="178.7" y1="699.4" x2="178.7" y2="698.2" stroke="#000000" stroke-width="0.6"/>
<line x1="176.7" y1="698.2" x2="180.7" y2="698.2" stroke="#000000" stroke-width="0.6"/>
<line x1="176.7" y1="699.4" x2="180.7" y2="699.4" stroke="#000000" stroke-width="0.6"/>
<circle cx="177.53" cy="698.54" r="1.9" fill="#000000"/>
<circle cx="180.78" cy="701.19" r="1.9" fill="#000000"/>
<circle cx="176.42" cy="697.47" r="1.9" fill="#000000"/>
<circle cx="176.18" cy="705.77" r="1.9" fill="#000000"/>
<circle cx="177.64" cy="697.81" r="1.9" fill="#000000"/>
<circle cx="177.79" cy="701.88" r="1.9" fill="#000000"/>
<circle cx="178.65" cy="698.94" r="1.9" fill="#000000"/>
<circle cx="178.61" cy="704.46" r="1.9" fill="#000000"/>
<circle cx="176.77" cy="702.26" r="1.9" fill="#000000"/>
<circle cx="175.67" cy="703.24" r="1.9" fill="#000000"/>
<circle cx="177.83" cy="702.45" r="1.9" fill="#000000"/>
<circle cx="177.51" cy="697.44" r="1.9" fill="#000000"/>
<circle cx="178.94" cy="700.64" r="1.9" fill="#000000"/>
<circle cx="179.07" cy="694.47" r="1.9" fill="#000000"/>
<line x1="188.8" y1="701.8" x2="188.8" y2="694.6" stroke="#000000" stroke-width="0.6"/>
<line x1="186.8" y1="694.6" x2="190.8" y2="694.6" stroke="#000000" stroke-width="0.6"/>
<line x1="186.8" y1="701.8" x2="190.8" y2="701.8" stroke="#000000" stroke-width="0.6"/>
<circle cx="188.8" cy="672.4" r="1.9" fill="#000000"/>
<circle cx="188.8" cy="679.6" r="1.9" fill="#000000"/>
<circle cx="190.11" cy="704.84" r="1.9" fill="#000000"/>
<circle cx="188.44" cy="703.36" r="1.9" fill="#000000"/>
<circle cx="188.1" cy="704.96" r="1.9" fill="#000000"/>
<circle cx="189.69" cy="703.28" r="1.9" fill="#000000"/>
<circle cx="191.27" cy="701.87" r="1.9" fill="#000000"/>
<circle cx="189.78" cy="701.18" r="1.9" fill="#000000"/>
<circle cx="185.93" cy="704.46" r="1.9" fill="#000000"/>
<circle cx="187.58" cy="703.61" r="1.9" fill="#000000"/>
<line x1="198.9" y1="701.8" x2="198.9" y2="700.6" stroke="#000000" stroke-width="0.6"/>
<line x1="196.9" y1="700.6" x2="200.9" y2="700.6" stroke="#000000" stroke-width="0.6"/>
<line x1="196.9" y1="701.8" x2="200.9" y2="701.8" stroke="#000000" stroke-width="0.6"/>
<circle cx="201.72" cy="700.5" r="1.9" fill="#000000"/>
<circle cx="201.72" cy="695.47" r="1.9" fill="#000000"/>
<circle cx="197.68" cy="705.62" r="1.9" fill="#000000"/>
<circle cx="197.16" cy="702.61" r="1.9" fill="#000000"/>
<circle cx="195.9" cy="694.46" r="1.9" fill="#000000"/>
<circle cx="196.61" cy="698.03" r="1.9" fill="#000000"/>
<circle cx="196.3" cy="704.46" r="1.9" fill="#000000"/>
<circle cx="201.83" cy="701.82" r="1.9" fill="#000000"/>
<circle cx="201.61" cy="695.44" r="1.9" fill="#000000"/>
<circle cx="197.91" cy="700.71" r="1.9" fill="#000000"/>
<rect x="205.8" y="701.7" width="8.2" height="4.9" fill="#fff" stroke="#9a9a9a" stroke-width="1"/>
<rect x="215.4" y="701.8" width="9.2" height="4.8" fill="#ff1f0f"/>
<rect x="225.5" y="698.8" width="9.2" height="7.8" fill="#1a00ff"/>
<rect x="235.6" y="700.6" width="9.2" height="6" fill="#c624ff"/>
<line x1="209.9" y1="701.8" x2="209.9" y2="700.6" stroke="#000000" stroke-width="0.6"/>
<line x1="207.9" y1="700.6" x2="211.9" y2="700.6" stroke="#000000" stroke-width="0.6"/>
<line x1="207.9" y1="701.8" x2="211.9" y2="701.8" stroke="#000000" stroke-width="0.6"/>
<circle cx="209.88" cy="701.31" r="1.9" fill="#000000"/>
<circle cx="212.07" cy="702.22" r="1.9" fill="#000000"/>
<circle cx="207.4" cy="702.6" r="1.9" fill="#000000"/>
<circle cx="209.16" cy="698.12" r="1.9" fill="#000000"/>
<circle cx="207.16" cy="700.13" r="1.9" fill="#000000"/>
<circle cx="210.81" cy="699.46" r="1.9" fill="#000000"/>
<circle cx="208.01" cy="700.28" r="1.9" fill="#000000"/>
<circle cx="208.74" cy="701.3" r="1.9" fill="#000000"/>
<line x1="220" y1="702.4" x2="220" y2="701.2" stroke="#000000" stroke-width="0.6"/>
<line x1="218" y1="701.2" x2="222" y2="701.2" stroke="#000000" stroke-width="0.6"/>
<line x1="218" y1="702.4" x2="222" y2="702.4" stroke="#000000" stroke-width="0.6"/>
<circle cx="221.93" cy="700.63" r="1.9" fill="#000000"/>
<circle cx="217.3" cy="705.79" r="1.9" fill="#000000"/>
<circle cx="217.9" cy="703.69" r="1.9" fill="#000000"/>
<circle cx="218.79" cy="704.13" r="1.9" fill="#000000"/>
<circle cx="221.89" cy="699.81" r="1.9" fill="#000000"/>
<circle cx="219.85" cy="700.32" r="1.9" fill="#000000"/>
<circle cx="220.77" cy="698.51" r="1.9" fill="#000000"/>
<circle cx="222.43" cy="705.27" r="1.9" fill="#000000"/>
<circle cx="218.36" cy="702.46" r="1.9" fill="#000000"/>
<circle cx="219.67" cy="705.75" r="1.9" fill="#000000"/>
<circle cx="217.98" cy="704.16" r="1.9" fill="#000000"/>
<circle cx="221.71" cy="701.76" r="1.9" fill="#000000"/>
<line x1="230.1" y1="701.2" x2="230.1" y2="696.4" stroke="#000000" stroke-width="0.6"/>
<line x1="228.1" y1="696.4" x2="232.1" y2="696.4" stroke="#000000" stroke-width="0.6"/>
<line x1="228.1" y1="701.2" x2="232.1" y2="701.2" stroke="#000000" stroke-width="0.6"/>
<circle cx="230.1" cy="687.4" r="1.9" fill="#000000"/>
<circle cx="227.18" cy="706.23" r="1.9" fill="#000000"/>
<circle cx="231.66" cy="699.92" r="1.9" fill="#000000"/>
<circle cx="229.18" cy="705.22" r="1.9" fill="#000000"/>
<circle cx="230.55" cy="702.16" r="1.9" fill="#000000"/>
<circle cx="228.2" cy="700.15" r="1.9" fill="#000000"/>
<circle cx="232.72" cy="698.99" r="1.9" fill="#000000"/>
<circle cx="228.99" cy="702.25" r="1.9" fill="#000000"/>
<line x1="240.2" y1="701.2" x2="240.2" y2="700" stroke="#000000" stroke-width="0.6"/>
<line x1="238.2" y1="700" x2="242.2" y2="700" stroke="#000000" stroke-width="0.6"/>
<line x1="238.2" y1="701.2" x2="242.2" y2="701.2" stroke="#000000" stroke-width="0.6"/>
<circle cx="239.92" cy="701.64" r="1.9" fill="#000000"/>
<circle cx="242.86" cy="701" r="1.9" fill="#000000"/>
<circle cx="240.78" cy="699.46" r="1.9" fill="#000000"/>
<circle cx="239.12" cy="702.75" r="1.9" fill="#000000"/>
<circle cx="238.56" cy="702.52" r="1.9" fill="#000000"/>
<circle cx="242.69" cy="703.46" r="1.9" fill="#000000"/>
<circle cx="241.52" cy="703.04" r="1.9" fill="#000000"/>
<circle cx="240.98" cy="703.56" r="1.9" fill="#000000"/>
<rect x="263.1" y="701.7" width="8.2" height="4.9" fill="#fff" stroke="#9a9a9a" stroke-width="1"/>
<rect x="272.7" y="701.8" width="9.2" height="4.8" fill="#ff1f0f"/>
<rect x="282.8" y="657.4" width="9.2" height="49.2" fill="#1a00ff"/>
<rect x="292.9" y="691.6" width="9.2" height="15" fill="#c624ff"/>
<line x1="267.2" y1="701.8" x2="267.2" y2="700.6" stroke="#000000" stroke-width="0.6"/>
<line x1="265.2" y1="700.6" x2="269.2" y2="700.6" stroke="#000000" stroke-width="0.6"/>
<line x1="265.2" y1="701.8" x2="269.2" y2="701.8" stroke="#000000" stroke-width="0.6"/>
<circle cx="268.61" cy="702.63" r="1.9" fill="#000000"/>
<circle cx="269.71" cy="700.42" r="1.9" fill="#000000"/>
<circle cx="264.39" cy="704.56" r="1.9" fill="#000000"/>
<circle cx="264.19" cy="701.94" r="1.9" fill="#000000"/>
<circle cx="270.2" cy="704.66" r="1.9" fill="#000000"/>
<circle cx="266.1" cy="705.29" r="1.9" fill="#000000"/>
<circle cx="265.36" cy="702.5" r="1.9" fill="#000000"/>
<circle cx="267.19" cy="704.2" r="1.9" fill="#000000"/>
<circle cx="267.51" cy="702.23" r="1.9" fill="#000000"/>
<circle cx="268.65" cy="697.82" r="1.9" fill="#000000"/>
<line x1="277.3" y1="702.4" x2="277.3" y2="701.2" stroke="#000000" stroke-width="0.6"/>
<line x1="275.3" y1="701.2" x2="279.3" y2="701.2" stroke="#000000" stroke-width="0.6"/>
<line x1="275.3" y1="702.4" x2="279.3" y2="702.4" stroke="#000000" stroke-width="0.6"/>
<circle cx="277.96" cy="696.34" r="1.9" fill="#000000"/>
<circle cx="277.57" cy="701.32" r="1.9" fill="#000000"/>
<circle cx="278.86" cy="699.4" r="1.9" fill="#000000"/>
<circle cx="275.85" cy="696.63" r="1.9" fill="#000000"/>
<circle cx="277.1" cy="703.07" r="1.9" fill="#000000"/>
<circle cx="279.67" cy="700.14" r="1.9" fill="#000000"/>
<circle cx="278.67" cy="699.45" r="1.9" fill="#000000"/>
<circle cx="277.93" cy="695.74" r="1.9" fill="#000000"/>
<circle cx="275.03" cy="705.07" r="1.9" fill="#000000"/>
<circle cx="279.96" cy="704.7" r="1.9" fill="#000000"/>
<line x1="287.4" y1="680.8" x2="287.4" y2="634.6" stroke="#000" stroke-width="0.6"/>
<line x1="285.4" y1="680.8" x2="289.4" y2="680.8" stroke="#000" stroke-width="0.6"/>
<circle cx="287.4" cy="639.4" r="1.9" fill="#000000"/>
<circle cx="287.4" cy="683.8" r="1.9" fill="#000000"/>
<circle cx="287.4" cy="686.8" r="1.9" fill="#000000"/>
<circle cx="284.4" cy="697.6" r="1.9" fill="#000000"/>
<circle cx="290.4" cy="697" r="1.9" fill="#000000"/>
<circle cx="287.4" cy="703.6" r="1.9" fill="#000000"/>
<line x1="297.5" y1="694" x2="297.5" y2="689.2" stroke="#000000" stroke-width="0.6"/>
<line x1="295.5" y1="689.2" x2="299.5" y2="689.2" stroke="#000000" stroke-width="0.6"/>
<line x1="295.5" y1="694" x2="299.5" y2="694" stroke="#000000" stroke-width="0.6"/>
<circle cx="297.5" cy="670.6" r="1.9" fill="#000000"/>
<circle cx="295.5" cy="680.8" r="1.9" fill="#000000"/>
<circle cx="299.5" cy="687.4" r="1.9" fill="#000000"/>
<circle cx="297.5" cy="691" r="1.9" fill="#000000"/>
<circle cx="294.5" cy="694.6" r="1.9" fill="#000000"/>
<circle cx="300.5" cy="695.8" r="1.9" fill="#000000"/>
<circle cx="297.5" cy="699.4" r="1.9" fill="#000000"/>
<circle cx="295.5" cy="700" r="1.9" fill="#000000"/>
<circle cx="299.5" cy="700.6" r="1.9" fill="#000000"/>
<rect x="304.6" y="702.3" width="8.2" height="4.3" fill="#fff" stroke="#9a9a9a" stroke-width="1"/>
<rect x="314.2" y="702.4" width="9.2" height="4.2" fill="#ff1f0f"/>
<rect x="324.3" y="683.2" width="9.2" height="23.4" fill="#1a00ff"/>
<rect x="334.4" y="695.2" width="9.2" height="11.4" fill="#c624ff"/>
<line x1="308.7" y1="702.4" x2="308.7" y2="701.2" stroke="#000000" stroke-width="0.6"/>
<line x1="306.7" y1="701.2" x2="310.7" y2="701.2" stroke="#000000" stroke-width="0.6"/>
<line x1="306.7" y1="702.4" x2="310.7" y2="702.4" stroke="#000000" stroke-width="0.6"/>
<circle cx="306.88" cy="703.04" r="1.9" fill="#000000"/>
<circle cx="309.4" cy="702.39" r="1.9" fill="#000000"/>
<circle cx="306.31" cy="702.19" r="1.9" fill="#000000"/>
<circle cx="311.16" cy="703.11" r="1.9" fill="#000000"/>
<circle cx="306.83" cy="701.7" r="1.9" fill="#000000"/>
<circle cx="308.46" cy="702.7" r="1.9" fill="#000000"/>
<circle cx="310.35" cy="705.66" r="1.9" fill="#000000"/>
<circle cx="311.18" cy="702.48" r="1.9" fill="#000000"/>
<circle cx="309.2" cy="705.8" r="1.9" fill="#000000"/>
<circle cx="309.8" cy="705.14" r="1.9" fill="#000000"/>
<line x1="318.8" y1="703" x2="318.8" y2="701.8" stroke="#000000" stroke-width="0.6"/>
<line x1="316.8" y1="701.8" x2="320.8" y2="701.8" stroke="#000000" stroke-width="0.6"/>
<line x1="316.8" y1="703" x2="320.8" y2="703" stroke="#000000" stroke-width="0.6"/>
<circle cx="319.02" cy="701.07" r="1.9" fill="#000000"/>
<circle cx="320.9" cy="704.81" r="1.9" fill="#000000"/>
<circle cx="317.13" cy="699.6" r="1.9" fill="#000000"/>
<circle cx="319.92" cy="703.28" r="1.9" fill="#000000"/>
<circle cx="319.42" cy="697.56" r="1.9" fill="#000000"/>
<circle cx="318.59" cy="704.27" r="1.9" fill="#000000"/>
<circle cx="318.38" cy="699.14" r="1.9" fill="#000000"/>
<circle cx="315.8" cy="704.51" r="1.9" fill="#000000"/>
<circle cx="319.18" cy="697.31" r="1.9" fill="#000000"/>
<circle cx="318.38" cy="698.14" r="1.9" fill="#000000"/>
<line x1="328.9" y1="691.6" x2="328.9" y2="674.8" stroke="#000000" stroke-width="0.6"/>
<line x1="326.9" y1="674.8" x2="330.9" y2="674.8" stroke="#000000" stroke-width="0.6"/>
<line x1="326.9" y1="691.6" x2="330.9" y2="691.6" stroke="#000000" stroke-width="0.6"/>
<circle cx="328.9" cy="671.8" r="1.9" fill="#000000"/>
<circle cx="328.9" cy="695.8" r="1.9" fill="#000000"/>
<circle cx="325.9" cy="697.6" r="1.9" fill="#000000"/>
<circle cx="331.9" cy="700.6" r="1.9" fill="#000000"/>
<line x1="339" y1="697" x2="339" y2="693.4" stroke="#000000" stroke-width="0.6"/>
<line x1="337" y1="693.4" x2="341" y2="693.4" stroke="#000000" stroke-width="0.6"/>
<line x1="337" y1="697" x2="341" y2="697" stroke="#000000" stroke-width="0.6"/>
<circle cx="339" cy="686.2" r="1.9" fill="#000000"/>
<circle cx="337" cy="691.6" r="1.9" fill="#000000"/>
<circle cx="341" cy="693.4" r="1.9" fill="#000000"/>
<circle cx="339" cy="695.2" r="1.9" fill="#000000"/>
<circle cx="336" cy="697.6" r="1.9" fill="#000000"/>
<circle cx="342" cy="698.8" r="1.9" fill="#000000"/>
<circle cx="339" cy="700.6" r="1.9" fill="#000000"/>
<circle cx="89.3" cy="604.12" r="1.9" fill="#000000"/>
<circle cx="89.6" cy="621.5" r="1.9" fill="#000000"/>
<circle cx="91.9" cy="619.6" r="1.9" fill="#000000"/>
<line x1="285.3" y1="622" x2="289.7" y2="622" stroke="#000" stroke-width="0.9"/>
<circle cx="287.5" cy="596.4" r="1.9" fill="#000000"/>
<circle cx="328.6" cy="656.4" r="1.9" fill="#000000"/>
<circle cx="332.8" cy="656.4" r="1.9" fill="#000000"/>
<polyline points="69.2,692.9 69.2,592.2 91.5,592.2 91.5,600" fill="none" stroke="#7a7a7a" stroke-width="0.8"/>
<text x="81.65" y="588.78" font-size="4.4" text-anchor="middle" fill="#333" stroke="#333" stroke-width="0.22">p&lt;0.0001</text>
<polyline points="267.4,687 267.4,588.6 287.5,588.6 287.5,592.1" fill="none" stroke="#7a7a7a" stroke-width="0.8"/>
<text x="278.2" y="586.38" font-size="4.4" text-anchor="middle" fill="#333" stroke="#333" stroke-width="0.22">p&lt;0.0001</text>
<text x="11.4" y="766.3" font-size="19.5" font-weight="bold" fill="#000" stroke="#000" stroke-width="0.3">J</text>
<line x1="50.3" y1="774.2" x2="50.3" y2="891" stroke="#8c8c8c" stroke-width="1"/>
<line x1="44.3" y1="891" x2="50.3" y2="891" stroke="#8c8c8c" stroke-width="1"/>
<text x="42.3" y="894.96" font-size="11" text-anchor="end">0</text>
<line x1="44.3" y1="861.8" x2="50.3" y2="861.8" stroke="#8c8c8c" stroke-width="1"/>
<text x="42.3" y="865.76" font-size="11" text-anchor="end">10</text>
<line x1="44.3" y1="832.6" x2="50.3" y2="832.6" stroke="#8c8c8c" stroke-width="1"/>
<text x="42.3" y="836.56" font-size="11" text-anchor="end">20</text>
<line x1="44.3" y1="803.4" x2="50.3" y2="803.4" stroke="#8c8c8c" stroke-width="1"/>
<text x="42.3" y="807.36" font-size="11" text-anchor="end">30</text>
<line x1="44.3" y1="774.2" x2="50.3" y2="774.2" stroke="#8c8c8c" stroke-width="1"/>
<text x="42.3" y="778.16" font-size="11" text-anchor="end">40</text>
<line x1="50.3" y1="891" x2="104.6" y2="891" stroke="#8c8c8c" stroke-width="1"/>
<line x1="76.9" y1="891" x2="76.9" y2="897" stroke="#8c8c8c" stroke-width="1"/>
<text x="0" y="0" font-size="10.5" text-anchor="middle" transform="translate(8.97 834) rotate(-90)">Serum IL-10</text>
<text x="0" y="0" font-size="10.5" text-anchor="middle" transform="translate(22.07 835) rotate(-90)">Concentration (pg/mL)</text>
<rect x="54.8" y="883.62" width="9.6" height="7.38" fill="#fff" stroke="#a0a0a0" stroke-width="1"/>
<rect x="65.9" y="875.82" width="10.6" height="15.18" fill="#ff1f0f"/>
<rect x="77.5" y="840.48" width="10.6" height="50.52" fill="#1a00ff"/>
<rect x="89.1" y="858.59" width="10.6" height="32.41" fill="#c624ff"/>
<line x1="59.6" y1="887.5" x2="59.6" y2="878.74" stroke="#000000" stroke-width="0.9"/>
<line x1="57.6" y1="878.74" x2="61.6" y2="878.74" stroke="#000000" stroke-width="0.9"/>
<line x1="57.6" y1="887.5" x2="61.6" y2="887.5" stroke="#000000" stroke-width="0.9"/>
<circle cx="58.6" cy="862.68" r="2" fill="#000000"/>
<circle cx="57.6" cy="879.32" r="2" fill="#000000"/>
<circle cx="61.6" cy="879.32" r="2" fill="#000000"/>
<circle cx="56.6" cy="891" r="2" fill="#000000"/>
<circle cx="59.6" cy="891" r="2" fill="#000000"/>
<circle cx="62.6" cy="891" r="2" fill="#000000"/>
<line x1="71.2" y1="883.12" x2="71.2" y2="868.52" stroke="#000000" stroke-width="0.9"/>
<line x1="69.2" y1="868.52" x2="73.2" y2="868.52" stroke="#000000" stroke-width="0.9"/>
<line x1="69.2" y1="883.12" x2="73.2" y2="883.12" stroke="#000000" stroke-width="0.9"/>
<circle cx="71.2" cy="847.78" r="2" fill="#000000"/>
<circle cx="71.2" cy="856.54" r="2" fill="#000000"/>
<circle cx="71.2" cy="872.6" r="2" fill="#000000"/>
<circle cx="71.2" cy="880.2" r="2" fill="#000000"/>
<circle cx="68.2" cy="891" r="2" fill="#000000"/>
<circle cx="70.2" cy="891" r="2" fill="#000000"/>
<circle cx="72.2" cy="891" r="2" fill="#000000"/>
<circle cx="74.2" cy="891" r="2" fill="#000000"/>
<line x1="82.8" y1="855.67" x2="82.8" y2="825.3" stroke="#000000" stroke-width="0.9"/>
<line x1="80.8" y1="825.3" x2="84.8" y2="825.3" stroke="#000000" stroke-width="0.9"/>
<line x1="80.8" y1="855.67" x2="84.8" y2="855.67" stroke="#000000" stroke-width="0.9"/>
<circle cx="82.8" cy="782.08" r="2" fill="#000000"/>
<circle cx="82.8" cy="814.2" r="2" fill="#000000"/>
<circle cx="82.8" cy="837.86" r="2" fill="#000000"/>
<circle cx="82.8" cy="865.3" r="2" fill="#000000"/>
<circle cx="82.8" cy="869.98" r="2" fill="#000000"/>
<circle cx="82.8" cy="874.94" r="2" fill="#000000"/>
<line x1="94.4" y1="876.11" x2="94.4" y2="841.07" stroke="#000000" stroke-width="0.9"/>
<line x1="92.4" y1="841.07" x2="96.4" y2="841.07" stroke="#000000" stroke-width="0.9"/>
<line x1="92.4" y1="876.11" x2="96.4" y2="876.11" stroke="#000000" stroke-width="0.9"/>
<circle cx="93.4" cy="787.92" r="2" fill="#000000"/>
<circle cx="93.4" cy="793.47" r="2" fill="#000000"/>
<circle cx="93.4" cy="870.56" r="2" fill="#000000"/>
<circle cx="91.4" cy="888.08" r="2" fill="#000000"/>
<circle cx="95.4" cy="888.66" r="2" fill="#000000"/>
<circle cx="97.4" cy="890.42" r="2" fill="#000000"/>
<circle cx="94.4" cy="891" r="2" fill="#000000"/>
<line x1="161.7" y1="771.9" x2="161.7" y2="891" stroke="#8c8c8c" stroke-width="1"/>
<line x1="155.7" y1="891" x2="161.7" y2="891" stroke="#8c8c8c" stroke-width="1"/>
<text x="153.7" y="894.96" font-size="11" text-anchor="end">0</text>
<line x1="155.7" y1="851.3" x2="161.7" y2="851.3" stroke="#8c8c8c" stroke-width="1"/>
<text x="153.7" y="855.26" font-size="11" text-anchor="end">5</text>
<line x1="155.7" y1="811.6" x2="161.7" y2="811.6" stroke="#8c8c8c" stroke-width="1"/>
<text x="153.7" y="815.56" font-size="11" text-anchor="end">10</text>
<line x1="155.7" y1="771.9" x2="161.7" y2="771.9" stroke="#8c8c8c" stroke-width="1"/>
<text x="153.7" y="775.86" font-size="11" text-anchor="end">15</text>
<line x1="161.7" y1="891" x2="217.5" y2="891" stroke="#8c8c8c" stroke-width="1"/>
<line x1="189.3" y1="891" x2="189.3" y2="897" stroke="#8c8c8c" stroke-width="1"/>
<text x="0" y="0" font-size="10.5" text-anchor="middle" transform="translate(121.08 833) rotate(-90)">Serum IL-4</text>
<text x="0" y="0" font-size="10.5" text-anchor="middle" transform="translate(133.28 832.5) rotate(-90)">Concentration (pg/mL)</text>
<rect x="167.9" y="883.56" width="9.3" height="7.44" fill="#fff" stroke="#a0a0a0" stroke-width="1"/>
<rect x="178.8" y="875.91" width="10.3" height="15.09" fill="#ff1f0f"/>
<rect x="190.2" y="867.97" width="10.3" height="23.03" fill="#1a00ff"/>
<rect x="201.6" y="859.24" width="10.3" height="31.76" fill="#c624ff"/>
<line x1="172.55" y1="885.44" x2="172.55" y2="880.68" stroke="#000000" stroke-width="0.9"/>
<line x1="170.55" y1="880.68" x2="174.55" y2="880.68" stroke="#000000" stroke-width="0.9"/>
<line x1="170.55" y1="885.44" x2="174.55" y2="885.44" stroke="#000000" stroke-width="0.9"/>
<circle cx="173.55" cy="874.33" r="2" fill="#000000"/>
<circle cx="170.55" cy="883.85" r="2" fill="#000000"/>
<circle cx="174.55" cy="886.24" r="2" fill="#000000"/>
<circle cx="172.55" cy="888.62" r="2" fill="#000000"/>
<circle cx="172.55" cy="891" r="2" fill="#000000"/>
<line x1="183.95" y1="880.68" x2="183.95" y2="871.15" stroke="#000000" stroke-width="0.9"/>
<line x1="181.95" y1="871.15" x2="185.95" y2="871.15" stroke="#000000" stroke-width="0.9"/>
<line x1="181.95" y1="880.68" x2="185.95" y2="880.68" stroke="#000000" stroke-width="0.9"/>
<circle cx="183.95" cy="852.09" r="2" fill="#000000"/>
<circle cx="182.95" cy="868.77" r="2" fill="#000000"/>
<circle cx="185.95" cy="868.77" r="2" fill="#000000"/>
<circle cx="183.95" cy="879.88" r="2" fill="#000000"/>
<circle cx="181.95" cy="884.65" r="2" fill="#000000"/>
<circle cx="185.95" cy="886.24" r="2" fill="#000000"/>
<circle cx="183.95" cy="891" r="2" fill="#000000"/>
<line x1="195.35" y1="875.91" x2="195.35" y2="860.03" stroke="#000000" stroke-width="0.9"/>
<line x1="193.35" y1="860.03" x2="197.35" y2="860.03" stroke="#000000" stroke-width="0.9"/>
<line x1="193.35" y1="875.91" x2="197.35" y2="875.91" stroke="#000000" stroke-width="0.9"/>
<circle cx="195.35" cy="844.95" r="2" fill="#000000"/>
<circle cx="195.35" cy="851.3" r="2" fill="#000000"/>
<circle cx="195.35" cy="878.3" r="2" fill="#000000"/>
<circle cx="192.35" cy="881.47" r="2" fill="#000000"/>
<circle cx="198.35" cy="881.47" r="2" fill="#000000"/>
<line x1="206.75" y1="876.71" x2="206.75" y2="841.77" stroke="#000000" stroke-width="0.9"/>
<line x1="204.75" y1="841.77" x2="208.75" y2="841.77" stroke="#000000" stroke-width="0.9"/>
<line x1="204.75" y1="876.71" x2="208.75" y2="876.71" stroke="#000000" stroke-width="0.9"/>
<circle cx="206.75" cy="786.19" r="2" fill="#000000"/>
<circle cx="206.75" cy="799.69" r="2" fill="#000000"/>
<circle cx="206.75" cy="879.09" r="2" fill="#000000"/>
<circle cx="203.75" cy="886.24" r="2" fill="#000000"/>
<circle cx="209.75" cy="887.03" r="2" fill="#000000"/>
<circle cx="206.75" cy="891" r="2" fill="#000000"/>
<text x="240.6" y="764" font-size="19.5" font-weight="bold" fill="#000" stroke="#000" stroke-width="0.3">K</text>
<line x1="272.2" y1="776.3" x2="272.2" y2="802.2" stroke="#8c8c8c" stroke-width="1"/>
<line x1="265.7" y1="776.3" x2="272.2" y2="776.3" stroke="#8c8c8c" stroke-width="1"/>
<text x="264.2" y="779.06" font-size="9.2" text-anchor="end">150</text>
<line x1="265.7" y1="786.65" x2="272.2" y2="786.65" stroke="#8c8c8c" stroke-width="1"/>
<text x="264.2" y="789.41" font-size="9.2" text-anchor="end">100</text>
<line x1="265.7" y1="797" x2="272.2" y2="797" stroke="#8c8c8c" stroke-width="1"/>
<text x="264.2" y="799.76" font-size="9.2" text-anchor="end">50</text>
<line x1="268.2" y1="802.3" x2="275.9" y2="802.3" stroke="#8c8c8c" stroke-width="1"/>
<line x1="272.2" y1="814.3" x2="272.2" y2="894" stroke="#8c8c8c" stroke-width="1"/>
<line x1="265.7" y1="894" x2="272.2" y2="894" stroke="#8c8c8c" stroke-width="1"/>
<text x="264.2" y="897.04" font-size="9.2" text-anchor="end">0</text>
<line x1="265.7" y1="878.08" x2="272.2" y2="878.08" stroke="#8c8c8c" stroke-width="1"/>
<text x="264.2" y="881.12" font-size="9.2" text-anchor="end">2</text>
<line x1="265.7" y1="862.16" x2="272.2" y2="862.16" stroke="#8c8c8c" stroke-width="1"/>
<text x="264.2" y="865.2" font-size="9.2" text-anchor="end">4</text>
<line x1="265.7" y1="846.24" x2="272.2" y2="846.24" stroke="#8c8c8c" stroke-width="1"/>
<text x="264.2" y="849.28" font-size="9.2" text-anchor="end">6</text>
<line x1="265.7" y1="830.32" x2="272.2" y2="830.32" stroke="#8c8c8c" stroke-width="1"/>
<text x="264.2" y="833.36" font-size="9.2" text-anchor="end">8</text>
<text x="264.2" y="817.44" font-size="9.2" text-anchor="end">10</text>
<line x1="268.2" y1="814.3" x2="275.9" y2="814.3" stroke="#8c8c8c" stroke-width="1"/>
<line x1="272.2" y1="894" x2="322" y2="894" stroke="#8c8c8c" stroke-width="1"/>
<line x1="296.6" y1="894" x2="296.6" y2="900" stroke="#8c8c8c" stroke-width="1"/>
<text x="0" y="0" font-size="9.6" text-anchor="middle" transform="translate(231.26 838) rotate(-90)">Serum CCL2</text>
<text x="0" y="0" font-size="9.5" text-anchor="middle" transform="translate(242.62 838) rotate(-90)">Concentration (pg/mL)</text>
<rect x="276.9" y="857.09" width="8.6" height="36.91" fill="#fff" stroke="#a0a0a0" stroke-width="1"/>
<rect x="286.9" y="894" width="9.6" height="0" fill="#ff1f0f"/>
<rect x="297.4" y="874.1" width="9.6" height="19.9" fill="#1a00ff"/>
<rect x="307.9" y="876.49" width="9.6" height="17.51" fill="#c624ff"/>
<line x1="281.2" y1="862.16" x2="281.2" y2="851.02" stroke="#000000" stroke-width="0.9"/>
<line x1="279.2" y1="851.02" x2="283.2" y2="851.02" stroke="#000000" stroke-width="0.9"/>
<line x1="279.2" y1="862.16" x2="283.2" y2="862.16" stroke="#000000" stroke-width="0.9"/>
<circle cx="281.2" cy="841.46" r="2" fill="#000000"/>
<circle cx="281.2" cy="849.42" r="2" fill="#000000"/>
<circle cx="281.2" cy="855.79" r="2" fill="#000000"/>
<circle cx="278.2" cy="866.94" r="2" fill="#000000"/>
<circle cx="284.2" cy="866.94" r="2" fill="#000000"/>
<line x1="302.2" y1="877.28" x2="302.2" y2="870.92" stroke="#000000" stroke-width="0.9"/>
<line x1="300.2" y1="870.92" x2="304.2" y2="870.92" stroke="#000000" stroke-width="0.9"/>
<line x1="300.2" y1="877.28" x2="304.2" y2="877.28" stroke="#000000" stroke-width="0.9"/>
<circle cx="300.2" cy="868.53" r="2" fill="#000000"/>
<circle cx="304.2" cy="870.12" r="2" fill="#000000"/>
<circle cx="305.2" cy="871.71" r="2" fill="#000000"/>
<circle cx="301.2" cy="873.3" r="2" fill="#000000"/>
<circle cx="302.2" cy="888.43" r="2" fill="#000000"/>
<line x1="312.7" y1="882.06" x2="312.7" y2="870.92" stroke="#000000" stroke-width="0.9"/>
<line x1="310.7" y1="870.92" x2="314.7" y2="870.92" stroke="#000000" stroke-width="0.9"/>
<line x1="310.7" y1="882.06" x2="314.7" y2="882.06" stroke="#000000" stroke-width="0.9"/>
<circle cx="312.7" cy="859.77" r="2" fill="#000000"/>
<circle cx="312.7" cy="865.34" r="2" fill="#000000"/>
<circle cx="312.7" cy="878.08" r="2" fill="#000000"/>
<circle cx="309.7" cy="888.43" r="2" fill="#000000"/>
<circle cx="315.7" cy="888.43" r="2" fill="#000000"/>
<rect x="286.8" y="814.3" width="9.3" height="79.7" fill="#ff1f0f"/>
<rect x="286.8" y="798.3" width="9.3" height="3.9" fill="#ff1f0f"/>
<line x1="291.5" y1="790.5" x2="291.5" y2="802.2" stroke="#000" stroke-width="0.9"/>
<line x1="289.5" y1="790.5" x2="293.5" y2="790.5" stroke="#000" stroke-width="0.9"/>
<circle cx="291.5" cy="786.4" r="2" fill="#000000"/>
<circle cx="291" cy="792.9" r="2" fill="#000000"/>
<circle cx="291.5" cy="801.6" r="2" fill="#000000"/>
<circle cx="288.5" cy="833.7" r="2" fill="#000000"/>
<circle cx="294.5" cy="832.3" r="2" fill="#000000"/>
<polyline points="281.3,829.7 281.3,771 291,771 291,782.4" fill="none" stroke="#7a7a7a" stroke-width="0.8"/>
<text x="286.05" y="768.62" font-size="4.5" text-anchor="middle" fill="#333" stroke="#333" stroke-width="0.22">p=0.0578</text>
<polyline points="292.2,782.4 292.2,775.4 312,775.4 312,848.1" fill="none" stroke="#7a7a7a" stroke-width="0.8"/>
<text x="302.35" y="773.52" font-size="4.5" text-anchor="middle" fill="#333" stroke="#333" stroke-width="0.22">p=0.0356</text>
<line x1="380.7" y1="776.2" x2="380.7" y2="892" stroke="#8c8c8c" stroke-width="1"/>
<line x1="374.2" y1="892" x2="380.7" y2="892" stroke="#8c8c8c" stroke-width="1"/>
<text x="372.2" y="895.53" font-size="9.8" text-anchor="end">0</text>
<line x1="374.2" y1="853.4" x2="380.7" y2="853.4" stroke="#8c8c8c" stroke-width="1"/>
<text x="372.2" y="856.93" font-size="9.8" text-anchor="end">50</text>
<line x1="374.2" y1="814.8" x2="380.7" y2="814.8" stroke="#8c8c8c" stroke-width="1"/>
<text x="372.2" y="818.33" font-size="9.8" text-anchor="end">100</text>
<line x1="374.2" y1="776.2" x2="380.7" y2="776.2" stroke="#8c8c8c" stroke-width="1"/>
<text x="372.2" y="779.73" font-size="9.8" text-anchor="end">150</text>
<line x1="380.7" y1="892" x2="433.4" y2="892" stroke="#8c8c8c" stroke-width="1"/>
<line x1="407.5" y1="892" x2="407.5" y2="898" stroke="#8c8c8c" stroke-width="1"/>
<text x="0" y="0" font-size="10.5" text-anchor="middle" transform="translate(334.88 835) rotate(-90)">Serum IL-6</text>
<text x="0" y="0" font-size="10.2" text-anchor="middle" transform="translate(348.07 835.3) rotate(-90)">Concentration (pg/mL)</text>
<rect x="385.9" y="836.92" width="9" height="55.08" fill="#fff" stroke="#a0a0a0" stroke-width="1"/>
<rect x="396.6" y="854.94" width="10" height="37.06" fill="#ff1f0f"/>
<rect x="407.8" y="869.23" width="10" height="22.77" fill="#1a00ff"/>
<rect x="419" y="850.7" width="10" height="41.3" fill="#c624ff"/>
<line x1="390.4" y1="849.54" x2="390.4" y2="823.29" stroke="#000000" stroke-width="0.9"/>
<line x1="388.4" y1="823.29" x2="392.4" y2="823.29" stroke="#000000" stroke-width="0.9"/>
<line x1="388.4" y1="849.54" x2="392.4" y2="849.54" stroke="#000000" stroke-width="0.9"/>
<circle cx="390.4" cy="794.73" r="2" fill="#000000"/>
<circle cx="390.4" cy="797.82" r="2" fill="#000000"/>
<circle cx="390.4" cy="841.82" r="2" fill="#000000"/>
<circle cx="390.4" cy="858.03" r="2" fill="#000000"/>
<circle cx="390.4" cy="861.89" r="2" fill="#000000"/>
<circle cx="390.4" cy="866.52" r="2" fill="#000000"/>
<line x1="401.6" y1="861.89" x2="401.6" y2="848" stroke="#000000" stroke-width="0.9"/>
<line x1="399.6" y1="848" x2="403.6" y2="848" stroke="#000000" stroke-width="0.9"/>
<line x1="399.6" y1="861.89" x2="403.6" y2="861.89" stroke="#000000" stroke-width="0.9"/>
<circle cx="399.6" cy="844.14" r="2" fill="#000000"/>
<circle cx="402.6" cy="845.68" r="2" fill="#000000"/>
<circle cx="404.6" cy="844.91" r="2" fill="#000000"/>
<circle cx="401.6" cy="864.98" r="2" fill="#000000"/>
<circle cx="401.6" cy="872.7" r="2" fill="#000000"/>
<line x1="412.8" y1="874.63" x2="412.8" y2="863.82" stroke="#000000" stroke-width="0.9"/>
<line x1="410.8" y1="863.82" x2="414.8" y2="863.82" stroke="#000000" stroke-width="0.9"/>
<line x1="410.8" y1="874.63" x2="414.8" y2="874.63" stroke="#000000" stroke-width="0.9"/>
<circle cx="409.8" cy="844.14" r="2" fill="#000000"/>
<circle cx="412.8" cy="858.03" r="2" fill="#000000"/>
<circle cx="414.8" cy="864.98" r="2" fill="#000000"/>
<circle cx="410.8" cy="871.93" r="2" fill="#000000"/>
<circle cx="414.8" cy="873.47" r="2" fill="#000000"/>
<circle cx="412.8" cy="878.1" r="2" fill="#000000"/>
<circle cx="409.8" cy="881.19" r="2" fill="#000000"/>
<circle cx="415.8" cy="881.96" r="2" fill="#000000"/>
<line x1="424" y1="857.65" x2="424" y2="843.75" stroke="#000000" stroke-width="0.9"/>
<line x1="422" y1="843.75" x2="426" y2="843.75" stroke="#000000" stroke-width="0.9"/>
<line x1="422" y1="857.65" x2="426" y2="857.65" stroke="#000000" stroke-width="0.9"/>
<circle cx="421" cy="836.42" r="2" fill="#000000"/>
<circle cx="427" cy="837.19" r="2" fill="#000000"/>
<circle cx="424" cy="844.14" r="2" fill="#000000"/>
<circle cx="424" cy="862.66" r="2" fill="#000000"/>
<circle cx="424" cy="869.61" r="2" fill="#000000"/>
<polyline points="391.1,790.5 391.1,782.7 402.2,782.7 402.2,835.8" fill="none" stroke="#7a7a7a" stroke-width="0.8"/>
<text x="398.1" y="779.62" font-size="4.5" text-anchor="middle" fill="#333" stroke="#333" stroke-width="0.22">p=0.0317</text>
<text x="456.8" y="767.5" font-size="19.5" font-weight="bold" fill="#000" stroke="#000" stroke-width="0.3">L</text>
<line x1="500.4" y1="774.5" x2="500.4" y2="888.8" stroke="#8c8c8c" stroke-width="1"/>
<line x1="493.9" y1="888.8" x2="500.4" y2="888.8" stroke="#8c8c8c" stroke-width="1"/>
<text x="491.9" y="892.36" font-size="9.9" text-anchor="end">0</text>
<line x1="493.9" y1="865.94" x2="500.4" y2="865.94" stroke="#8c8c8c" stroke-width="1"/>
<text x="491.9" y="869.5" font-size="9.9" text-anchor="end">1000</text>
<line x1="493.9" y1="843.08" x2="500.4" y2="843.08" stroke="#8c8c8c" stroke-width="1"/>
<text x="491.9" y="846.64" font-size="9.9" text-anchor="end">2000</text>
<line x1="493.9" y1="820.22" x2="500.4" y2="820.22" stroke="#8c8c8c" stroke-width="1"/>
<text x="491.9" y="823.78" font-size="9.9" text-anchor="end">3000</text>
<line x1="493.9" y1="797.36" x2="500.4" y2="797.36" stroke="#8c8c8c" stroke-width="1"/>
<text x="491.9" y="800.92" font-size="9.9" text-anchor="end">4000</text>
<line x1="493.9" y1="774.5" x2="500.4" y2="774.5" stroke="#8c8c8c" stroke-width="1"/>
<text x="491.9" y="778.06" font-size="9.9" text-anchor="end">5000</text>
<line x1="500.4" y1="888.8" x2="553.9" y2="888.8" stroke="#8c8c8c" stroke-width="1"/>
<line x1="527.1" y1="888.8" x2="527.1" y2="894.8" stroke="#8c8c8c" stroke-width="1"/>
<text x="0" y="0" font-size="9.9" text-anchor="middle" transform="translate(449.56 832.4) rotate(-90)">Serum&#160;&#160;Adiponectin</text>
<text x="0" y="0" font-size="10" text-anchor="middle" transform="translate(462.8 833) rotate(-90)">(pg/mL)</text>
<rect x="505.7" y="837.87" width="9.4" height="50.93" fill="#fff" stroke="#a0a0a0" stroke-width="1"/>
<rect x="516.35" y="841.25" width="10.4" height="47.55" fill="#ff1f0f"/>
<rect x="527.5" y="817.93" width="10.4" height="70.87" fill="#1a00ff"/>
<rect x="538.65" y="833.25" width="10.4" height="55.55" fill="#c624ff"/>
<line x1="510.4" y1="843.77" x2="510.4" y2="830.96" stroke="#000000" stroke-width="0.9"/>
<line x1="508.4" y1="830.96" x2="512.4" y2="830.96" stroke="#000000" stroke-width="0.9"/>
<line x1="508.4" y1="843.77" x2="512.4" y2="843.77" stroke="#000000" stroke-width="0.9"/>
<circle cx="507.4" cy="831.65" r="2" fill="#000000"/>
<circle cx="510.4" cy="828.91" r="2" fill="#000000"/>
<circle cx="510.4" cy="834.39" r="2" fill="#000000"/>
<circle cx="510.4" cy="856.11" r="2" fill="#000000"/>
<line x1="521.55" y1="850.85" x2="521.55" y2="831.65" stroke="#000000" stroke-width="0.9"/>
<line x1="519.55" y1="831.65" x2="523.55" y2="831.65" stroke="#000000" stroke-width="0.9"/>
<line x1="519.55" y1="850.85" x2="523.55" y2="850.85" stroke="#000000" stroke-width="0.9"/>
<circle cx="521.55" cy="808.1" r="2" fill="#000000"/>
<circle cx="521.55" cy="831.65" r="2" fill="#000000"/>
<circle cx="521.55" cy="851.08" r="2" fill="#000000"/>
<circle cx="521.55" cy="865.94" r="2" fill="#000000"/>
<line x1="532.7" y1="827.54" x2="532.7" y2="808.33" stroke="#000000" stroke-width="0.9"/>
<line x1="530.7" y1="808.33" x2="534.7" y2="808.33" stroke="#000000" stroke-width="0.9"/>
<line x1="530.7" y1="827.54" x2="534.7" y2="827.54" stroke="#000000" stroke-width="0.9"/>
<circle cx="532.7" cy="788.22" r="2" fill="#000000"/>
<circle cx="532.7" cy="811.08" r="2" fill="#000000"/>
<circle cx="535.7" cy="822.51" r="2" fill="#000000"/>
<circle cx="532.7" cy="840.79" r="2" fill="#000000"/>
<line x1="543.85" y1="844.22" x2="543.85" y2="822.28" stroke="#000000" stroke-width="0.9"/>
<line x1="541.85" y1="822.28" x2="545.85" y2="822.28" stroke="#000000" stroke-width="0.9"/>
<line x1="541.85" y1="844.22" x2="545.85" y2="844.22" stroke="#000000" stroke-width="0.9"/>
<circle cx="543.85" cy="798.5" r="2" fill="#000000"/>
<circle cx="543.85" cy="820.22" r="2" fill="#000000"/>
<circle cx="543.85" cy="839.65" r="2" fill="#000000"/>
<circle cx="543.85" cy="845.37" r="2" fill="#000000"/>
<circle cx="543.85" cy="862.51" r="2" fill="#000000"/>
<line x1="621.5" y1="784.4" x2="621.5" y2="887.4" stroke="#8c8c8c" stroke-width="1"/>
<line x1="615" y1="887.4" x2="621.5" y2="887.4" stroke="#8c8c8c" stroke-width="1"/>
<text x="613" y="890.6" font-size="8.9" text-anchor="end">0</text>
<line x1="615" y1="866.8" x2="621.5" y2="866.8" stroke="#8c8c8c" stroke-width="1"/>
<text x="613" y="870" font-size="8.9" text-anchor="end">500</text>
<line x1="615" y1="846.2" x2="621.5" y2="846.2" stroke="#8c8c8c" stroke-width="1"/>
<text x="613" y="849.4" font-size="8.9" text-anchor="end">1000</text>
<line x1="615" y1="825.6" x2="621.5" y2="825.6" stroke="#8c8c8c" stroke-width="1"/>
<text x="613" y="828.8" font-size="8.9" text-anchor="end">1500</text>
<line x1="615" y1="805" x2="621.5" y2="805" stroke="#8c8c8c" stroke-width="1"/>
<text x="613" y="808.2" font-size="8.9" text-anchor="end">2000</text>
<line x1="615" y1="784.4" x2="621.5" y2="784.4" stroke="#8c8c8c" stroke-width="1"/>
<text x="613" y="787.6" font-size="8.9" text-anchor="end">2500</text>
<line x1="621.5" y1="887.4" x2="669.5" y2="887.4" stroke="#8c8c8c" stroke-width="1"/>
<line x1="645.2" y1="887.4" x2="645.2" y2="893.4" stroke="#8c8c8c" stroke-width="1"/>
<text x="0" y="0" font-size="9.4" text-anchor="middle" transform="translate(576.39 837.1) rotate(-90)">Serum Leptin</text>
<text x="0" y="0" font-size="9.3" text-anchor="middle" transform="translate(586.96 837.1) rotate(-90)">Concentration (pg/uL)</text>
<rect x="626.5" y="853.62" width="7.8" height="33.78" fill="#fff" stroke="#a0a0a0" stroke-width="1"/>
<rect x="636.1" y="817.36" width="8.8" height="70.04" fill="#ff1f0f"/>
<rect x="646.2" y="882.87" width="8.8" height="4.53" fill="#1a00ff"/>
<rect x="656.3" y="863.71" width="8.8" height="23.69" fill="#c624ff"/>
<line x1="630.4" y1="863.42" x2="630.4" y2="842.82" stroke="#000000" stroke-width="0.9"/>
<line x1="628.4" y1="842.82" x2="632.4" y2="842.82" stroke="#000000" stroke-width="0.9"/>
<line x1="628.4" y1="863.42" x2="632.4" y2="863.42" stroke="#000000" stroke-width="0.9"/>
<circle cx="630.4" cy="827.66" r="2" fill="#000000"/>
<circle cx="630.4" cy="833.84" r="2" fill="#000000"/>
<circle cx="630.4" cy="852.38" r="2" fill="#000000"/>
<circle cx="630.4" cy="868.86" r="2" fill="#000000"/>
<circle cx="630.4" cy="882.46" r="2" fill="#000000"/>
<line x1="640.5" y1="823.95" x2="640.5" y2="810.77" stroke="#000000" stroke-width="0.9"/>
<line x1="638.5" y1="810.77" x2="642.5" y2="810.77" stroke="#000000" stroke-width="0.9"/>
<line x1="638.5" y1="823.95" x2="642.5" y2="823.95" stroke="#000000" stroke-width="0.9"/>
<circle cx="640.5" cy="798" r="2" fill="#000000"/>
<circle cx="640.5" cy="809.12" r="2" fill="#000000"/>
<circle cx="638.5" cy="825.6" r="2" fill="#000000"/>
<circle cx="642.5" cy="826.42" r="2" fill="#000000"/>
<circle cx="643.5" cy="827.66" r="2" fill="#000000"/>
<circle cx="637.5" cy="828.9" r="2" fill="#000000"/>
<line x1="650.6" y1="884.52" x2="650.6" y2="881.22" stroke="#000000" stroke-width="0.9"/>
<line x1="648.6" y1="881.22" x2="652.6" y2="881.22" stroke="#000000" stroke-width="0.9"/>
<line x1="648.6" y1="884.52" x2="652.6" y2="884.52" stroke="#000000" stroke-width="0.9"/>
<circle cx="648.6" cy="875.04" r="2" fill="#000000"/>
<circle cx="652.6" cy="876.69" r="2" fill="#000000"/>
<circle cx="650.6" cy="883.28" r="2" fill="#000000"/>
<circle cx="647.6" cy="885.34" r="2" fill="#000000"/>
<circle cx="653.6" cy="886.16" r="2" fill="#000000"/>
<circle cx="651.6" cy="886.99" r="2" fill="#000000"/>
<line x1="660.7" y1="869.48" x2="660.7" y2="857.94" stroke="#000000" stroke-width="0.9"/>
<line x1="658.7" y1="857.94" x2="662.7" y2="857.94" stroke="#000000" stroke-width="0.9"/>
<line x1="658.7" y1="869.48" x2="662.7" y2="869.48" stroke="#000000" stroke-width="0.9"/>
<circle cx="660.7" cy="845.79" r="2" fill="#000000"/>
<circle cx="658.7" cy="857.74" r="2" fill="#000000"/>
<circle cx="662.7" cy="858.56" r="2" fill="#000000"/>
<circle cx="660.7" cy="861.86" r="2" fill="#000000"/>
<circle cx="660.7" cy="881.22" r="2" fill="#000000"/>
<circle cx="660.7" cy="886.58" r="2" fill="#000000"/>
<polyline points="639,793.8 639,777.4 660,777.4 660,844.9" fill="none" stroke="#7a7a7a" stroke-width="0.8"/>
<text x="650.6" y="775.28" font-size="4.4" text-anchor="middle" fill="#333" stroke="#333" stroke-width="0.22">p=0.0122</text>
<polyline points="642.1,794.7 642.1,789.8 648.5,789.8 648.5,874.1" fill="none" stroke="#7a7a7a" stroke-width="0.8"/>
<text x="650.6" y="787.58" font-size="4.4" text-anchor="middle" fill="#333" stroke="#333" stroke-width="0.22">p=0.0153</text></svg>
</body></html>
